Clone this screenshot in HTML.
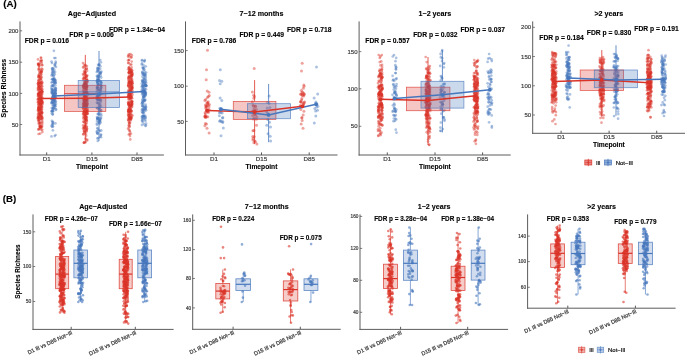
<!DOCTYPE html>
<html><head><meta charset="utf-8"><style>html,body{margin:0;padding:0;background:#fff;width:685px;height:356px;overflow:hidden}svg{display:block;will-change:transform}text{font-family:"Liberation Sans", sans-serif}</style></head>
<body><svg width="685" height="356" viewBox="0 0 685 356" font-family='"Liberation Sans", sans-serif'><text x="3.20" y="7.30" font-size="9.7" font-weight="bold" text-anchor="start" fill="#000" stroke="#000" stroke-width="0.12">(A)</text>
<text x="2.80" y="202.20" font-size="9.7" font-weight="bold" text-anchor="start" fill="#000" stroke="#000" stroke-width="0.12">(B)</text>
<text x="91.95" y="15.80" font-size="7.15" font-weight="bold" text-anchor="middle" fill="#000" stroke="#000" stroke-width="0.12">Age−Adjusted</text>
<g fill="#DA3328" fill-opacity="0.45"><circle cx="40.9" cy="57.5" r="1.35"/><circle cx="38.6" cy="134.0" r="1.35"/><circle cx="42.0" cy="91.3" r="1.35"/><circle cx="42.4" cy="89.4" r="1.35"/><circle cx="38.9" cy="76.5" r="1.35"/><circle cx="42.3" cy="91.5" r="1.35"/><circle cx="39.7" cy="119.4" r="1.35"/><circle cx="40.1" cy="104.9" r="1.35"/><circle cx="42.5" cy="117.8" r="1.35"/><circle cx="41.7" cy="101.2" r="1.35"/><circle cx="38.6" cy="104.3" r="1.35"/><circle cx="39.9" cy="99.9" r="1.35"/><circle cx="40.3" cy="61.0" r="1.35"/><circle cx="39.5" cy="114.0" r="1.35"/><circle cx="38.8" cy="106.6" r="1.35"/><circle cx="39.4" cy="106.5" r="1.35"/><circle cx="41.2" cy="60.5" r="1.35"/><circle cx="38.0" cy="59.4" r="1.35"/><circle cx="40.4" cy="77.3" r="1.35"/><circle cx="39.9" cy="86.2" r="1.35"/><circle cx="38.0" cy="102.4" r="1.35"/><circle cx="39.4" cy="95.0" r="1.35"/><circle cx="40.8" cy="106.9" r="1.35"/><circle cx="40.3" cy="82.5" r="1.35"/><circle cx="38.2" cy="102.5" r="1.35"/><circle cx="42.4" cy="104.3" r="1.35"/><circle cx="41.5" cy="82.1" r="1.35"/><circle cx="42.4" cy="132.1" r="1.35"/><circle cx="38.4" cy="107.7" r="1.35"/><circle cx="39.1" cy="121.1" r="1.35"/><circle cx="38.1" cy="83.0" r="1.35"/><circle cx="41.5" cy="80.5" r="1.35"/><circle cx="39.1" cy="88.8" r="1.35"/><circle cx="38.5" cy="93.8" r="1.35"/><circle cx="39.8" cy="109.3" r="1.35"/><circle cx="42.1" cy="101.2" r="1.35"/><circle cx="41.7" cy="86.6" r="1.35"/><circle cx="39.1" cy="75.9" r="1.35"/><circle cx="38.6" cy="85.1" r="1.35"/><circle cx="42.1" cy="121.6" r="1.35"/><circle cx="40.5" cy="79.0" r="1.35"/><circle cx="41.1" cy="101.1" r="1.35"/><circle cx="38.3" cy="105.0" r="1.35"/><circle cx="38.2" cy="64.7" r="1.35"/><circle cx="41.1" cy="97.0" r="1.35"/><circle cx="39.9" cy="123.4" r="1.35"/><circle cx="38.2" cy="89.2" r="1.35"/><circle cx="42.2" cy="93.8" r="1.35"/><circle cx="40.8" cy="78.8" r="1.35"/><circle cx="41.6" cy="106.4" r="1.35"/><circle cx="38.3" cy="94.7" r="1.35"/><circle cx="41.8" cy="65.2" r="1.35"/><circle cx="38.2" cy="113.4" r="1.35"/><circle cx="41.9" cy="110.1" r="1.35"/><circle cx="40.0" cy="115.9" r="1.35"/><circle cx="39.5" cy="126.3" r="1.35"/><circle cx="40.4" cy="103.6" r="1.35"/><circle cx="42.2" cy="98.5" r="1.35"/><circle cx="39.1" cy="68.7" r="1.35"/><circle cx="38.5" cy="108.9" r="1.35"/><circle cx="40.3" cy="83.2" r="1.35"/><circle cx="39.0" cy="86.5" r="1.35"/><circle cx="38.4" cy="69.4" r="1.35"/><circle cx="38.6" cy="75.7" r="1.35"/><circle cx="38.1" cy="84.8" r="1.35"/><circle cx="38.8" cy="123.1" r="1.35"/><circle cx="39.3" cy="65.4" r="1.35"/><circle cx="39.3" cy="101.0" r="1.35"/><circle cx="41.4" cy="126.3" r="1.35"/><circle cx="39.2" cy="108.1" r="1.35"/><circle cx="40.2" cy="103.5" r="1.35"/><circle cx="38.7" cy="80.5" r="1.35"/><circle cx="39.5" cy="72.5" r="1.35"/><circle cx="38.0" cy="116.5" r="1.35"/><circle cx="39.1" cy="119.1" r="1.35"/><circle cx="38.0" cy="99.3" r="1.35"/><circle cx="41.3" cy="101.2" r="1.35"/><circle cx="40.4" cy="105.1" r="1.35"/><circle cx="38.8" cy="129.5" r="1.35"/><circle cx="40.1" cy="109.0" r="1.35"/><circle cx="42.2" cy="106.9" r="1.35"/><circle cx="38.4" cy="107.5" r="1.35"/><circle cx="41.7" cy="63.1" r="1.35"/><circle cx="39.9" cy="122.9" r="1.35"/><circle cx="40.2" cy="116.1" r="1.35"/><circle cx="41.7" cy="107.1" r="1.35"/><circle cx="39.7" cy="82.7" r="1.35"/><circle cx="40.2" cy="113.7" r="1.35"/><circle cx="41.1" cy="58.0" r="1.35"/><circle cx="42.4" cy="92.1" r="1.35"/><circle cx="39.5" cy="117.4" r="1.35"/><circle cx="41.7" cy="68.5" r="1.35"/><circle cx="41.2" cy="129.8" r="1.35"/><circle cx="40.8" cy="107.6" r="1.35"/><circle cx="39.8" cy="92.8" r="1.35"/><circle cx="39.5" cy="102.8" r="1.35"/><circle cx="38.2" cy="109.6" r="1.35"/><circle cx="38.5" cy="98.5" r="1.35"/><circle cx="38.2" cy="120.1" r="1.35"/><circle cx="41.3" cy="82.1" r="1.35"/><circle cx="39.1" cy="87.3" r="1.35"/><circle cx="38.7" cy="117.9" r="1.35"/><circle cx="38.3" cy="96.6" r="1.35"/><circle cx="41.8" cy="77.5" r="1.35"/><circle cx="41.9" cy="115.9" r="1.35"/><circle cx="41.0" cy="126.8" r="1.35"/><circle cx="39.2" cy="86.7" r="1.35"/><circle cx="39.0" cy="67.0" r="1.35"/><circle cx="39.2" cy="93.2" r="1.35"/><circle cx="40.0" cy="92.9" r="1.35"/><circle cx="38.6" cy="89.7" r="1.35"/><circle cx="40.0" cy="125.5" r="1.35"/><circle cx="39.1" cy="74.4" r="1.35"/><circle cx="42.3" cy="122.5" r="1.35"/><circle cx="42.4" cy="69.4" r="1.35"/><circle cx="40.4" cy="79.5" r="1.35"/><circle cx="39.0" cy="109.3" r="1.35"/><circle cx="42.3" cy="119.7" r="1.35"/><circle cx="39.3" cy="114.0" r="1.35"/><circle cx="39.5" cy="103.2" r="1.35"/><circle cx="37.9" cy="99.0" r="1.35"/><circle cx="39.7" cy="99.2" r="1.35"/><circle cx="40.1" cy="108.1" r="1.35"/><circle cx="40.2" cy="92.3" r="1.35"/><circle cx="38.8" cy="101.8" r="1.35"/><circle cx="40.2" cy="108.0" r="1.35"/><circle cx="37.9" cy="96.0" r="1.35"/><circle cx="39.1" cy="112.0" r="1.35"/><circle cx="38.3" cy="107.9" r="1.35"/><circle cx="39.7" cy="102.8" r="1.35"/><circle cx="38.1" cy="87.0" r="1.35"/><circle cx="38.0" cy="88.2" r="1.35"/><circle cx="39.3" cy="95.7" r="1.35"/><circle cx="39.0" cy="115.4" r="1.35"/><circle cx="40.6" cy="88.9" r="1.35"/><circle cx="40.3" cy="104.1" r="1.35"/><circle cx="41.4" cy="72.4" r="1.35"/><circle cx="40.9" cy="101.1" r="1.35"/><circle cx="41.2" cy="104.4" r="1.35"/><circle cx="41.9" cy="101.0" r="1.35"/><circle cx="39.7" cy="86.9" r="1.35"/><circle cx="39.4" cy="109.8" r="1.35"/><circle cx="42.4" cy="101.9" r="1.35"/><circle cx="38.6" cy="85.0" r="1.35"/><circle cx="41.2" cy="103.5" r="1.35"/><circle cx="40.9" cy="84.4" r="1.35"/><circle cx="38.1" cy="93.9" r="1.35"/><circle cx="41.7" cy="91.3" r="1.35"/><circle cx="42.0" cy="94.7" r="1.35"/><circle cx="40.8" cy="85.8" r="1.35"/><circle cx="41.3" cy="117.2" r="1.35"/><circle cx="41.6" cy="71.5" r="1.35"/><circle cx="38.5" cy="94.6" r="1.35"/><circle cx="40.3" cy="116.0" r="1.35"/><circle cx="40.2" cy="114.0" r="1.35"/><circle cx="41.7" cy="127.3" r="1.35"/><circle cx="41.6" cy="60.3" r="1.35"/><circle cx="41.7" cy="88.6" r="1.35"/><circle cx="40.6" cy="88.8" r="1.35"/><circle cx="42.0" cy="109.1" r="1.35"/><circle cx="41.0" cy="118.9" r="1.35"/><circle cx="41.1" cy="118.9" r="1.35"/><circle cx="39.0" cy="65.6" r="1.35"/><circle cx="38.0" cy="110.3" r="1.35"/><circle cx="38.5" cy="64.7" r="1.35"/><circle cx="39.6" cy="99.7" r="1.35"/><circle cx="38.4" cy="121.1" r="1.35"/><circle cx="41.7" cy="92.9" r="1.35"/><circle cx="40.5" cy="100.0" r="1.35"/><circle cx="40.8" cy="112.7" r="1.35"/><circle cx="40.8" cy="99.0" r="1.35"/><circle cx="41.0" cy="94.1" r="1.35"/><circle cx="40.2" cy="128.2" r="1.35"/><circle cx="37.9" cy="118.0" r="1.35"/><circle cx="41.6" cy="89.8" r="1.35"/><circle cx="41.3" cy="71.9" r="1.35"/><circle cx="40.2" cy="115.2" r="1.35"/><circle cx="40.4" cy="90.4" r="1.35"/><circle cx="40.9" cy="98.8" r="1.35"/><circle cx="38.2" cy="110.8" r="1.35"/><circle cx="41.3" cy="100.7" r="1.35"/><circle cx="39.1" cy="109.4" r="1.35"/><circle cx="38.2" cy="63.9" r="1.35"/><circle cx="39.1" cy="64.3" r="1.35"/><circle cx="41.3" cy="108.9" r="1.35"/><circle cx="38.8" cy="75.8" r="1.35"/><circle cx="41.3" cy="74.4" r="1.35"/><circle cx="42.4" cy="65.1" r="1.35"/><circle cx="40.2" cy="122.6" r="1.35"/><circle cx="39.7" cy="111.7" r="1.35"/><circle cx="40.1" cy="126.9" r="1.35"/><circle cx="41.0" cy="76.3" r="1.35"/><circle cx="41.4" cy="96.0" r="1.35"/><circle cx="40.7" cy="72.1" r="1.35"/><circle cx="40.9" cy="112.1" r="1.35"/><circle cx="38.3" cy="129.4" r="1.35"/><circle cx="38.6" cy="77.3" r="1.35"/><circle cx="39.1" cy="128.8" r="1.35"/><circle cx="41.3" cy="116.7" r="1.35"/><circle cx="39.3" cy="92.3" r="1.35"/><circle cx="40.5" cy="125.5" r="1.35"/><circle cx="38.0" cy="94.0" r="1.35"/><circle cx="38.2" cy="83.3" r="1.35"/><circle cx="39.1" cy="104.4" r="1.35"/><circle cx="41.0" cy="104.6" r="1.35"/><circle cx="41.1" cy="127.5" r="1.35"/><circle cx="41.0" cy="74.6" r="1.35"/><circle cx="39.2" cy="119.9" r="1.35"/><circle cx="40.3" cy="127.2" r="1.35"/><circle cx="40.0" cy="126.5" r="1.35"/><circle cx="40.0" cy="92.2" r="1.35"/><circle cx="38.4" cy="80.4" r="1.35"/><circle cx="42.0" cy="117.4" r="1.35"/><circle cx="38.8" cy="98.4" r="1.35"/><circle cx="42.4" cy="98.6" r="1.35"/><circle cx="42.2" cy="125.9" r="1.35"/><circle cx="38.0" cy="90.5" r="1.35"/><circle cx="40.0" cy="87.9" r="1.35"/><circle cx="41.7" cy="113.2" r="1.35"/><circle cx="42.4" cy="102.7" r="1.35"/><circle cx="40.0" cy="83.2" r="1.35"/><circle cx="39.1" cy="95.8" r="1.35"/><circle cx="38.9" cy="113.5" r="1.35"/><circle cx="42.2" cy="97.7" r="1.35"/><circle cx="38.9" cy="123.9" r="1.35"/><circle cx="40.6" cy="94.7" r="1.35"/><circle cx="38.6" cy="117.8" r="1.35"/><circle cx="40.3" cy="127.3" r="1.35"/><circle cx="42.3" cy="129.8" r="1.35"/><circle cx="38.5" cy="81.9" r="1.35"/><circle cx="41.7" cy="114.5" r="1.35"/><circle cx="40.2" cy="73.2" r="1.35"/><circle cx="42.0" cy="118.4" r="1.35"/><circle cx="41.1" cy="70.1" r="1.35"/><circle cx="39.0" cy="95.7" r="1.35"/><circle cx="42.0" cy="92.0" r="1.35"/><circle cx="40.1" cy="95.4" r="1.35"/><circle cx="38.0" cy="83.6" r="1.35"/><circle cx="37.9" cy="100.9" r="1.35"/><circle cx="40.2" cy="133.6" r="1.35"/><circle cx="40.0" cy="96.9" r="1.35"/><circle cx="39.3" cy="107.2" r="1.35"/><circle cx="38.5" cy="117.0" r="1.35"/><circle cx="39.5" cy="91.8" r="1.35"/><circle cx="39.4" cy="69.5" r="1.35"/><circle cx="41.8" cy="84.3" r="1.35"/><circle cx="37.9" cy="118.5" r="1.35"/><circle cx="41.4" cy="61.4" r="1.35"/><circle cx="41.8" cy="83.4" r="1.35"/><circle cx="38.5" cy="117.2" r="1.35"/><circle cx="42.2" cy="112.6" r="1.35"/><circle cx="41.2" cy="96.2" r="1.35"/><circle cx="42.0" cy="112.9" r="1.35"/><circle cx="39.2" cy="99.5" r="1.35"/><circle cx="39.6" cy="71.2" r="1.35"/><circle cx="39.7" cy="63.2" r="1.35"/><circle cx="42.5" cy="82.6" r="1.35"/><circle cx="40.6" cy="115.4" r="1.35"/><circle cx="39.6" cy="84.1" r="1.35"/><circle cx="39.9" cy="77.1" r="1.35"/><circle cx="39.2" cy="79.8" r="1.35"/><circle cx="38.1" cy="63.8" r="1.35"/><circle cx="38.4" cy="93.5" r="1.35"/><circle cx="41.7" cy="71.2" r="1.35"/><circle cx="39.2" cy="103.6" r="1.35"/><circle cx="42.2" cy="102.9" r="1.35"/><circle cx="39.0" cy="82.5" r="1.35"/><circle cx="39.1" cy="111.2" r="1.35"/><circle cx="40.3" cy="90.2" r="1.35"/><circle cx="38.8" cy="77.6" r="1.35"/><circle cx="39.6" cy="102.1" r="1.35"/><circle cx="42.3" cy="86.4" r="1.35"/><circle cx="42.0" cy="112.4" r="1.35"/><circle cx="41.6" cy="111.7" r="1.35"/><circle cx="40.8" cy="110.0" r="1.35"/><circle cx="42.1" cy="102.9" r="1.35"/><circle cx="42.2" cy="124.0" r="1.35"/><circle cx="40.4" cy="109.9" r="1.35"/><circle cx="41.2" cy="105.5" r="1.35"/><circle cx="38.1" cy="114.8" r="1.35"/></g>
<g fill="#4677BD" fill-opacity="0.45"><circle cx="55.5" cy="58.0" r="1.35"/><circle cx="51.5" cy="136.4" r="1.35"/><circle cx="53.3" cy="71.2" r="1.35"/><circle cx="55.1" cy="93.5" r="1.35"/><circle cx="54.9" cy="64.2" r="1.35"/><circle cx="51.6" cy="91.6" r="1.35"/><circle cx="51.6" cy="99.2" r="1.35"/><circle cx="51.7" cy="102.4" r="1.35"/><circle cx="55.6" cy="88.4" r="1.35"/><circle cx="52.6" cy="74.9" r="1.35"/><circle cx="54.8" cy="96.2" r="1.35"/><circle cx="55.5" cy="83.3" r="1.35"/><circle cx="53.0" cy="124.3" r="1.35"/><circle cx="52.7" cy="108.4" r="1.35"/><circle cx="55.8" cy="90.7" r="1.35"/><circle cx="54.2" cy="83.6" r="1.35"/><circle cx="52.6" cy="78.9" r="1.35"/><circle cx="54.7" cy="74.3" r="1.35"/><circle cx="52.9" cy="85.9" r="1.35"/><circle cx="52.7" cy="98.9" r="1.35"/><circle cx="51.4" cy="103.3" r="1.35"/><circle cx="54.9" cy="104.4" r="1.35"/><circle cx="55.6" cy="135.0" r="1.35"/><circle cx="54.3" cy="78.9" r="1.35"/><circle cx="55.7" cy="93.3" r="1.35"/><circle cx="51.5" cy="82.6" r="1.35"/><circle cx="52.5" cy="96.4" r="1.35"/><circle cx="53.6" cy="96.1" r="1.35"/><circle cx="55.8" cy="101.2" r="1.35"/><circle cx="55.8" cy="88.2" r="1.35"/><circle cx="53.2" cy="100.3" r="1.35"/><circle cx="52.6" cy="94.1" r="1.35"/><circle cx="53.4" cy="108.4" r="1.35"/><circle cx="53.7" cy="75.3" r="1.35"/><circle cx="55.7" cy="93.0" r="1.35"/><circle cx="52.2" cy="72.4" r="1.35"/><circle cx="55.1" cy="72.1" r="1.35"/><circle cx="54.8" cy="105.6" r="1.35"/><circle cx="55.2" cy="80.0" r="1.35"/><circle cx="55.0" cy="105.7" r="1.35"/><circle cx="54.2" cy="107.9" r="1.35"/><circle cx="52.9" cy="99.1" r="1.35"/><circle cx="52.9" cy="103.2" r="1.35"/><circle cx="53.1" cy="90.9" r="1.35"/><circle cx="55.0" cy="64.8" r="1.35"/><circle cx="51.8" cy="92.4" r="1.35"/><circle cx="52.3" cy="102.1" r="1.35"/><circle cx="54.9" cy="82.4" r="1.35"/><circle cx="52.5" cy="91.0" r="1.35"/><circle cx="51.7" cy="108.0" r="1.35"/><circle cx="51.6" cy="75.4" r="1.35"/><circle cx="53.9" cy="105.8" r="1.35"/><circle cx="52.9" cy="130.3" r="1.35"/><circle cx="55.9" cy="81.9" r="1.35"/><circle cx="55.5" cy="95.9" r="1.35"/><circle cx="55.9" cy="90.0" r="1.35"/><circle cx="52.6" cy="123.8" r="1.35"/><circle cx="51.8" cy="99.3" r="1.35"/><circle cx="51.8" cy="111.0" r="1.35"/><circle cx="53.7" cy="79.2" r="1.35"/><circle cx="54.7" cy="92.7" r="1.35"/><circle cx="53.5" cy="92.8" r="1.35"/><circle cx="52.5" cy="121.8" r="1.35"/><circle cx="53.3" cy="111.0" r="1.35"/><circle cx="54.3" cy="58.0" r="1.35"/><circle cx="54.5" cy="107.9" r="1.35"/><circle cx="54.8" cy="90.4" r="1.35"/><circle cx="55.3" cy="102.0" r="1.35"/><circle cx="54.5" cy="100.3" r="1.35"/><circle cx="52.0" cy="63.0" r="1.35"/><circle cx="55.3" cy="88.8" r="1.35"/><circle cx="52.8" cy="122.9" r="1.35"/><circle cx="54.0" cy="81.5" r="1.35"/><circle cx="53.1" cy="72.5" r="1.35"/><circle cx="54.8" cy="65.8" r="1.35"/><circle cx="52.3" cy="68.6" r="1.35"/><circle cx="52.5" cy="99.7" r="1.35"/><circle cx="52.5" cy="126.9" r="1.35"/><circle cx="52.1" cy="101.6" r="1.35"/><circle cx="55.5" cy="97.9" r="1.35"/><circle cx="54.1" cy="82.6" r="1.35"/><circle cx="52.9" cy="79.5" r="1.35"/><circle cx="53.2" cy="103.6" r="1.35"/><circle cx="56.0" cy="104.0" r="1.35"/><circle cx="53.7" cy="72.7" r="1.35"/><circle cx="52.5" cy="69.6" r="1.35"/><circle cx="55.1" cy="98.8" r="1.35"/><circle cx="54.4" cy="97.9" r="1.35"/><circle cx="56.0" cy="66.9" r="1.35"/><circle cx="51.9" cy="89.0" r="1.35"/><circle cx="53.6" cy="82.1" r="1.35"/><circle cx="55.2" cy="102.2" r="1.35"/><circle cx="55.3" cy="90.7" r="1.35"/><circle cx="55.6" cy="91.3" r="1.35"/><circle cx="51.6" cy="85.9" r="1.35"/><circle cx="52.8" cy="114.1" r="1.35"/><circle cx="51.9" cy="120.8" r="1.35"/><circle cx="52.3" cy="85.7" r="1.35"/><circle cx="55.9" cy="109.9" r="1.35"/><circle cx="54.1" cy="77.8" r="1.35"/><circle cx="55.7" cy="94.4" r="1.35"/><circle cx="53.1" cy="108.0" r="1.35"/><circle cx="55.4" cy="123.3" r="1.35"/><circle cx="53.5" cy="85.3" r="1.35"/><circle cx="52.6" cy="91.5" r="1.35"/><circle cx="55.0" cy="96.9" r="1.35"/><circle cx="55.8" cy="63.0" r="1.35"/><circle cx="51.9" cy="93.3" r="1.35"/><circle cx="54.1" cy="79.5" r="1.35"/><circle cx="54.3" cy="100.4" r="1.35"/><circle cx="52.4" cy="70.4" r="1.35"/><circle cx="53.1" cy="93.8" r="1.35"/><circle cx="52.1" cy="98.2" r="1.35"/><circle cx="52.3" cy="82.0" r="1.35"/><circle cx="52.6" cy="110.8" r="1.35"/><circle cx="54.2" cy="87.5" r="1.35"/><circle cx="54.4" cy="80.9" r="1.35"/><circle cx="52.3" cy="102.6" r="1.35"/><circle cx="51.5" cy="61.6" r="1.35"/><circle cx="52.9" cy="79.5" r="1.35"/><circle cx="54.5" cy="92.6" r="1.35"/><circle cx="52.3" cy="110.0" r="1.35"/><circle cx="52.8" cy="89.7" r="1.35"/><circle cx="52.3" cy="99.2" r="1.35"/><circle cx="55.1" cy="79.9" r="1.35"/><circle cx="53.9" cy="99.0" r="1.35"/><circle cx="51.7" cy="126.3" r="1.35"/><circle cx="51.9" cy="79.3" r="1.35"/><circle cx="53.2" cy="80.1" r="1.35"/><circle cx="53.9" cy="93.3" r="1.35"/><circle cx="54.3" cy="96.5" r="1.35"/><circle cx="51.8" cy="113.5" r="1.35"/><circle cx="52.2" cy="68.3" r="1.35"/><circle cx="54.6" cy="105.1" r="1.35"/><circle cx="53.3" cy="108.9" r="1.35"/><circle cx="52.7" cy="105.5" r="1.35"/><circle cx="52.8" cy="97.1" r="1.35"/><circle cx="55.8" cy="98.1" r="1.35"/><circle cx="52.8" cy="111.6" r="1.35"/><circle cx="54.0" cy="100.4" r="1.35"/><circle cx="53.0" cy="126.3" r="1.35"/><circle cx="53.3" cy="68.2" r="1.35"/><circle cx="55.4" cy="85.5" r="1.35"/><circle cx="56.0" cy="109.2" r="1.35"/><circle cx="53.1" cy="85.6" r="1.35"/><circle cx="52.3" cy="111.5" r="1.35"/><circle cx="54.7" cy="136.1" r="1.35"/><circle cx="52.3" cy="92.9" r="1.35"/><circle cx="51.4" cy="87.9" r="1.35"/><circle cx="55.5" cy="83.0" r="1.35"/><circle cx="53.3" cy="76.2" r="1.35"/><circle cx="55.2" cy="80.4" r="1.35"/><circle cx="53.3" cy="105.8" r="1.35"/><circle cx="55.5" cy="93.7" r="1.35"/><circle cx="53.5" cy="94.3" r="1.35"/><circle cx="52.1" cy="89.5" r="1.35"/><circle cx="51.5" cy="111.3" r="1.35"/><circle cx="53.9" cy="102.9" r="1.35"/><circle cx="54.3" cy="90.2" r="1.35"/><circle cx="55.6" cy="106.3" r="1.35"/><circle cx="51.8" cy="90.0" r="1.35"/><circle cx="54.3" cy="69.9" r="1.35"/><circle cx="53.1" cy="122.1" r="1.35"/><circle cx="53.7" cy="102.3" r="1.35"/><circle cx="52.1" cy="73.9" r="1.35"/><circle cx="52.7" cy="114.6" r="1.35"/><circle cx="53.8" cy="99.9" r="1.35"/><circle cx="55.7" cy="61.7" r="1.35"/><circle cx="51.9" cy="125.2" r="1.35"/><circle cx="53.7" cy="99.7" r="1.35"/></g>
<g fill="#DA3328" fill-opacity="0.45"><circle cx="83.0" cy="63.0" r="1.35"/><circle cx="83.9" cy="142.8" r="1.35"/><circle cx="86.5" cy="103.7" r="1.35"/><circle cx="87.5" cy="110.8" r="1.35"/><circle cx="83.0" cy="79.0" r="1.35"/><circle cx="85.3" cy="92.8" r="1.35"/><circle cx="85.3" cy="100.8" r="1.35"/><circle cx="86.7" cy="119.5" r="1.35"/><circle cx="83.8" cy="90.2" r="1.35"/><circle cx="85.3" cy="125.2" r="1.35"/><circle cx="84.6" cy="82.7" r="1.35"/><circle cx="86.8" cy="105.9" r="1.35"/><circle cx="84.2" cy="88.4" r="1.35"/><circle cx="87.3" cy="103.5" r="1.35"/><circle cx="84.3" cy="84.8" r="1.35"/><circle cx="84.0" cy="64.9" r="1.35"/><circle cx="86.2" cy="124.0" r="1.35"/><circle cx="85.3" cy="106.7" r="1.35"/><circle cx="83.5" cy="87.7" r="1.35"/><circle cx="85.9" cy="104.4" r="1.35"/><circle cx="83.4" cy="121.8" r="1.35"/><circle cx="86.6" cy="78.5" r="1.35"/><circle cx="86.2" cy="97.6" r="1.35"/><circle cx="86.6" cy="111.9" r="1.35"/><circle cx="85.9" cy="111.6" r="1.35"/><circle cx="84.6" cy="92.6" r="1.35"/><circle cx="84.8" cy="127.3" r="1.35"/><circle cx="84.8" cy="107.2" r="1.35"/><circle cx="87.1" cy="100.3" r="1.35"/><circle cx="83.4" cy="93.9" r="1.35"/><circle cx="87.1" cy="105.8" r="1.35"/><circle cx="83.1" cy="90.6" r="1.35"/><circle cx="83.9" cy="77.5" r="1.35"/><circle cx="84.2" cy="83.7" r="1.35"/><circle cx="87.1" cy="86.9" r="1.35"/><circle cx="85.3" cy="86.5" r="1.35"/><circle cx="84.7" cy="74.5" r="1.35"/><circle cx="87.1" cy="114.0" r="1.35"/><circle cx="84.1" cy="71.2" r="1.35"/><circle cx="85.1" cy="114.5" r="1.35"/><circle cx="85.4" cy="77.7" r="1.35"/><circle cx="86.5" cy="107.8" r="1.35"/><circle cx="86.5" cy="130.2" r="1.35"/><circle cx="86.0" cy="104.5" r="1.35"/><circle cx="84.6" cy="83.9" r="1.35"/><circle cx="84.5" cy="101.1" r="1.35"/><circle cx="83.7" cy="103.3" r="1.35"/><circle cx="86.9" cy="86.6" r="1.35"/><circle cx="86.0" cy="103.6" r="1.35"/><circle cx="86.4" cy="89.7" r="1.35"/><circle cx="83.8" cy="101.8" r="1.35"/><circle cx="85.0" cy="116.1" r="1.35"/><circle cx="86.6" cy="116.9" r="1.35"/><circle cx="85.7" cy="119.9" r="1.35"/><circle cx="83.6" cy="112.9" r="1.35"/><circle cx="85.1" cy="93.7" r="1.35"/><circle cx="87.1" cy="99.6" r="1.35"/><circle cx="84.1" cy="94.0" r="1.35"/><circle cx="83.9" cy="93.1" r="1.35"/><circle cx="84.4" cy="96.0" r="1.35"/><circle cx="86.2" cy="92.7" r="1.35"/><circle cx="86.9" cy="99.5" r="1.35"/><circle cx="83.7" cy="78.6" r="1.35"/><circle cx="83.7" cy="99.5" r="1.35"/><circle cx="84.1" cy="111.3" r="1.35"/><circle cx="84.5" cy="96.4" r="1.35"/><circle cx="85.4" cy="95.5" r="1.35"/><circle cx="83.7" cy="121.6" r="1.35"/><circle cx="84.5" cy="102.8" r="1.35"/><circle cx="83.9" cy="111.4" r="1.35"/><circle cx="87.5" cy="93.3" r="1.35"/><circle cx="86.4" cy="112.1" r="1.35"/><circle cx="83.5" cy="118.7" r="1.35"/><circle cx="87.4" cy="108.2" r="1.35"/><circle cx="83.5" cy="100.5" r="1.35"/><circle cx="84.8" cy="87.1" r="1.35"/><circle cx="87.5" cy="114.0" r="1.35"/><circle cx="86.7" cy="89.3" r="1.35"/><circle cx="86.4" cy="104.9" r="1.35"/><circle cx="85.0" cy="88.8" r="1.35"/><circle cx="83.9" cy="99.3" r="1.35"/><circle cx="85.9" cy="104.4" r="1.35"/><circle cx="83.5" cy="116.6" r="1.35"/><circle cx="83.9" cy="80.7" r="1.35"/><circle cx="84.8" cy="99.3" r="1.35"/><circle cx="83.2" cy="113.6" r="1.35"/><circle cx="84.8" cy="103.2" r="1.35"/><circle cx="86.6" cy="127.3" r="1.35"/><circle cx="86.2" cy="80.0" r="1.35"/><circle cx="85.3" cy="118.8" r="1.35"/><circle cx="85.9" cy="133.6" r="1.35"/><circle cx="85.1" cy="120.3" r="1.35"/><circle cx="83.7" cy="117.9" r="1.35"/><circle cx="85.8" cy="86.4" r="1.35"/><circle cx="84.9" cy="84.3" r="1.35"/><circle cx="86.4" cy="119.5" r="1.35"/><circle cx="87.2" cy="79.9" r="1.35"/><circle cx="85.0" cy="78.1" r="1.35"/><circle cx="85.6" cy="142.3" r="1.35"/><circle cx="86.4" cy="84.9" r="1.35"/><circle cx="84.9" cy="84.0" r="1.35"/><circle cx="84.1" cy="105.1" r="1.35"/><circle cx="86.3" cy="83.5" r="1.35"/><circle cx="87.0" cy="128.8" r="1.35"/><circle cx="86.6" cy="98.3" r="1.35"/><circle cx="86.2" cy="76.1" r="1.35"/><circle cx="86.9" cy="128.8" r="1.35"/><circle cx="86.1" cy="87.2" r="1.35"/><circle cx="86.0" cy="104.9" r="1.35"/><circle cx="85.1" cy="99.7" r="1.35"/><circle cx="84.4" cy="93.1" r="1.35"/><circle cx="85.9" cy="107.1" r="1.35"/><circle cx="83.5" cy="84.8" r="1.35"/><circle cx="84.9" cy="72.1" r="1.35"/><circle cx="86.6" cy="83.3" r="1.35"/><circle cx="86.3" cy="99.5" r="1.35"/><circle cx="85.9" cy="101.2" r="1.35"/><circle cx="84.2" cy="112.2" r="1.35"/><circle cx="84.9" cy="102.6" r="1.35"/><circle cx="85.1" cy="82.5" r="1.35"/><circle cx="85.9" cy="84.4" r="1.35"/><circle cx="84.9" cy="96.3" r="1.35"/><circle cx="86.1" cy="110.7" r="1.35"/><circle cx="87.3" cy="111.7" r="1.35"/><circle cx="83.8" cy="97.3" r="1.35"/><circle cx="86.0" cy="96.2" r="1.35"/><circle cx="86.6" cy="120.6" r="1.35"/><circle cx="84.8" cy="100.3" r="1.35"/><circle cx="85.3" cy="116.2" r="1.35"/><circle cx="87.5" cy="112.8" r="1.35"/><circle cx="83.2" cy="104.7" r="1.35"/><circle cx="85.5" cy="128.7" r="1.35"/><circle cx="83.7" cy="87.4" r="1.35"/><circle cx="86.6" cy="92.1" r="1.35"/><circle cx="87.3" cy="82.2" r="1.35"/><circle cx="85.4" cy="82.5" r="1.35"/><circle cx="83.5" cy="134.2" r="1.35"/><circle cx="85.6" cy="138.7" r="1.35"/><circle cx="85.5" cy="100.5" r="1.35"/><circle cx="86.3" cy="112.5" r="1.35"/><circle cx="85.4" cy="125.9" r="1.35"/><circle cx="85.9" cy="117.8" r="1.35"/><circle cx="86.8" cy="126.5" r="1.35"/><circle cx="85.4" cy="72.2" r="1.35"/><circle cx="84.9" cy="85.9" r="1.35"/><circle cx="87.4" cy="110.0" r="1.35"/><circle cx="84.0" cy="131.6" r="1.35"/><circle cx="86.1" cy="102.3" r="1.35"/><circle cx="84.8" cy="81.1" r="1.35"/><circle cx="86.5" cy="92.2" r="1.35"/><circle cx="83.6" cy="85.5" r="1.35"/><circle cx="87.5" cy="81.1" r="1.35"/><circle cx="84.6" cy="133.0" r="1.35"/><circle cx="83.3" cy="86.2" r="1.35"/><circle cx="84.3" cy="100.4" r="1.35"/><circle cx="84.8" cy="126.1" r="1.35"/><circle cx="83.1" cy="107.4" r="1.35"/><circle cx="84.9" cy="86.5" r="1.35"/><circle cx="84.9" cy="109.0" r="1.35"/><circle cx="86.2" cy="135.7" r="1.35"/><circle cx="84.6" cy="113.7" r="1.35"/><circle cx="84.2" cy="127.8" r="1.35"/><circle cx="84.0" cy="102.2" r="1.35"/><circle cx="86.4" cy="111.4" r="1.35"/><circle cx="87.3" cy="95.6" r="1.35"/><circle cx="85.4" cy="109.4" r="1.35"/><circle cx="84.0" cy="128.6" r="1.35"/><circle cx="86.7" cy="68.5" r="1.35"/><circle cx="84.8" cy="98.6" r="1.35"/><circle cx="84.0" cy="105.3" r="1.35"/><circle cx="83.6" cy="87.4" r="1.35"/><circle cx="86.6" cy="93.2" r="1.35"/><circle cx="86.7" cy="117.3" r="1.35"/><circle cx="85.9" cy="113.8" r="1.35"/><circle cx="85.2" cy="107.2" r="1.35"/><circle cx="85.6" cy="65.9" r="1.35"/><circle cx="84.0" cy="142.4" r="1.35"/><circle cx="87.4" cy="101.7" r="1.35"/><circle cx="84.6" cy="99.3" r="1.35"/><circle cx="85.9" cy="75.4" r="1.35"/><circle cx="86.8" cy="98.7" r="1.35"/><circle cx="86.8" cy="75.9" r="1.35"/><circle cx="85.2" cy="101.6" r="1.35"/><circle cx="84.4" cy="110.3" r="1.35"/><circle cx="85.5" cy="100.7" r="1.35"/><circle cx="83.6" cy="106.2" r="1.35"/><circle cx="86.8" cy="81.3" r="1.35"/><circle cx="84.6" cy="131.5" r="1.35"/><circle cx="86.9" cy="85.6" r="1.35"/><circle cx="84.2" cy="95.9" r="1.35"/><circle cx="84.7" cy="83.2" r="1.35"/><circle cx="84.2" cy="77.8" r="1.35"/><circle cx="85.0" cy="92.2" r="1.35"/><circle cx="83.9" cy="106.4" r="1.35"/><circle cx="83.0" cy="74.0" r="1.35"/><circle cx="86.3" cy="97.0" r="1.35"/><circle cx="84.3" cy="131.4" r="1.35"/><circle cx="84.1" cy="115.0" r="1.35"/><circle cx="84.4" cy="96.7" r="1.35"/><circle cx="85.2" cy="102.8" r="1.35"/><circle cx="85.0" cy="97.4" r="1.35"/><circle cx="85.9" cy="98.9" r="1.35"/><circle cx="86.0" cy="116.1" r="1.35"/><circle cx="84.7" cy="98.0" r="1.35"/><circle cx="87.3" cy="99.5" r="1.35"/><circle cx="86.9" cy="80.4" r="1.35"/><circle cx="83.3" cy="114.3" r="1.35"/><circle cx="86.8" cy="86.6" r="1.35"/><circle cx="87.2" cy="103.3" r="1.35"/><circle cx="86.6" cy="77.0" r="1.35"/><circle cx="83.6" cy="75.3" r="1.35"/><circle cx="86.8" cy="68.9" r="1.35"/><circle cx="85.9" cy="108.0" r="1.35"/><circle cx="83.1" cy="86.0" r="1.35"/><circle cx="83.1" cy="67.4" r="1.35"/><circle cx="87.4" cy="113.6" r="1.35"/><circle cx="86.0" cy="82.9" r="1.35"/><circle cx="84.2" cy="91.9" r="1.35"/><circle cx="83.5" cy="107.3" r="1.35"/><circle cx="83.7" cy="129.8" r="1.35"/><circle cx="84.1" cy="142.7" r="1.35"/><circle cx="86.6" cy="122.7" r="1.35"/><circle cx="84.6" cy="103.2" r="1.35"/><circle cx="83.7" cy="104.1" r="1.35"/><circle cx="87.2" cy="139.6" r="1.35"/><circle cx="86.6" cy="131.4" r="1.35"/><circle cx="83.8" cy="93.2" r="1.35"/><circle cx="87.1" cy="110.1" r="1.35"/><circle cx="85.8" cy="106.3" r="1.35"/><circle cx="86.6" cy="101.2" r="1.35"/><circle cx="86.1" cy="89.0" r="1.35"/><circle cx="87.1" cy="70.8" r="1.35"/><circle cx="86.6" cy="88.3" r="1.35"/><circle cx="86.9" cy="66.0" r="1.35"/><circle cx="83.9" cy="126.9" r="1.35"/><circle cx="86.2" cy="111.8" r="1.35"/><circle cx="85.4" cy="73.5" r="1.35"/><circle cx="86.4" cy="130.7" r="1.35"/><circle cx="85.0" cy="119.6" r="1.35"/><circle cx="87.1" cy="140.5" r="1.35"/><circle cx="85.6" cy="117.8" r="1.35"/><circle cx="84.2" cy="72.9" r="1.35"/><circle cx="84.1" cy="111.7" r="1.35"/><circle cx="83.6" cy="109.3" r="1.35"/><circle cx="85.3" cy="104.4" r="1.35"/><circle cx="83.3" cy="103.8" r="1.35"/><circle cx="85.1" cy="123.2" r="1.35"/><circle cx="83.7" cy="67.1" r="1.35"/><circle cx="85.3" cy="72.7" r="1.35"/><circle cx="85.3" cy="69.3" r="1.35"/><circle cx="85.5" cy="87.7" r="1.35"/><circle cx="87.0" cy="86.7" r="1.35"/><circle cx="83.0" cy="108.1" r="1.35"/><circle cx="86.9" cy="105.9" r="1.35"/><circle cx="85.2" cy="100.7" r="1.35"/><circle cx="85.6" cy="85.1" r="1.35"/><circle cx="86.1" cy="90.3" r="1.35"/><circle cx="86.9" cy="121.0" r="1.35"/><circle cx="84.7" cy="116.8" r="1.35"/><circle cx="84.9" cy="102.2" r="1.35"/><circle cx="87.4" cy="92.9" r="1.35"/><circle cx="83.3" cy="134.2" r="1.35"/><circle cx="85.9" cy="86.9" r="1.35"/><circle cx="85.9" cy="114.3" r="1.35"/><circle cx="83.1" cy="125.4" r="1.35"/><circle cx="85.8" cy="94.2" r="1.35"/><circle cx="86.1" cy="118.2" r="1.35"/><circle cx="87.3" cy="75.5" r="1.35"/><circle cx="84.5" cy="122.3" r="1.35"/><circle cx="87.5" cy="104.4" r="1.35"/><circle cx="85.3" cy="65.1" r="1.35"/><circle cx="85.2" cy="114.7" r="1.35"/><circle cx="87.1" cy="80.4" r="1.35"/><circle cx="83.2" cy="128.2" r="1.35"/><circle cx="86.3" cy="85.1" r="1.35"/><circle cx="85.9" cy="96.4" r="1.35"/><circle cx="84.6" cy="106.2" r="1.35"/><circle cx="87.0" cy="92.7" r="1.35"/><circle cx="84.7" cy="105.7" r="1.35"/><circle cx="85.2" cy="87.8" r="1.35"/></g>
<g fill="#4677BD" fill-opacity="0.45"><circle cx="100.3" cy="60.0" r="1.35"/><circle cx="97.8" cy="141.0" r="1.35"/><circle cx="99.4" cy="119.8" r="1.35"/><circle cx="100.8" cy="72.3" r="1.35"/><circle cx="100.8" cy="110.1" r="1.35"/><circle cx="99.1" cy="105.5" r="1.35"/><circle cx="98.9" cy="80.8" r="1.35"/><circle cx="99.4" cy="107.5" r="1.35"/><circle cx="97.6" cy="77.2" r="1.35"/><circle cx="97.6" cy="79.5" r="1.35"/><circle cx="97.5" cy="96.6" r="1.35"/><circle cx="99.9" cy="94.6" r="1.35"/><circle cx="98.4" cy="75.0" r="1.35"/><circle cx="99.3" cy="64.8" r="1.35"/><circle cx="98.6" cy="87.6" r="1.35"/><circle cx="99.1" cy="113.8" r="1.35"/><circle cx="97.4" cy="88.1" r="1.35"/><circle cx="96.9" cy="124.8" r="1.35"/><circle cx="101.3" cy="71.5" r="1.35"/><circle cx="98.4" cy="68.1" r="1.35"/><circle cx="97.2" cy="131.1" r="1.35"/><circle cx="99.6" cy="105.8" r="1.35"/><circle cx="100.3" cy="117.8" r="1.35"/><circle cx="97.4" cy="78.8" r="1.35"/><circle cx="99.4" cy="114.7" r="1.35"/><circle cx="98.3" cy="102.7" r="1.35"/><circle cx="99.1" cy="111.3" r="1.35"/><circle cx="96.8" cy="97.6" r="1.35"/><circle cx="96.9" cy="123.5" r="1.35"/><circle cx="101.3" cy="82.7" r="1.35"/><circle cx="100.7" cy="75.8" r="1.35"/><circle cx="98.9" cy="64.5" r="1.35"/><circle cx="99.3" cy="122.5" r="1.35"/><circle cx="97.9" cy="80.8" r="1.35"/><circle cx="100.3" cy="74.0" r="1.35"/><circle cx="98.7" cy="76.3" r="1.35"/><circle cx="101.1" cy="87.2" r="1.35"/><circle cx="100.2" cy="69.0" r="1.35"/><circle cx="100.5" cy="90.6" r="1.35"/><circle cx="101.1" cy="83.2" r="1.35"/><circle cx="97.9" cy="84.9" r="1.35"/><circle cx="96.9" cy="75.9" r="1.35"/><circle cx="97.6" cy="97.8" r="1.35"/><circle cx="97.5" cy="86.9" r="1.35"/><circle cx="97.1" cy="99.5" r="1.35"/><circle cx="96.9" cy="102.5" r="1.35"/><circle cx="99.3" cy="104.5" r="1.35"/><circle cx="100.7" cy="85.2" r="1.35"/><circle cx="98.8" cy="79.5" r="1.35"/><circle cx="101.1" cy="114.0" r="1.35"/><circle cx="100.9" cy="62.3" r="1.35"/><circle cx="97.0" cy="81.3" r="1.35"/><circle cx="99.5" cy="90.5" r="1.35"/><circle cx="98.5" cy="89.6" r="1.35"/><circle cx="97.3" cy="118.8" r="1.35"/><circle cx="101.1" cy="87.3" r="1.35"/><circle cx="97.9" cy="118.2" r="1.35"/><circle cx="99.3" cy="64.8" r="1.35"/><circle cx="99.6" cy="123.8" r="1.35"/><circle cx="101.1" cy="106.6" r="1.35"/><circle cx="99.8" cy="107.7" r="1.35"/><circle cx="98.5" cy="99.7" r="1.35"/><circle cx="98.8" cy="107.7" r="1.35"/><circle cx="97.4" cy="70.3" r="1.35"/><circle cx="101.1" cy="117.9" r="1.35"/><circle cx="101.3" cy="85.3" r="1.35"/><circle cx="97.7" cy="118.7" r="1.35"/><circle cx="96.9" cy="98.9" r="1.35"/><circle cx="97.9" cy="68.7" r="1.35"/><circle cx="98.3" cy="121.8" r="1.35"/><circle cx="100.9" cy="94.0" r="1.35"/><circle cx="100.9" cy="88.3" r="1.35"/><circle cx="100.6" cy="102.3" r="1.35"/><circle cx="96.9" cy="87.6" r="1.35"/><circle cx="100.3" cy="85.0" r="1.35"/><circle cx="100.0" cy="99.3" r="1.35"/><circle cx="99.7" cy="100.2" r="1.35"/><circle cx="101.2" cy="130.4" r="1.35"/><circle cx="97.0" cy="98.0" r="1.35"/><circle cx="97.4" cy="138.4" r="1.35"/><circle cx="100.2" cy="136.7" r="1.35"/><circle cx="101.0" cy="134.8" r="1.35"/><circle cx="99.8" cy="120.4" r="1.35"/><circle cx="98.1" cy="99.9" r="1.35"/><circle cx="99.4" cy="100.0" r="1.35"/><circle cx="100.2" cy="93.9" r="1.35"/><circle cx="97.2" cy="80.9" r="1.35"/><circle cx="98.2" cy="95.5" r="1.35"/><circle cx="97.9" cy="82.9" r="1.35"/><circle cx="97.3" cy="133.1" r="1.35"/><circle cx="98.9" cy="108.8" r="1.35"/><circle cx="97.5" cy="87.2" r="1.35"/><circle cx="97.8" cy="95.8" r="1.35"/><circle cx="97.4" cy="87.8" r="1.35"/><circle cx="99.8" cy="73.1" r="1.35"/><circle cx="96.8" cy="72.0" r="1.35"/><circle cx="100.0" cy="109.5" r="1.35"/><circle cx="97.6" cy="95.6" r="1.35"/><circle cx="96.9" cy="96.3" r="1.35"/><circle cx="101.0" cy="93.7" r="1.35"/><circle cx="97.7" cy="128.8" r="1.35"/><circle cx="101.0" cy="99.9" r="1.35"/><circle cx="100.7" cy="100.7" r="1.35"/><circle cx="100.8" cy="88.8" r="1.35"/><circle cx="97.3" cy="83.7" r="1.35"/><circle cx="98.8" cy="130.0" r="1.35"/><circle cx="97.1" cy="119.0" r="1.35"/><circle cx="101.0" cy="134.8" r="1.35"/><circle cx="100.6" cy="89.3" r="1.35"/><circle cx="99.6" cy="97.7" r="1.35"/><circle cx="98.8" cy="77.6" r="1.35"/><circle cx="98.3" cy="118.3" r="1.35"/><circle cx="100.5" cy="66.4" r="1.35"/><circle cx="98.9" cy="109.4" r="1.35"/><circle cx="99.6" cy="121.1" r="1.35"/><circle cx="97.4" cy="128.0" r="1.35"/><circle cx="97.7" cy="76.3" r="1.35"/><circle cx="97.0" cy="121.0" r="1.35"/><circle cx="100.0" cy="81.3" r="1.35"/><circle cx="99.2" cy="80.3" r="1.35"/><circle cx="97.4" cy="67.9" r="1.35"/><circle cx="100.7" cy="122.4" r="1.35"/><circle cx="97.9" cy="133.3" r="1.35"/><circle cx="98.6" cy="83.9" r="1.35"/><circle cx="97.4" cy="80.3" r="1.35"/><circle cx="97.9" cy="89.5" r="1.35"/><circle cx="100.6" cy="119.1" r="1.35"/><circle cx="98.2" cy="85.1" r="1.35"/><circle cx="97.5" cy="82.2" r="1.35"/><circle cx="99.0" cy="123.1" r="1.35"/><circle cx="98.2" cy="138.1" r="1.35"/><circle cx="100.9" cy="91.1" r="1.35"/><circle cx="97.2" cy="81.8" r="1.35"/><circle cx="101.2" cy="85.8" r="1.35"/><circle cx="97.0" cy="117.0" r="1.35"/><circle cx="100.8" cy="73.1" r="1.35"/><circle cx="99.8" cy="120.4" r="1.35"/><circle cx="97.7" cy="69.1" r="1.35"/><circle cx="98.9" cy="103.3" r="1.35"/><circle cx="98.0" cy="80.2" r="1.35"/><circle cx="97.9" cy="114.2" r="1.35"/><circle cx="97.6" cy="97.2" r="1.35"/><circle cx="98.4" cy="71.2" r="1.35"/><circle cx="101.3" cy="110.7" r="1.35"/><circle cx="101.3" cy="115.5" r="1.35"/><circle cx="101.0" cy="137.2" r="1.35"/><circle cx="97.1" cy="107.9" r="1.35"/><circle cx="98.0" cy="113.7" r="1.35"/><circle cx="100.8" cy="81.2" r="1.35"/><circle cx="97.0" cy="89.3" r="1.35"/><circle cx="100.0" cy="120.7" r="1.35"/><circle cx="98.1" cy="64.9" r="1.35"/><circle cx="101.2" cy="77.6" r="1.35"/><circle cx="96.8" cy="91.7" r="1.35"/><circle cx="100.4" cy="104.6" r="1.35"/><circle cx="98.3" cy="84.0" r="1.35"/><circle cx="97.3" cy="108.2" r="1.35"/><circle cx="96.7" cy="131.9" r="1.35"/><circle cx="100.5" cy="111.6" r="1.35"/><circle cx="99.1" cy="90.3" r="1.35"/><circle cx="97.6" cy="71.1" r="1.35"/><circle cx="98.7" cy="76.4" r="1.35"/><circle cx="100.9" cy="82.4" r="1.35"/><circle cx="97.7" cy="100.2" r="1.35"/><circle cx="99.3" cy="95.9" r="1.35"/><circle cx="97.3" cy="133.7" r="1.35"/><circle cx="97.5" cy="103.3" r="1.35"/><circle cx="100.2" cy="73.4" r="1.35"/><circle cx="100.0" cy="131.0" r="1.35"/><circle cx="97.6" cy="117.9" r="1.35"/></g>
<g fill="#DA3328" fill-opacity="0.45"><circle cx="130.4" cy="54.0" r="1.35"/><circle cx="130.3" cy="139.4" r="1.35"/><circle cx="128.9" cy="75.9" r="1.35"/><circle cx="128.8" cy="79.5" r="1.35"/><circle cx="130.9" cy="92.9" r="1.35"/><circle cx="130.8" cy="109.1" r="1.35"/><circle cx="129.6" cy="69.9" r="1.35"/><circle cx="132.6" cy="73.6" r="1.35"/><circle cx="130.9" cy="105.5" r="1.35"/><circle cx="128.2" cy="69.3" r="1.35"/><circle cx="129.9" cy="97.3" r="1.35"/><circle cx="131.6" cy="102.4" r="1.35"/><circle cx="129.4" cy="92.7" r="1.35"/><circle cx="131.2" cy="73.6" r="1.35"/><circle cx="128.0" cy="93.7" r="1.35"/><circle cx="129.4" cy="88.0" r="1.35"/><circle cx="131.9" cy="102.1" r="1.35"/><circle cx="130.7" cy="77.4" r="1.35"/><circle cx="131.1" cy="117.9" r="1.35"/><circle cx="128.9" cy="59.8" r="1.35"/><circle cx="130.3" cy="91.3" r="1.35"/><circle cx="130.5" cy="95.2" r="1.35"/><circle cx="129.2" cy="115.2" r="1.35"/><circle cx="131.0" cy="82.2" r="1.35"/><circle cx="130.4" cy="106.5" r="1.35"/><circle cx="132.6" cy="83.1" r="1.35"/><circle cx="130.6" cy="110.5" r="1.35"/><circle cx="129.9" cy="131.5" r="1.35"/><circle cx="128.6" cy="86.6" r="1.35"/><circle cx="128.7" cy="104.3" r="1.35"/><circle cx="131.5" cy="75.5" r="1.35"/><circle cx="128.5" cy="115.4" r="1.35"/><circle cx="128.5" cy="120.4" r="1.35"/><circle cx="128.8" cy="95.7" r="1.35"/><circle cx="130.4" cy="71.2" r="1.35"/><circle cx="131.8" cy="103.5" r="1.35"/><circle cx="130.8" cy="119.1" r="1.35"/><circle cx="131.7" cy="117.9" r="1.35"/><circle cx="128.3" cy="112.1" r="1.35"/><circle cx="128.1" cy="56.6" r="1.35"/><circle cx="131.5" cy="80.7" r="1.35"/><circle cx="129.5" cy="124.9" r="1.35"/><circle cx="131.3" cy="69.3" r="1.35"/><circle cx="129.6" cy="118.8" r="1.35"/><circle cx="128.8" cy="134.5" r="1.35"/><circle cx="129.2" cy="111.0" r="1.35"/><circle cx="128.5" cy="118.5" r="1.35"/><circle cx="132.2" cy="88.0" r="1.35"/><circle cx="130.7" cy="69.3" r="1.35"/><circle cx="129.6" cy="92.8" r="1.35"/><circle cx="130.1" cy="90.8" r="1.35"/><circle cx="129.8" cy="94.0" r="1.35"/><circle cx="128.3" cy="109.6" r="1.35"/><circle cx="132.1" cy="92.0" r="1.35"/><circle cx="130.7" cy="99.0" r="1.35"/><circle cx="132.4" cy="103.9" r="1.35"/><circle cx="130.0" cy="94.9" r="1.35"/><circle cx="130.9" cy="133.7" r="1.35"/><circle cx="129.1" cy="104.3" r="1.35"/><circle cx="128.2" cy="96.8" r="1.35"/><circle cx="132.3" cy="90.6" r="1.35"/><circle cx="131.9" cy="81.9" r="1.35"/><circle cx="129.4" cy="123.2" r="1.35"/><circle cx="132.1" cy="98.2" r="1.35"/><circle cx="131.8" cy="72.3" r="1.35"/><circle cx="129.4" cy="83.2" r="1.35"/><circle cx="130.8" cy="92.1" r="1.35"/><circle cx="132.4" cy="85.6" r="1.35"/><circle cx="130.3" cy="117.8" r="1.35"/><circle cx="132.4" cy="70.6" r="1.35"/><circle cx="129.1" cy="105.3" r="1.35"/><circle cx="129.8" cy="98.0" r="1.35"/><circle cx="131.3" cy="70.3" r="1.35"/><circle cx="129.0" cy="96.0" r="1.35"/><circle cx="129.4" cy="93.0" r="1.35"/><circle cx="132.0" cy="105.5" r="1.35"/><circle cx="130.2" cy="85.5" r="1.35"/><circle cx="131.6" cy="101.4" r="1.35"/><circle cx="129.1" cy="60.0" r="1.35"/><circle cx="128.8" cy="72.2" r="1.35"/><circle cx="129.6" cy="111.5" r="1.35"/><circle cx="128.9" cy="116.9" r="1.35"/><circle cx="132.5" cy="94.7" r="1.35"/><circle cx="129.3" cy="82.4" r="1.35"/><circle cx="130.6" cy="117.7" r="1.35"/><circle cx="128.5" cy="78.2" r="1.35"/><circle cx="130.5" cy="109.1" r="1.35"/><circle cx="129.8" cy="108.7" r="1.35"/><circle cx="129.9" cy="73.3" r="1.35"/><circle cx="128.3" cy="55.4" r="1.35"/><circle cx="128.6" cy="125.5" r="1.35"/><circle cx="131.8" cy="98.2" r="1.35"/><circle cx="129.6" cy="76.2" r="1.35"/><circle cx="129.1" cy="96.1" r="1.35"/><circle cx="128.9" cy="113.9" r="1.35"/><circle cx="129.3" cy="118.3" r="1.35"/><circle cx="129.1" cy="110.5" r="1.35"/><circle cx="128.2" cy="111.2" r="1.35"/><circle cx="131.1" cy="57.6" r="1.35"/><circle cx="129.6" cy="118.9" r="1.35"/><circle cx="128.7" cy="103.4" r="1.35"/><circle cx="131.2" cy="82.2" r="1.35"/><circle cx="128.4" cy="95.1" r="1.35"/><circle cx="129.2" cy="117.0" r="1.35"/><circle cx="131.8" cy="81.6" r="1.35"/><circle cx="128.6" cy="80.2" r="1.35"/><circle cx="130.0" cy="87.2" r="1.35"/><circle cx="131.8" cy="93.5" r="1.35"/><circle cx="131.7" cy="72.3" r="1.35"/><circle cx="128.7" cy="105.2" r="1.35"/><circle cx="129.6" cy="106.4" r="1.35"/><circle cx="131.3" cy="96.5" r="1.35"/><circle cx="129.7" cy="130.7" r="1.35"/><circle cx="132.4" cy="88.1" r="1.35"/><circle cx="129.0" cy="122.4" r="1.35"/><circle cx="132.4" cy="83.5" r="1.35"/><circle cx="130.3" cy="110.9" r="1.35"/><circle cx="129.0" cy="54.4" r="1.35"/><circle cx="130.1" cy="99.2" r="1.35"/><circle cx="128.6" cy="91.3" r="1.35"/><circle cx="131.2" cy="84.6" r="1.35"/><circle cx="129.2" cy="82.2" r="1.35"/><circle cx="132.1" cy="87.7" r="1.35"/><circle cx="130.7" cy="79.9" r="1.35"/><circle cx="129.7" cy="82.5" r="1.35"/><circle cx="129.1" cy="83.5" r="1.35"/><circle cx="130.8" cy="84.0" r="1.35"/><circle cx="129.0" cy="72.8" r="1.35"/><circle cx="132.0" cy="92.2" r="1.35"/><circle cx="128.6" cy="111.5" r="1.35"/><circle cx="130.4" cy="89.7" r="1.35"/><circle cx="130.5" cy="84.7" r="1.35"/><circle cx="129.2" cy="123.5" r="1.35"/><circle cx="131.6" cy="115.5" r="1.35"/><circle cx="129.8" cy="114.4" r="1.35"/><circle cx="131.0" cy="119.3" r="1.35"/><circle cx="130.6" cy="88.1" r="1.35"/><circle cx="129.4" cy="92.3" r="1.35"/><circle cx="129.8" cy="118.4" r="1.35"/><circle cx="128.4" cy="83.4" r="1.35"/><circle cx="128.8" cy="92.5" r="1.35"/><circle cx="131.9" cy="102.9" r="1.35"/><circle cx="129.5" cy="102.8" r="1.35"/><circle cx="131.0" cy="89.2" r="1.35"/><circle cx="128.5" cy="115.7" r="1.35"/><circle cx="130.6" cy="91.3" r="1.35"/><circle cx="129.7" cy="110.2" r="1.35"/><circle cx="130.3" cy="117.5" r="1.35"/><circle cx="129.4" cy="108.8" r="1.35"/><circle cx="128.3" cy="110.4" r="1.35"/><circle cx="129.4" cy="70.6" r="1.35"/><circle cx="129.0" cy="67.5" r="1.35"/><circle cx="128.6" cy="82.0" r="1.35"/><circle cx="131.3" cy="105.0" r="1.35"/><circle cx="129.3" cy="126.5" r="1.35"/><circle cx="129.9" cy="69.3" r="1.35"/><circle cx="132.2" cy="101.4" r="1.35"/><circle cx="131.6" cy="77.1" r="1.35"/><circle cx="132.1" cy="79.6" r="1.35"/><circle cx="132.0" cy="89.2" r="1.35"/><circle cx="128.6" cy="109.5" r="1.35"/><circle cx="129.3" cy="99.5" r="1.35"/><circle cx="128.1" cy="119.8" r="1.35"/><circle cx="131.1" cy="74.3" r="1.35"/><circle cx="131.1" cy="113.7" r="1.35"/><circle cx="129.6" cy="114.5" r="1.35"/><circle cx="129.9" cy="96.5" r="1.35"/><circle cx="131.0" cy="105.0" r="1.35"/><circle cx="131.2" cy="83.2" r="1.35"/><circle cx="129.1" cy="72.1" r="1.35"/><circle cx="131.9" cy="86.5" r="1.35"/><circle cx="129.6" cy="81.5" r="1.35"/><circle cx="130.9" cy="84.8" r="1.35"/><circle cx="128.8" cy="129.7" r="1.35"/><circle cx="128.5" cy="99.2" r="1.35"/><circle cx="132.2" cy="101.6" r="1.35"/><circle cx="131.4" cy="110.6" r="1.35"/><circle cx="131.3" cy="78.6" r="1.35"/><circle cx="128.2" cy="114.2" r="1.35"/><circle cx="128.2" cy="102.9" r="1.35"/><circle cx="128.7" cy="63.2" r="1.35"/><circle cx="128.9" cy="107.6" r="1.35"/><circle cx="129.4" cy="106.6" r="1.35"/><circle cx="129.8" cy="104.5" r="1.35"/><circle cx="128.2" cy="128.3" r="1.35"/><circle cx="129.4" cy="86.3" r="1.35"/><circle cx="130.9" cy="105.7" r="1.35"/><circle cx="128.8" cy="110.7" r="1.35"/><circle cx="131.9" cy="76.1" r="1.35"/><circle cx="130.6" cy="120.2" r="1.35"/><circle cx="131.3" cy="64.5" r="1.35"/><circle cx="129.2" cy="67.7" r="1.35"/><circle cx="130.0" cy="106.0" r="1.35"/><circle cx="131.1" cy="72.1" r="1.35"/><circle cx="129.6" cy="92.6" r="1.35"/><circle cx="128.0" cy="60.5" r="1.35"/><circle cx="131.8" cy="96.5" r="1.35"/><circle cx="131.6" cy="71.2" r="1.35"/><circle cx="129.3" cy="102.2" r="1.35"/><circle cx="128.2" cy="62.8" r="1.35"/><circle cx="131.9" cy="104.4" r="1.35"/><circle cx="130.8" cy="89.4" r="1.35"/><circle cx="128.2" cy="96.3" r="1.35"/><circle cx="129.1" cy="93.6" r="1.35"/><circle cx="128.5" cy="97.7" r="1.35"/><circle cx="131.6" cy="67.3" r="1.35"/><circle cx="129.0" cy="95.7" r="1.35"/><circle cx="132.2" cy="75.3" r="1.35"/><circle cx="131.4" cy="85.5" r="1.35"/><circle cx="128.4" cy="104.0" r="1.35"/><circle cx="131.2" cy="79.0" r="1.35"/><circle cx="129.8" cy="82.2" r="1.35"/><circle cx="131.4" cy="72.8" r="1.35"/><circle cx="131.8" cy="101.9" r="1.35"/><circle cx="129.3" cy="92.1" r="1.35"/><circle cx="128.4" cy="77.8" r="1.35"/><circle cx="132.4" cy="74.3" r="1.35"/><circle cx="130.0" cy="112.0" r="1.35"/><circle cx="132.3" cy="81.2" r="1.35"/><circle cx="131.2" cy="107.3" r="1.35"/><circle cx="131.4" cy="104.4" r="1.35"/><circle cx="131.8" cy="55.2" r="1.35"/><circle cx="130.9" cy="72.2" r="1.35"/><circle cx="130.1" cy="95.1" r="1.35"/><circle cx="128.2" cy="102.2" r="1.35"/><circle cx="131.2" cy="111.4" r="1.35"/><circle cx="130.0" cy="111.8" r="1.35"/><circle cx="130.4" cy="116.7" r="1.35"/><circle cx="132.3" cy="87.1" r="1.35"/><circle cx="128.6" cy="90.6" r="1.35"/><circle cx="131.5" cy="111.3" r="1.35"/><circle cx="128.2" cy="86.1" r="1.35"/><circle cx="131.2" cy="117.2" r="1.35"/><circle cx="131.7" cy="61.6" r="1.35"/><circle cx="129.2" cy="108.7" r="1.35"/><circle cx="130.5" cy="91.4" r="1.35"/><circle cx="132.5" cy="115.6" r="1.35"/><circle cx="130.9" cy="101.5" r="1.35"/><circle cx="130.5" cy="95.4" r="1.35"/><circle cx="129.1" cy="72.4" r="1.35"/><circle cx="128.3" cy="85.2" r="1.35"/><circle cx="129.6" cy="126.7" r="1.35"/><circle cx="129.9" cy="77.6" r="1.35"/><circle cx="128.9" cy="77.0" r="1.35"/><circle cx="129.4" cy="69.8" r="1.35"/><circle cx="128.6" cy="92.2" r="1.35"/><circle cx="131.3" cy="86.7" r="1.35"/><circle cx="131.1" cy="75.8" r="1.35"/><circle cx="129.1" cy="77.3" r="1.35"/><circle cx="129.1" cy="117.0" r="1.35"/><circle cx="130.4" cy="64.7" r="1.35"/><circle cx="130.0" cy="136.1" r="1.35"/><circle cx="132.3" cy="83.6" r="1.35"/><circle cx="129.6" cy="72.1" r="1.35"/><circle cx="129.4" cy="111.5" r="1.35"/><circle cx="132.1" cy="106.8" r="1.35"/><circle cx="128.7" cy="73.1" r="1.35"/><circle cx="130.6" cy="110.7" r="1.35"/><circle cx="129.5" cy="56.4" r="1.35"/><circle cx="131.8" cy="75.6" r="1.35"/><circle cx="130.5" cy="118.7" r="1.35"/><circle cx="131.5" cy="89.6" r="1.35"/><circle cx="128.8" cy="67.7" r="1.35"/><circle cx="131.1" cy="105.8" r="1.35"/><circle cx="130.8" cy="114.3" r="1.35"/><circle cx="130.1" cy="94.5" r="1.35"/><circle cx="131.5" cy="57.1" r="1.35"/><circle cx="131.8" cy="87.7" r="1.35"/><circle cx="128.5" cy="103.8" r="1.35"/><circle cx="129.3" cy="111.1" r="1.35"/><circle cx="129.7" cy="133.9" r="1.35"/><circle cx="128.9" cy="89.7" r="1.35"/><circle cx="128.3" cy="84.9" r="1.35"/><circle cx="129.3" cy="94.2" r="1.35"/><circle cx="128.9" cy="120.3" r="1.35"/><circle cx="131.2" cy="75.2" r="1.35"/><circle cx="130.1" cy="122.4" r="1.35"/><circle cx="128.5" cy="111.7" r="1.35"/><circle cx="129.5" cy="80.8" r="1.35"/><circle cx="130.2" cy="104.6" r="1.35"/></g>
<g fill="#4677BD" fill-opacity="0.45"><circle cx="144.8" cy="60.0" r="1.35"/><circle cx="145.5" cy="126.0" r="1.35"/><circle cx="142.3" cy="100.7" r="1.35"/><circle cx="143.4" cy="94.5" r="1.35"/><circle cx="145.1" cy="93.2" r="1.35"/><circle cx="146.1" cy="123.6" r="1.35"/><circle cx="145.0" cy="90.4" r="1.35"/><circle cx="141.9" cy="118.1" r="1.35"/><circle cx="144.5" cy="107.2" r="1.35"/><circle cx="142.2" cy="116.3" r="1.35"/><circle cx="144.2" cy="89.0" r="1.35"/><circle cx="145.4" cy="109.1" r="1.35"/><circle cx="142.2" cy="105.9" r="1.35"/><circle cx="146.0" cy="80.7" r="1.35"/><circle cx="144.8" cy="96.9" r="1.35"/><circle cx="142.9" cy="89.6" r="1.35"/><circle cx="142.6" cy="91.3" r="1.35"/><circle cx="143.8" cy="115.9" r="1.35"/><circle cx="145.6" cy="78.8" r="1.35"/><circle cx="144.4" cy="61.1" r="1.35"/><circle cx="142.2" cy="60.0" r="1.35"/><circle cx="141.8" cy="83.7" r="1.35"/><circle cx="142.2" cy="80.2" r="1.35"/><circle cx="145.4" cy="92.3" r="1.35"/><circle cx="142.6" cy="102.4" r="1.35"/><circle cx="144.2" cy="124.3" r="1.35"/><circle cx="143.0" cy="97.7" r="1.35"/><circle cx="144.9" cy="100.5" r="1.35"/><circle cx="143.5" cy="78.5" r="1.35"/><circle cx="142.4" cy="102.6" r="1.35"/><circle cx="145.7" cy="116.9" r="1.35"/><circle cx="144.2" cy="116.6" r="1.35"/><circle cx="144.9" cy="108.3" r="1.35"/><circle cx="145.4" cy="121.0" r="1.35"/><circle cx="146.1" cy="107.1" r="1.35"/><circle cx="141.8" cy="64.6" r="1.35"/><circle cx="143.3" cy="86.4" r="1.35"/><circle cx="142.4" cy="102.8" r="1.35"/><circle cx="144.0" cy="99.6" r="1.35"/><circle cx="145.7" cy="77.1" r="1.35"/><circle cx="145.4" cy="75.7" r="1.35"/><circle cx="141.9" cy="109.7" r="1.35"/><circle cx="142.5" cy="67.6" r="1.35"/><circle cx="145.5" cy="118.2" r="1.35"/><circle cx="144.8" cy="92.4" r="1.35"/><circle cx="143.5" cy="97.5" r="1.35"/><circle cx="143.9" cy="67.6" r="1.35"/><circle cx="142.4" cy="81.1" r="1.35"/><circle cx="145.6" cy="104.6" r="1.35"/><circle cx="143.5" cy="65.1" r="1.35"/><circle cx="145.7" cy="66.3" r="1.35"/><circle cx="144.5" cy="69.7" r="1.35"/><circle cx="142.0" cy="92.8" r="1.35"/><circle cx="143.2" cy="100.8" r="1.35"/><circle cx="142.7" cy="105.4" r="1.35"/><circle cx="145.8" cy="85.2" r="1.35"/><circle cx="144.4" cy="88.2" r="1.35"/><circle cx="141.9" cy="87.7" r="1.35"/><circle cx="142.5" cy="81.5" r="1.35"/><circle cx="143.4" cy="109.6" r="1.35"/><circle cx="143.9" cy="96.6" r="1.35"/><circle cx="144.4" cy="94.9" r="1.35"/><circle cx="143.5" cy="80.5" r="1.35"/><circle cx="143.3" cy="96.6" r="1.35"/><circle cx="141.7" cy="91.8" r="1.35"/><circle cx="144.4" cy="90.6" r="1.35"/><circle cx="143.2" cy="112.2" r="1.35"/><circle cx="141.8" cy="60.6" r="1.35"/><circle cx="143.8" cy="96.6" r="1.35"/><circle cx="146.2" cy="72.5" r="1.35"/><circle cx="141.9" cy="86.2" r="1.35"/><circle cx="142.4" cy="119.4" r="1.35"/><circle cx="144.8" cy="72.2" r="1.35"/><circle cx="143.0" cy="90.2" r="1.35"/><circle cx="143.0" cy="81.2" r="1.35"/><circle cx="144.0" cy="109.3" r="1.35"/><circle cx="142.9" cy="74.1" r="1.35"/><circle cx="144.3" cy="61.3" r="1.35"/><circle cx="144.1" cy="101.4" r="1.35"/><circle cx="146.1" cy="85.5" r="1.35"/><circle cx="146.3" cy="86.2" r="1.35"/><circle cx="141.9" cy="111.7" r="1.35"/><circle cx="144.3" cy="75.8" r="1.35"/><circle cx="145.2" cy="85.2" r="1.35"/><circle cx="145.7" cy="94.7" r="1.35"/><circle cx="145.3" cy="99.5" r="1.35"/><circle cx="144.6" cy="82.6" r="1.35"/><circle cx="144.6" cy="110.9" r="1.35"/><circle cx="143.4" cy="84.5" r="1.35"/><circle cx="143.0" cy="117.7" r="1.35"/><circle cx="145.4" cy="85.7" r="1.35"/><circle cx="145.7" cy="94.5" r="1.35"/><circle cx="146.0" cy="85.8" r="1.35"/><circle cx="144.8" cy="80.4" r="1.35"/><circle cx="143.1" cy="68.7" r="1.35"/><circle cx="145.2" cy="84.8" r="1.35"/><circle cx="145.1" cy="115.7" r="1.35"/><circle cx="144.0" cy="112.8" r="1.35"/><circle cx="144.6" cy="85.6" r="1.35"/><circle cx="143.3" cy="82.4" r="1.35"/><circle cx="144.2" cy="79.2" r="1.35"/><circle cx="143.6" cy="70.1" r="1.35"/><circle cx="142.0" cy="124.9" r="1.35"/><circle cx="143.3" cy="104.1" r="1.35"/><circle cx="143.2" cy="94.1" r="1.35"/><circle cx="146.2" cy="83.0" r="1.35"/><circle cx="143.9" cy="73.4" r="1.35"/><circle cx="143.4" cy="116.0" r="1.35"/><circle cx="142.8" cy="106.2" r="1.35"/><circle cx="142.8" cy="74.6" r="1.35"/><circle cx="143.3" cy="110.0" r="1.35"/><circle cx="142.3" cy="71.8" r="1.35"/><circle cx="141.7" cy="103.7" r="1.35"/><circle cx="145.7" cy="74.5" r="1.35"/><circle cx="143.8" cy="84.4" r="1.35"/><circle cx="143.7" cy="101.0" r="1.35"/><circle cx="144.3" cy="99.9" r="1.35"/><circle cx="143.1" cy="110.5" r="1.35"/><circle cx="142.5" cy="76.7" r="1.35"/><circle cx="142.0" cy="120.8" r="1.35"/><circle cx="143.1" cy="116.5" r="1.35"/><circle cx="143.1" cy="91.8" r="1.35"/><circle cx="145.0" cy="100.5" r="1.35"/><circle cx="144.2" cy="77.8" r="1.35"/><circle cx="146.0" cy="89.2" r="1.35"/><circle cx="143.3" cy="67.9" r="1.35"/><circle cx="145.9" cy="93.6" r="1.35"/><circle cx="144.4" cy="95.6" r="1.35"/><circle cx="142.1" cy="116.5" r="1.35"/><circle cx="142.5" cy="109.3" r="1.35"/><circle cx="144.4" cy="106.9" r="1.35"/><circle cx="146.2" cy="85.4" r="1.35"/><circle cx="143.3" cy="87.9" r="1.35"/><circle cx="145.3" cy="85.8" r="1.35"/><circle cx="143.7" cy="96.1" r="1.35"/><circle cx="145.7" cy="106.1" r="1.35"/><circle cx="142.0" cy="63.4" r="1.35"/><circle cx="143.9" cy="82.6" r="1.35"/><circle cx="145.8" cy="92.4" r="1.35"/><circle cx="143.0" cy="82.6" r="1.35"/><circle cx="142.9" cy="122.3" r="1.35"/><circle cx="141.8" cy="90.2" r="1.35"/><circle cx="142.5" cy="120.7" r="1.35"/><circle cx="142.9" cy="113.4" r="1.35"/><circle cx="144.9" cy="82.9" r="1.35"/><circle cx="142.7" cy="99.3" r="1.35"/><circle cx="143.5" cy="115.7" r="1.35"/><circle cx="142.6" cy="85.9" r="1.35"/><circle cx="144.5" cy="93.6" r="1.35"/><circle cx="145.7" cy="81.8" r="1.35"/><circle cx="144.7" cy="93.1" r="1.35"/><circle cx="142.6" cy="85.5" r="1.35"/><circle cx="145.1" cy="93.5" r="1.35"/><circle cx="146.1" cy="110.3" r="1.35"/><circle cx="144.5" cy="117.4" r="1.35"/><circle cx="142.1" cy="94.4" r="1.35"/><circle cx="145.4" cy="95.7" r="1.35"/><circle cx="145.7" cy="107.6" r="1.35"/><circle cx="143.3" cy="86.7" r="1.35"/><circle cx="142.3" cy="72.7" r="1.35"/><circle cx="142.6" cy="112.3" r="1.35"/><circle cx="144.2" cy="75.0" r="1.35"/><circle cx="145.7" cy="109.0" r="1.35"/><circle cx="144.6" cy="74.4" r="1.35"/><circle cx="145.9" cy="125.4" r="1.35"/><circle cx="142.7" cy="73.0" r="1.35"/><circle cx="143.2" cy="107.5" r="1.35"/><circle cx="145.1" cy="119.4" r="1.35"/><circle cx="144.7" cy="74.5" r="1.35"/><circle cx="143.6" cy="119.1" r="1.35"/></g>
<circle cx="53.9" cy="50.8" r="1.35" fill="#4677BD" fill-opacity="0.45"/>
<line x1="85.30" y1="54.90" x2="85.30" y2="85.30" stroke="#DA3328" stroke-width="0.9" stroke-opacity="0.9"/>
<line x1="85.30" y1="111.40" x2="85.30" y2="143.00" stroke="#DA3328" stroke-width="0.9" stroke-opacity="0.9"/>
<rect x="64.40" y="85.30" width="41.40" height="26.10" fill="#DA3328" fill-opacity="0.28" stroke="#DA3328" stroke-opacity="0.75" stroke-width="0.8"/>
<line x1="64.40" y1="93.50" x2="105.80" y2="93.50" stroke="#DA3328" stroke-width="0.9" stroke-opacity="0.8"/>
<line x1="99.00" y1="51.00" x2="99.00" y2="80.40" stroke="#4677BD" stroke-width="0.9" stroke-opacity="0.9"/>
<line x1="99.00" y1="107.50" x2="99.00" y2="141.00" stroke="#4677BD" stroke-width="0.9" stroke-opacity="0.9"/>
<rect x="78.20" y="80.40" width="41.30" height="27.10" fill="#4677BD" fill-opacity="0.28" stroke="#4677BD" stroke-opacity="0.75" stroke-width="0.8"/>
<line x1="78.20" y1="91.90" x2="119.50" y2="91.90" stroke="#4677BD" stroke-width="0.9" stroke-opacity="0.8"/>
<polyline points="40.2,98.6 85.3,98.2 130.3,97.1" fill="none" stroke="#DA3328" stroke-width="1.5"/>
<polyline points="53.7,96.0 99.0,94.0 144.0,91.6" fill="none" stroke="#4677BD" stroke-width="1.5"/>
<circle cx="53.7" cy="96.0" r="1.9" fill="#4677BD"/>
<circle cx="99.0" cy="94.0" r="1.9" fill="#4677BD"/>
<circle cx="144.0" cy="91.6" r="1.9" fill="#4677BD"/>
<circle cx="40.2" cy="98.6" r="1.9" fill="#DA3328"/>
<circle cx="85.3" cy="98.2" r="1.9" fill="#DA3328"/>
<circle cx="130.3" cy="97.1" r="1.9" fill="#DA3328"/>
<line x1="20.00" y1="21.40" x2="20.00" y2="155.50" stroke="#5c5c5c" stroke-width="1.0" stroke-opacity="1"/>
<line x1="19.50" y1="155.00" x2="163.90" y2="155.00" stroke="#5c5c5c" stroke-width="1.0" stroke-opacity="1"/>
<line x1="20.00" y1="30.80" x2="22.20" y2="30.80" stroke="#5c5c5c" stroke-width="0.8" stroke-opacity="1"/>
<text x="18.40" y="32.96" font-size="6.0" font-weight="normal" text-anchor="end" fill="#404040" stroke="#404040" stroke-width="0.2">200</text>
<line x1="20.00" y1="62.20" x2="22.20" y2="62.20" stroke="#5c5c5c" stroke-width="0.8" stroke-opacity="1"/>
<text x="18.40" y="64.36" font-size="6.0" font-weight="normal" text-anchor="end" fill="#404040" stroke="#404040" stroke-width="0.2">150</text>
<line x1="20.00" y1="93.40" x2="22.20" y2="93.40" stroke="#5c5c5c" stroke-width="0.8" stroke-opacity="1"/>
<text x="18.40" y="95.56" font-size="6.0" font-weight="normal" text-anchor="end" fill="#404040" stroke="#404040" stroke-width="0.2">100</text>
<line x1="20.00" y1="124.50" x2="22.20" y2="124.50" stroke="#5c5c5c" stroke-width="0.8" stroke-opacity="1"/>
<text x="18.40" y="126.66" font-size="6.0" font-weight="normal" text-anchor="end" fill="#404040" stroke="#404040" stroke-width="0.2">50</text>
<line x1="46.70" y1="155.00" x2="46.70" y2="152.40" stroke="#5c5c5c" stroke-width="1.0" stroke-opacity="1"/>
<text x="46.70" y="160.66" font-size="6.2" font-weight="normal" text-anchor="middle" fill="#404040" stroke="#404040" stroke-width="0.2">D1</text>
<line x1="91.90" y1="155.00" x2="91.90" y2="152.40" stroke="#5c5c5c" stroke-width="1.0" stroke-opacity="1"/>
<text x="91.90" y="160.66" font-size="6.2" font-weight="normal" text-anchor="middle" fill="#404040" stroke="#404040" stroke-width="0.2">D15</text>
<line x1="137.00" y1="155.00" x2="137.00" y2="152.40" stroke="#5c5c5c" stroke-width="1.0" stroke-opacity="1"/>
<text x="137.00" y="160.66" font-size="6.2" font-weight="normal" text-anchor="middle" fill="#404040" stroke="#404040" stroke-width="0.2">D85</text>
<text x="91.95" y="169.00" font-size="6.7" font-weight="bold" text-anchor="middle" fill="#000" stroke="#000" stroke-width="0.12">Timepoint</text>
<text x="46.90" y="43.20" font-size="6.75" font-weight="bold" text-anchor="middle" fill="#000" stroke="#000" stroke-width="0.12">FDR p = 0.016</text>
<text x="91.60" y="37.10" font-size="6.75" font-weight="bold" text-anchor="middle" fill="#000" stroke="#000" stroke-width="0.12">FDR p = 0.006</text>
<text x="137.00" y="31.60" font-size="6.75" font-weight="bold" text-anchor="middle" fill="#000" stroke="#000" stroke-width="0.12">FDR p = 1.34e−04</text>
<text x="261.50" y="15.80" font-size="7.15" font-weight="bold" text-anchor="middle" fill="#000" stroke="#000" stroke-width="0.12">7−12 months</text>
<g fill="#DA3328" fill-opacity="0.45"><circle cx="207.2" cy="91.0" r="1.5"/><circle cx="209.1" cy="133.0" r="1.5"/><circle cx="205.4" cy="123.6" r="1.5"/><circle cx="204.8" cy="116.4" r="1.5"/><circle cx="207.0" cy="128.2" r="1.5"/><circle cx="207.8" cy="116.7" r="1.5"/><circle cx="208.4" cy="104.9" r="1.5"/><circle cx="206.5" cy="124.1" r="1.5"/><circle cx="209.4" cy="104.4" r="1.5"/><circle cx="205.8" cy="106.7" r="1.5"/><circle cx="208.3" cy="110.1" r="1.5"/><circle cx="205.2" cy="112.5" r="1.5"/><circle cx="204.9" cy="125.8" r="1.5"/><circle cx="205.4" cy="105.0" r="1.5"/><circle cx="205.1" cy="116.1" r="1.5"/><circle cx="207.1" cy="111.7" r="1.5"/><circle cx="207.4" cy="97.5" r="1.5"/><circle cx="205.6" cy="99.4" r="1.5"/><circle cx="209.1" cy="109.5" r="1.5"/><circle cx="206.5" cy="116.7" r="1.5"/><circle cx="205.5" cy="115.7" r="1.5"/><circle cx="205.6" cy="117.5" r="1.5"/><circle cx="208.2" cy="112.6" r="1.5"/><circle cx="209.0" cy="106.8" r="1.5"/><circle cx="205.5" cy="116.9" r="1.5"/><circle cx="204.9" cy="100.4" r="1.5"/><circle cx="208.4" cy="96.5" r="1.5"/><circle cx="205.9" cy="108.2" r="1.5"/><circle cx="209.3" cy="95.5" r="1.5"/><circle cx="207.1" cy="106.1" r="1.5"/><circle cx="207.7" cy="103.4" r="1.5"/><circle cx="206.4" cy="105.6" r="1.5"/><circle cx="208.5" cy="111.5" r="1.5"/><circle cx="206.9" cy="102.7" r="1.5"/><circle cx="206.3" cy="107.1" r="1.5"/><circle cx="209.0" cy="92.2" r="1.5"/><circle cx="205.3" cy="113.7" r="1.5"/><circle cx="208.2" cy="101.8" r="1.5"/><circle cx="205.1" cy="116.7" r="1.5"/><circle cx="207.8" cy="102.7" r="1.5"/></g>
<g fill="#4677BD" fill-opacity="0.45"><circle cx="220.1" cy="98.0" r="1.5"/><circle cx="223.3" cy="128.0" r="1.5"/><circle cx="219.7" cy="121.2" r="1.5"/><circle cx="221.3" cy="121.6" r="1.5"/><circle cx="219.4" cy="115.8" r="1.5"/><circle cx="222.7" cy="121.6" r="1.5"/><circle cx="222.7" cy="122.6" r="1.5"/><circle cx="219.9" cy="108.2" r="1.5"/><circle cx="222.2" cy="113.0" r="1.5"/><circle cx="222.5" cy="118.0" r="1.5"/><circle cx="220.0" cy="111.3" r="1.5"/><circle cx="220.2" cy="120.5" r="1.5"/><circle cx="220.9" cy="112.6" r="1.5"/><circle cx="222.8" cy="117.4" r="1.5"/><circle cx="219.4" cy="112.7" r="1.5"/><circle cx="221.8" cy="100.5" r="1.5"/></g>
<g fill="#DA3328" fill-opacity="0.45"><circle cx="252.4" cy="92.0" r="1.5"/><circle cx="256.9" cy="144.0" r="1.5"/><circle cx="253.8" cy="98.2" r="1.5"/><circle cx="256.3" cy="119.3" r="1.5"/><circle cx="252.9" cy="140.1" r="1.5"/><circle cx="254.5" cy="96.4" r="1.5"/><circle cx="252.9" cy="130.7" r="1.5"/><circle cx="254.3" cy="117.8" r="1.5"/><circle cx="253.1" cy="105.3" r="1.5"/><circle cx="255.5" cy="141.8" r="1.5"/><circle cx="253.0" cy="111.1" r="1.5"/><circle cx="255.7" cy="115.0" r="1.5"/><circle cx="254.6" cy="141.0" r="1.5"/><circle cx="252.8" cy="136.4" r="1.5"/><circle cx="253.9" cy="142.8" r="1.5"/><circle cx="254.6" cy="113.8" r="1.5"/><circle cx="256.5" cy="125.3" r="1.5"/><circle cx="253.9" cy="130.6" r="1.5"/><circle cx="253.3" cy="119.0" r="1.5"/><circle cx="256.8" cy="116.9" r="1.5"/><circle cx="256.4" cy="109.5" r="1.5"/><circle cx="255.7" cy="106.4" r="1.5"/><circle cx="253.6" cy="95.3" r="1.5"/><circle cx="253.1" cy="138.5" r="1.5"/><circle cx="253.5" cy="105.9" r="1.5"/><circle cx="252.6" cy="115.6" r="1.5"/><circle cx="252.5" cy="111.5" r="1.5"/><circle cx="254.6" cy="114.4" r="1.5"/><circle cx="254.2" cy="136.7" r="1.5"/><circle cx="254.9" cy="110.6" r="1.5"/><circle cx="254.0" cy="108.4" r="1.5"/><circle cx="252.3" cy="101.8" r="1.5"/><circle cx="255.5" cy="111.7" r="1.5"/><circle cx="255.3" cy="106.0" r="1.5"/></g>
<g fill="#4677BD" fill-opacity="0.45"><circle cx="269.1" cy="96.0" r="1.5"/><circle cx="270.6" cy="141.0" r="1.5"/><circle cx="267.5" cy="113.2" r="1.5"/><circle cx="269.1" cy="103.4" r="1.5"/><circle cx="268.0" cy="133.7" r="1.5"/><circle cx="267.4" cy="102.2" r="1.5"/><circle cx="267.2" cy="108.1" r="1.5"/><circle cx="266.8" cy="125.2" r="1.5"/><circle cx="270.2" cy="136.3" r="1.5"/><circle cx="269.9" cy="107.5" r="1.5"/><circle cx="270.5" cy="127.0" r="1.5"/><circle cx="266.5" cy="111.4" r="1.5"/><circle cx="269.5" cy="122.2" r="1.5"/><circle cx="267.8" cy="119.4" r="1.5"/></g>
<g fill="#DA3328" fill-opacity="0.45"><circle cx="303.8" cy="85.0" r="1.5"/><circle cx="301.2" cy="124.0" r="1.5"/><circle cx="300.9" cy="94.0" r="1.5"/><circle cx="303.9" cy="93.3" r="1.5"/><circle cx="302.2" cy="120.6" r="1.5"/><circle cx="303.0" cy="104.1" r="1.5"/><circle cx="303.9" cy="111.2" r="1.5"/><circle cx="304.2" cy="94.5" r="1.5"/><circle cx="304.1" cy="86.2" r="1.5"/><circle cx="300.3" cy="105.4" r="1.5"/><circle cx="301.9" cy="118.0" r="1.5"/><circle cx="303.9" cy="103.6" r="1.5"/><circle cx="303.9" cy="94.2" r="1.5"/><circle cx="300.7" cy="101.6" r="1.5"/><circle cx="300.8" cy="94.3" r="1.5"/><circle cx="301.3" cy="90.4" r="1.5"/><circle cx="300.6" cy="101.7" r="1.5"/><circle cx="301.7" cy="100.1" r="1.5"/><circle cx="303.8" cy="96.1" r="1.5"/><circle cx="302.5" cy="95.4" r="1.5"/><circle cx="302.2" cy="94.9" r="1.5"/><circle cx="300.5" cy="106.3" r="1.5"/><circle cx="301.9" cy="117.6" r="1.5"/><circle cx="304.7" cy="102.0" r="1.5"/><circle cx="303.3" cy="88.2" r="1.5"/><circle cx="302.2" cy="106.7" r="1.5"/><circle cx="302.3" cy="92.7" r="1.5"/><circle cx="303.8" cy="102.4" r="1.5"/><circle cx="303.6" cy="105.0" r="1.5"/><circle cx="300.8" cy="109.4" r="1.5"/><circle cx="303.2" cy="115.0" r="1.5"/><circle cx="301.8" cy="98.6" r="1.5"/><circle cx="302.5" cy="91.9" r="1.5"/><circle cx="301.2" cy="102.2" r="1.5"/></g>
<g fill="#4677BD" fill-opacity="0.45"><circle cx="317.7" cy="94.0" r="1.5"/><circle cx="314.3" cy="123.0" r="1.5"/><circle cx="316.8" cy="103.7" r="1.5"/><circle cx="317.9" cy="106.2" r="1.5"/><circle cx="314.8" cy="108.6" r="1.5"/><circle cx="315.8" cy="116.1" r="1.5"/><circle cx="317.5" cy="110.3" r="1.5"/><circle cx="316.7" cy="107.0" r="1.5"/><circle cx="315.6" cy="103.6" r="1.5"/><circle cx="314.1" cy="97.9" r="1.5"/><circle cx="315.9" cy="102.0" r="1.5"/><circle cx="315.6" cy="111.0" r="1.5"/></g>
<circle cx="207.5" cy="50.3" r="1.5" fill="#DA3328" fill-opacity="0.45"/>
<circle cx="206.5" cy="69.8" r="1.5" fill="#DA3328" fill-opacity="0.45"/>
<circle cx="206.2" cy="79.7" r="1.5" fill="#DA3328" fill-opacity="0.45"/>
<circle cx="220.3" cy="69.8" r="1.5" fill="#4677BD" fill-opacity="0.45"/>
<circle cx="219.5" cy="80.5" r="1.5" fill="#4677BD" fill-opacity="0.45"/>
<circle cx="221.8" cy="81.2" r="1.5" fill="#4677BD" fill-opacity="0.45"/>
<circle cx="220.2" cy="83.7" r="1.5" fill="#4677BD" fill-opacity="0.45"/>
<circle cx="221.0" cy="135.7" r="1.5" fill="#4677BD" fill-opacity="0.45"/>
<circle cx="254.2" cy="68.5" r="1.5" fill="#DA3328" fill-opacity="0.45"/>
<circle cx="302.2" cy="63.2" r="1.5" fill="#DA3328" fill-opacity="0.45"/>
<circle cx="301.5" cy="70.9" r="1.5" fill="#DA3328" fill-opacity="0.45"/>
<circle cx="303.0" cy="128.2" r="1.5" fill="#DA3328" fill-opacity="0.45"/>
<circle cx="316.5" cy="67.0" r="1.5" fill="#4677BD" fill-opacity="0.45"/>
<line x1="254.60" y1="80.10" x2="254.60" y2="101.40" stroke="#DA3328" stroke-width="0.9" stroke-opacity="0.9"/>
<line x1="254.60" y1="119.40" x2="254.60" y2="144.00" stroke="#DA3328" stroke-width="0.9" stroke-opacity="0.9"/>
<rect x="233.30" y="101.40" width="42.60" height="18.00" fill="#DA3328" fill-opacity="0.28" stroke="#DA3328" stroke-opacity="0.75" stroke-width="0.8"/>
<line x1="268.60" y1="83.90" x2="268.60" y2="103.70" stroke="#4677BD" stroke-width="0.9" stroke-opacity="0.9"/>
<line x1="268.60" y1="118.70" x2="268.60" y2="142.20" stroke="#4677BD" stroke-width="0.9" stroke-opacity="0.9"/>
<rect x="247.40" y="103.70" width="43.10" height="15.00" fill="#4677BD" fill-opacity="0.28" stroke="#4677BD" stroke-opacity="0.75" stroke-width="0.8"/>
<polyline points="207.0,110.4 254.6,112.0 302.4,106.3" fill="none" stroke="#DA3328" stroke-width="1.5"/>
<polyline points="221.0,109.2 268.6,114.9 316.2,104.3" fill="none" stroke="#4677BD" stroke-width="1.5"/>
<circle cx="221.0" cy="109.2" r="1.9" fill="#4677BD"/>
<circle cx="268.6" cy="114.9" r="1.9" fill="#4677BD"/>
<circle cx="316.2" cy="104.3" r="1.9" fill="#4677BD"/>
<circle cx="207.0" cy="110.4" r="1.9" fill="#DA3328"/>
<circle cx="254.6" cy="112.0" r="1.9" fill="#DA3328"/>
<circle cx="302.4" cy="106.3" r="1.9" fill="#DA3328"/>
<line x1="185.50" y1="21.40" x2="185.50" y2="155.50" stroke="#5c5c5c" stroke-width="1.0" stroke-opacity="1"/>
<line x1="185.00" y1="155.00" x2="337.50" y2="155.00" stroke="#5c5c5c" stroke-width="1.0" stroke-opacity="1"/>
<line x1="185.50" y1="50.60" x2="187.70" y2="50.60" stroke="#5c5c5c" stroke-width="0.8" stroke-opacity="1"/>
<text x="183.90" y="52.76" font-size="6.0" font-weight="normal" text-anchor="end" fill="#404040" stroke="#404040" stroke-width="0.2">150</text>
<line x1="185.50" y1="86.20" x2="187.70" y2="86.20" stroke="#5c5c5c" stroke-width="0.8" stroke-opacity="1"/>
<text x="183.90" y="88.36" font-size="6.0" font-weight="normal" text-anchor="end" fill="#404040" stroke="#404040" stroke-width="0.2">100</text>
<line x1="185.50" y1="121.40" x2="187.70" y2="121.40" stroke="#5c5c5c" stroke-width="0.8" stroke-opacity="1"/>
<text x="183.90" y="123.56" font-size="6.0" font-weight="normal" text-anchor="end" fill="#404040" stroke="#404040" stroke-width="0.2">50</text>
<line x1="214.00" y1="155.00" x2="214.00" y2="152.40" stroke="#5c5c5c" stroke-width="1.0" stroke-opacity="1"/>
<text x="214.00" y="160.66" font-size="6.2" font-weight="normal" text-anchor="middle" fill="#404040" stroke="#404040" stroke-width="0.2">D1</text>
<line x1="261.50" y1="155.00" x2="261.50" y2="152.40" stroke="#5c5c5c" stroke-width="1.0" stroke-opacity="1"/>
<text x="261.50" y="160.66" font-size="6.2" font-weight="normal" text-anchor="middle" fill="#404040" stroke="#404040" stroke-width="0.2">D15</text>
<line x1="309.20" y1="155.00" x2="309.20" y2="152.40" stroke="#5c5c5c" stroke-width="1.0" stroke-opacity="1"/>
<text x="309.20" y="160.66" font-size="6.2" font-weight="normal" text-anchor="middle" fill="#404040" stroke="#404040" stroke-width="0.2">D85</text>
<text x="261.50" y="169.00" font-size="6.7" font-weight="bold" text-anchor="middle" fill="#000" stroke="#000" stroke-width="0.12">Timepoint</text>
<text x="214.00" y="42.80" font-size="6.75" font-weight="bold" text-anchor="middle" fill="#000" stroke="#000" stroke-width="0.12">FDR p = 0.786</text>
<text x="261.70" y="37.10" font-size="6.75" font-weight="bold" text-anchor="middle" fill="#000" stroke="#000" stroke-width="0.12">FDR p = 0.449</text>
<text x="309.20" y="32.00" font-size="6.75" font-weight="bold" text-anchor="middle" fill="#000" stroke="#000" stroke-width="0.12">FDR p = 0.718</text>
<text x="434.90" y="15.80" font-size="7.15" font-weight="bold" text-anchor="middle" fill="#000" stroke="#000" stroke-width="0.12">1−2 years</text>
<g fill="#DA3328" fill-opacity="0.45"><circle cx="378.7" cy="55.0" r="1.35"/><circle cx="378.4" cy="136.0" r="1.35"/><circle cx="382.0" cy="72.3" r="1.35"/><circle cx="378.5" cy="116.5" r="1.35"/><circle cx="380.3" cy="106.7" r="1.35"/><circle cx="380.5" cy="79.9" r="1.35"/><circle cx="378.5" cy="77.2" r="1.35"/><circle cx="380.2" cy="118.2" r="1.35"/><circle cx="378.8" cy="111.8" r="1.35"/><circle cx="380.5" cy="92.4" r="1.35"/><circle cx="380.3" cy="133.3" r="1.35"/><circle cx="379.7" cy="92.8" r="1.35"/><circle cx="378.9" cy="76.3" r="1.35"/><circle cx="379.9" cy="122.5" r="1.35"/><circle cx="378.9" cy="94.9" r="1.35"/><circle cx="378.6" cy="106.4" r="1.35"/><circle cx="379.1" cy="99.8" r="1.35"/><circle cx="382.0" cy="77.4" r="1.35"/><circle cx="380.3" cy="73.4" r="1.35"/><circle cx="382.1" cy="94.8" r="1.35"/><circle cx="378.1" cy="129.3" r="1.35"/><circle cx="382.3" cy="77.4" r="1.35"/><circle cx="380.2" cy="128.2" r="1.35"/><circle cx="381.6" cy="103.7" r="1.35"/><circle cx="380.6" cy="75.1" r="1.35"/><circle cx="381.2" cy="104.7" r="1.35"/><circle cx="379.1" cy="111.2" r="1.35"/><circle cx="381.5" cy="79.6" r="1.35"/><circle cx="378.7" cy="106.7" r="1.35"/><circle cx="379.2" cy="75.1" r="1.35"/><circle cx="378.1" cy="108.5" r="1.35"/><circle cx="379.8" cy="57.9" r="1.35"/><circle cx="380.4" cy="95.9" r="1.35"/><circle cx="379.3" cy="81.6" r="1.35"/><circle cx="382.1" cy="67.2" r="1.35"/><circle cx="378.4" cy="93.8" r="1.35"/><circle cx="380.7" cy="102.7" r="1.35"/><circle cx="379.1" cy="87.0" r="1.35"/><circle cx="380.7" cy="73.6" r="1.35"/><circle cx="381.6" cy="103.6" r="1.35"/><circle cx="381.3" cy="61.4" r="1.35"/><circle cx="378.3" cy="110.5" r="1.35"/><circle cx="379.1" cy="109.5" r="1.35"/><circle cx="380.8" cy="135.1" r="1.35"/><circle cx="382.5" cy="118.0" r="1.35"/><circle cx="378.2" cy="106.6" r="1.35"/><circle cx="380.8" cy="104.7" r="1.35"/><circle cx="381.2" cy="99.6" r="1.35"/><circle cx="381.7" cy="70.5" r="1.35"/><circle cx="379.6" cy="130.4" r="1.35"/><circle cx="381.7" cy="110.3" r="1.35"/><circle cx="380.1" cy="92.9" r="1.35"/><circle cx="382.2" cy="74.4" r="1.35"/><circle cx="378.0" cy="130.9" r="1.35"/><circle cx="382.3" cy="110.4" r="1.35"/><circle cx="379.9" cy="73.5" r="1.35"/><circle cx="379.9" cy="113.4" r="1.35"/><circle cx="378.4" cy="98.5" r="1.35"/><circle cx="379.1" cy="107.6" r="1.35"/><circle cx="381.4" cy="90.1" r="1.35"/><circle cx="381.1" cy="85.5" r="1.35"/><circle cx="378.7" cy="122.0" r="1.35"/><circle cx="379.6" cy="101.5" r="1.35"/><circle cx="378.6" cy="96.3" r="1.35"/><circle cx="378.9" cy="116.0" r="1.35"/><circle cx="379.0" cy="92.5" r="1.35"/><circle cx="379.5" cy="114.6" r="1.35"/><circle cx="382.5" cy="116.8" r="1.35"/><circle cx="382.6" cy="77.2" r="1.35"/><circle cx="381.6" cy="76.0" r="1.35"/><circle cx="380.2" cy="97.4" r="1.35"/><circle cx="380.3" cy="116.9" r="1.35"/><circle cx="381.6" cy="104.9" r="1.35"/><circle cx="382.2" cy="125.6" r="1.35"/><circle cx="381.5" cy="69.5" r="1.35"/><circle cx="380.9" cy="109.6" r="1.35"/><circle cx="378.9" cy="85.6" r="1.35"/><circle cx="380.9" cy="101.1" r="1.35"/><circle cx="381.9" cy="105.9" r="1.35"/><circle cx="381.6" cy="78.2" r="1.35"/><circle cx="378.4" cy="94.1" r="1.35"/><circle cx="381.3" cy="74.0" r="1.35"/><circle cx="379.6" cy="104.7" r="1.35"/><circle cx="378.7" cy="80.8" r="1.35"/><circle cx="382.4" cy="88.4" r="1.35"/><circle cx="381.1" cy="103.7" r="1.35"/><circle cx="381.4" cy="85.0" r="1.35"/><circle cx="378.6" cy="123.6" r="1.35"/><circle cx="381.8" cy="85.3" r="1.35"/><circle cx="382.3" cy="117.2" r="1.35"/><circle cx="382.2" cy="105.1" r="1.35"/><circle cx="381.4" cy="76.8" r="1.35"/><circle cx="381.8" cy="94.3" r="1.35"/><circle cx="381.7" cy="81.1" r="1.35"/><circle cx="380.7" cy="91.2" r="1.35"/><circle cx="380.0" cy="93.2" r="1.35"/><circle cx="381.8" cy="90.0" r="1.35"/><circle cx="381.6" cy="132.6" r="1.35"/><circle cx="382.0" cy="108.6" r="1.35"/><circle cx="379.4" cy="71.0" r="1.35"/><circle cx="382.4" cy="113.5" r="1.35"/><circle cx="380.4" cy="56.4" r="1.35"/><circle cx="382.4" cy="114.4" r="1.35"/><circle cx="378.5" cy="121.0" r="1.35"/><circle cx="382.5" cy="107.4" r="1.35"/><circle cx="381.6" cy="94.5" r="1.35"/><circle cx="379.2" cy="93.6" r="1.35"/><circle cx="381.9" cy="104.6" r="1.35"/><circle cx="379.1" cy="92.5" r="1.35"/><circle cx="378.9" cy="87.5" r="1.35"/><circle cx="380.1" cy="91.1" r="1.35"/><circle cx="379.1" cy="124.1" r="1.35"/><circle cx="380.3" cy="85.7" r="1.35"/><circle cx="382.2" cy="107.1" r="1.35"/><circle cx="381.2" cy="74.4" r="1.35"/><circle cx="381.3" cy="83.7" r="1.35"/><circle cx="379.8" cy="69.6" r="1.35"/><circle cx="381.6" cy="94.8" r="1.35"/><circle cx="381.7" cy="113.6" r="1.35"/><circle cx="381.1" cy="105.5" r="1.35"/><circle cx="382.3" cy="88.5" r="1.35"/><circle cx="381.8" cy="112.1" r="1.35"/><circle cx="379.9" cy="91.6" r="1.35"/><circle cx="378.4" cy="107.0" r="1.35"/><circle cx="381.0" cy="104.9" r="1.35"/><circle cx="381.8" cy="110.6" r="1.35"/><circle cx="379.6" cy="71.1" r="1.35"/><circle cx="380.7" cy="115.6" r="1.35"/><circle cx="381.8" cy="96.7" r="1.35"/><circle cx="381.6" cy="94.0" r="1.35"/><circle cx="378.0" cy="87.2" r="1.35"/><circle cx="380.2" cy="131.0" r="1.35"/><circle cx="378.1" cy="110.9" r="1.35"/><circle cx="378.5" cy="109.9" r="1.35"/><circle cx="381.7" cy="94.6" r="1.35"/><circle cx="379.9" cy="114.5" r="1.35"/><circle cx="380.8" cy="82.2" r="1.35"/><circle cx="380.1" cy="89.5" r="1.35"/><circle cx="379.5" cy="87.1" r="1.35"/><circle cx="379.0" cy="94.3" r="1.35"/><circle cx="379.6" cy="115.6" r="1.35"/><circle cx="381.9" cy="88.7" r="1.35"/><circle cx="380.8" cy="105.9" r="1.35"/><circle cx="379.3" cy="88.3" r="1.35"/><circle cx="378.4" cy="117.9" r="1.35"/><circle cx="379.2" cy="94.6" r="1.35"/><circle cx="381.2" cy="102.6" r="1.35"/><circle cx="380.0" cy="76.0" r="1.35"/><circle cx="381.0" cy="120.7" r="1.35"/><circle cx="381.7" cy="103.6" r="1.35"/><circle cx="378.6" cy="126.4" r="1.35"/><circle cx="381.1" cy="119.5" r="1.35"/><circle cx="378.2" cy="112.7" r="1.35"/><circle cx="381.8" cy="95.8" r="1.35"/><circle cx="378.8" cy="75.8" r="1.35"/><circle cx="379.2" cy="94.3" r="1.35"/><circle cx="382.4" cy="89.2" r="1.35"/><circle cx="379.7" cy="104.3" r="1.35"/><circle cx="379.0" cy="89.1" r="1.35"/><circle cx="382.1" cy="64.9" r="1.35"/><circle cx="380.8" cy="124.1" r="1.35"/><circle cx="382.1" cy="89.0" r="1.35"/><circle cx="379.8" cy="93.8" r="1.35"/><circle cx="380.3" cy="118.8" r="1.35"/><circle cx="382.4" cy="99.1" r="1.35"/><circle cx="380.3" cy="73.1" r="1.35"/><circle cx="382.5" cy="107.8" r="1.35"/><circle cx="378.9" cy="94.8" r="1.35"/><circle cx="381.8" cy="55.1" r="1.35"/><circle cx="378.7" cy="103.2" r="1.35"/><circle cx="380.4" cy="76.5" r="1.35"/><circle cx="378.0" cy="83.1" r="1.35"/><circle cx="378.8" cy="109.3" r="1.35"/><circle cx="382.3" cy="105.4" r="1.35"/><circle cx="380.1" cy="92.8" r="1.35"/><circle cx="381.7" cy="108.0" r="1.35"/><circle cx="379.2" cy="85.9" r="1.35"/><circle cx="379.6" cy="104.0" r="1.35"/><circle cx="378.5" cy="96.4" r="1.35"/><circle cx="380.5" cy="65.4" r="1.35"/><circle cx="382.0" cy="69.3" r="1.35"/><circle cx="380.4" cy="95.1" r="1.35"/><circle cx="379.7" cy="93.1" r="1.35"/><circle cx="382.3" cy="87.0" r="1.35"/><circle cx="382.1" cy="119.9" r="1.35"/><circle cx="381.1" cy="99.6" r="1.35"/><circle cx="378.3" cy="135.4" r="1.35"/><circle cx="380.9" cy="115.8" r="1.35"/><circle cx="380.0" cy="134.1" r="1.35"/><circle cx="382.4" cy="96.5" r="1.35"/><circle cx="379.7" cy="107.0" r="1.35"/><circle cx="381.0" cy="89.8" r="1.35"/><circle cx="380.9" cy="95.4" r="1.35"/><circle cx="379.7" cy="62.1" r="1.35"/><circle cx="380.4" cy="86.6" r="1.35"/><circle cx="381.1" cy="78.7" r="1.35"/><circle cx="382.2" cy="85.1" r="1.35"/><circle cx="380.3" cy="124.9" r="1.35"/><circle cx="379.7" cy="104.6" r="1.35"/><circle cx="382.5" cy="125.1" r="1.35"/><circle cx="378.3" cy="117.3" r="1.35"/><circle cx="381.8" cy="118.6" r="1.35"/><circle cx="381.1" cy="120.4" r="1.35"/><circle cx="380.6" cy="86.1" r="1.35"/><circle cx="380.1" cy="116.1" r="1.35"/><circle cx="381.5" cy="92.1" r="1.35"/><circle cx="382.1" cy="87.7" r="1.35"/><circle cx="381.4" cy="124.5" r="1.35"/><circle cx="381.4" cy="78.2" r="1.35"/><circle cx="378.2" cy="116.7" r="1.35"/></g>
<g fill="#4677BD" fill-opacity="0.45"><circle cx="394.0" cy="55.0" r="1.35"/><circle cx="396.5" cy="132.7" r="1.35"/><circle cx="394.7" cy="108.7" r="1.35"/><circle cx="393.6" cy="84.4" r="1.35"/><circle cx="395.2" cy="116.1" r="1.35"/><circle cx="393.5" cy="121.2" r="1.35"/><circle cx="395.8" cy="91.9" r="1.35"/><circle cx="392.5" cy="94.8" r="1.35"/><circle cx="396.1" cy="69.4" r="1.35"/><circle cx="394.9" cy="121.0" r="1.35"/><circle cx="393.9" cy="86.7" r="1.35"/><circle cx="396.6" cy="84.1" r="1.35"/><circle cx="393.5" cy="99.4" r="1.35"/><circle cx="393.4" cy="79.7" r="1.35"/><circle cx="392.6" cy="75.8" r="1.35"/><circle cx="394.8" cy="91.7" r="1.35"/><circle cx="395.8" cy="129.7" r="1.35"/><circle cx="395.4" cy="93.6" r="1.35"/><circle cx="394.2" cy="109.2" r="1.35"/><circle cx="396.0" cy="66.8" r="1.35"/><circle cx="392.8" cy="56.5" r="1.35"/><circle cx="393.7" cy="89.5" r="1.35"/><circle cx="395.3" cy="65.2" r="1.35"/><circle cx="396.7" cy="95.7" r="1.35"/><circle cx="395.2" cy="110.9" r="1.35"/><circle cx="395.5" cy="61.2" r="1.35"/><circle cx="395.9" cy="79.2" r="1.35"/><circle cx="394.1" cy="103.5" r="1.35"/><circle cx="396.6" cy="78.4" r="1.35"/><circle cx="395.7" cy="115.0" r="1.35"/><circle cx="393.9" cy="118.5" r="1.35"/><circle cx="394.1" cy="107.4" r="1.35"/><circle cx="396.0" cy="88.8" r="1.35"/><circle cx="393.9" cy="97.0" r="1.35"/><circle cx="393.2" cy="84.5" r="1.35"/><circle cx="396.3" cy="95.2" r="1.35"/><circle cx="394.7" cy="104.8" r="1.35"/><circle cx="394.7" cy="91.6" r="1.35"/><circle cx="395.4" cy="118.8" r="1.35"/><circle cx="396.4" cy="86.3" r="1.35"/><circle cx="392.9" cy="105.3" r="1.35"/><circle cx="393.9" cy="115.6" r="1.35"/><circle cx="392.6" cy="111.7" r="1.35"/><circle cx="394.2" cy="92.9" r="1.35"/><circle cx="394.6" cy="87.8" r="1.35"/><circle cx="396.2" cy="119.4" r="1.35"/><circle cx="395.4" cy="111.3" r="1.35"/><circle cx="395.0" cy="108.8" r="1.35"/><circle cx="394.2" cy="80.9" r="1.35"/><circle cx="394.9" cy="111.5" r="1.35"/><circle cx="393.6" cy="115.0" r="1.35"/><circle cx="396.2" cy="94.1" r="1.35"/><circle cx="395.9" cy="111.8" r="1.35"/><circle cx="396.2" cy="57.9" r="1.35"/><circle cx="393.0" cy="111.0" r="1.35"/><circle cx="395.4" cy="73.0" r="1.35"/><circle cx="395.8" cy="68.9" r="1.35"/><circle cx="394.6" cy="93.0" r="1.35"/><circle cx="396.4" cy="109.7" r="1.35"/><circle cx="396.4" cy="99.1" r="1.35"/><circle cx="395.7" cy="73.1" r="1.35"/><circle cx="396.1" cy="67.3" r="1.35"/><circle cx="395.3" cy="86.1" r="1.35"/><circle cx="396.3" cy="98.3" r="1.35"/><circle cx="392.9" cy="80.3" r="1.35"/></g>
<g fill="#DA3328" fill-opacity="0.45"><circle cx="425.7" cy="57.0" r="1.35"/><circle cx="429.1" cy="145.0" r="1.35"/><circle cx="425.8" cy="86.5" r="1.35"/><circle cx="429.5" cy="88.5" r="1.35"/><circle cx="429.4" cy="127.4" r="1.35"/><circle cx="427.8" cy="112.3" r="1.35"/><circle cx="426.3" cy="107.9" r="1.35"/><circle cx="428.7" cy="84.2" r="1.35"/><circle cx="426.7" cy="103.6" r="1.35"/><circle cx="427.7" cy="115.3" r="1.35"/><circle cx="426.2" cy="127.6" r="1.35"/><circle cx="430.2" cy="118.4" r="1.35"/><circle cx="428.2" cy="139.3" r="1.35"/><circle cx="427.3" cy="93.7" r="1.35"/><circle cx="426.1" cy="78.2" r="1.35"/><circle cx="429.1" cy="126.4" r="1.35"/><circle cx="429.6" cy="137.9" r="1.35"/><circle cx="429.6" cy="118.5" r="1.35"/><circle cx="426.2" cy="99.2" r="1.35"/><circle cx="427.4" cy="101.6" r="1.35"/><circle cx="427.1" cy="91.7" r="1.35"/><circle cx="429.2" cy="91.2" r="1.35"/><circle cx="426.4" cy="98.8" r="1.35"/><circle cx="428.5" cy="107.6" r="1.35"/><circle cx="430.2" cy="73.5" r="1.35"/><circle cx="429.2" cy="109.4" r="1.35"/><circle cx="425.7" cy="102.2" r="1.35"/><circle cx="426.0" cy="94.1" r="1.35"/><circle cx="426.2" cy="105.0" r="1.35"/><circle cx="428.9" cy="90.5" r="1.35"/><circle cx="428.5" cy="105.0" r="1.35"/><circle cx="428.1" cy="130.7" r="1.35"/><circle cx="427.8" cy="89.4" r="1.35"/><circle cx="427.6" cy="116.7" r="1.35"/><circle cx="428.5" cy="85.9" r="1.35"/><circle cx="428.7" cy="93.5" r="1.35"/><circle cx="429.9" cy="104.1" r="1.35"/><circle cx="429.1" cy="85.4" r="1.35"/><circle cx="429.4" cy="121.4" r="1.35"/><circle cx="429.9" cy="66.0" r="1.35"/><circle cx="429.6" cy="94.6" r="1.35"/><circle cx="429.0" cy="98.7" r="1.35"/><circle cx="425.8" cy="100.9" r="1.35"/><circle cx="428.8" cy="94.8" r="1.35"/><circle cx="429.6" cy="76.8" r="1.35"/><circle cx="427.7" cy="99.3" r="1.35"/><circle cx="429.7" cy="128.8" r="1.35"/><circle cx="426.5" cy="112.0" r="1.35"/><circle cx="430.0" cy="95.3" r="1.35"/><circle cx="427.7" cy="71.1" r="1.35"/><circle cx="428.9" cy="78.6" r="1.35"/><circle cx="426.9" cy="115.5" r="1.35"/><circle cx="427.1" cy="86.6" r="1.35"/><circle cx="427.3" cy="91.6" r="1.35"/><circle cx="427.2" cy="118.8" r="1.35"/><circle cx="426.1" cy="69.0" r="1.35"/><circle cx="427.7" cy="122.7" r="1.35"/><circle cx="430.2" cy="110.9" r="1.35"/><circle cx="428.7" cy="116.2" r="1.35"/><circle cx="430.0" cy="118.1" r="1.35"/><circle cx="429.2" cy="85.8" r="1.35"/><circle cx="429.5" cy="68.4" r="1.35"/><circle cx="430.3" cy="80.6" r="1.35"/><circle cx="429.2" cy="105.7" r="1.35"/><circle cx="427.0" cy="108.3" r="1.35"/><circle cx="426.8" cy="120.9" r="1.35"/><circle cx="427.6" cy="97.0" r="1.35"/><circle cx="425.8" cy="114.2" r="1.35"/><circle cx="426.8" cy="97.7" r="1.35"/><circle cx="429.8" cy="73.5" r="1.35"/><circle cx="429.9" cy="86.4" r="1.35"/><circle cx="427.2" cy="105.5" r="1.35"/><circle cx="429.2" cy="95.8" r="1.35"/><circle cx="429.3" cy="86.0" r="1.35"/><circle cx="429.8" cy="97.2" r="1.35"/><circle cx="429.4" cy="128.2" r="1.35"/><circle cx="428.1" cy="82.1" r="1.35"/><circle cx="426.2" cy="99.2" r="1.35"/><circle cx="429.5" cy="131.0" r="1.35"/><circle cx="427.1" cy="82.9" r="1.35"/><circle cx="428.6" cy="98.5" r="1.35"/><circle cx="427.4" cy="92.2" r="1.35"/><circle cx="428.2" cy="101.0" r="1.35"/><circle cx="430.1" cy="103.4" r="1.35"/><circle cx="426.4" cy="123.1" r="1.35"/><circle cx="428.1" cy="73.3" r="1.35"/><circle cx="428.7" cy="88.2" r="1.35"/><circle cx="428.2" cy="87.4" r="1.35"/><circle cx="430.0" cy="91.9" r="1.35"/><circle cx="427.6" cy="110.4" r="1.35"/><circle cx="429.9" cy="97.7" r="1.35"/><circle cx="428.9" cy="106.2" r="1.35"/><circle cx="430.2" cy="109.4" r="1.35"/><circle cx="426.1" cy="118.5" r="1.35"/><circle cx="426.7" cy="132.2" r="1.35"/><circle cx="427.0" cy="76.3" r="1.35"/><circle cx="429.9" cy="90.1" r="1.35"/><circle cx="425.8" cy="102.9" r="1.35"/><circle cx="426.9" cy="110.0" r="1.35"/><circle cx="429.0" cy="107.9" r="1.35"/><circle cx="430.3" cy="104.3" r="1.35"/><circle cx="426.5" cy="75.4" r="1.35"/><circle cx="427.7" cy="97.1" r="1.35"/><circle cx="428.9" cy="107.0" r="1.35"/><circle cx="428.9" cy="75.9" r="1.35"/><circle cx="429.1" cy="105.1" r="1.35"/><circle cx="429.2" cy="89.6" r="1.35"/><circle cx="426.8" cy="122.1" r="1.35"/><circle cx="426.9" cy="118.0" r="1.35"/><circle cx="425.8" cy="84.9" r="1.35"/><circle cx="428.9" cy="99.2" r="1.35"/><circle cx="426.7" cy="99.9" r="1.35"/><circle cx="426.9" cy="104.6" r="1.35"/><circle cx="430.1" cy="129.2" r="1.35"/><circle cx="428.7" cy="81.2" r="1.35"/><circle cx="428.4" cy="79.1" r="1.35"/><circle cx="428.7" cy="66.9" r="1.35"/><circle cx="428.5" cy="113.9" r="1.35"/><circle cx="428.9" cy="69.8" r="1.35"/><circle cx="427.1" cy="126.9" r="1.35"/><circle cx="426.0" cy="106.4" r="1.35"/><circle cx="426.0" cy="90.1" r="1.35"/><circle cx="425.8" cy="115.3" r="1.35"/><circle cx="427.4" cy="101.2" r="1.35"/><circle cx="426.4" cy="81.5" r="1.35"/><circle cx="426.2" cy="89.0" r="1.35"/><circle cx="428.0" cy="141.6" r="1.35"/><circle cx="430.2" cy="102.4" r="1.35"/><circle cx="428.9" cy="105.5" r="1.35"/><circle cx="427.0" cy="76.0" r="1.35"/><circle cx="429.2" cy="144.6" r="1.35"/><circle cx="426.5" cy="112.4" r="1.35"/><circle cx="426.2" cy="91.7" r="1.35"/><circle cx="427.1" cy="98.2" r="1.35"/><circle cx="427.6" cy="86.2" r="1.35"/><circle cx="428.9" cy="127.7" r="1.35"/><circle cx="427.7" cy="119.1" r="1.35"/><circle cx="429.1" cy="83.2" r="1.35"/><circle cx="426.1" cy="90.4" r="1.35"/><circle cx="430.0" cy="88.5" r="1.35"/><circle cx="427.3" cy="102.0" r="1.35"/><circle cx="429.5" cy="92.3" r="1.35"/><circle cx="425.8" cy="107.0" r="1.35"/><circle cx="429.5" cy="90.4" r="1.35"/><circle cx="426.7" cy="93.8" r="1.35"/><circle cx="429.6" cy="107.6" r="1.35"/><circle cx="429.4" cy="123.2" r="1.35"/><circle cx="428.8" cy="73.0" r="1.35"/><circle cx="427.0" cy="83.9" r="1.35"/><circle cx="425.7" cy="93.6" r="1.35"/><circle cx="426.6" cy="77.1" r="1.35"/><circle cx="429.9" cy="132.3" r="1.35"/><circle cx="426.4" cy="114.6" r="1.35"/><circle cx="428.7" cy="123.5" r="1.35"/><circle cx="428.4" cy="108.3" r="1.35"/><circle cx="428.7" cy="73.2" r="1.35"/><circle cx="426.5" cy="119.4" r="1.35"/><circle cx="426.4" cy="96.3" r="1.35"/><circle cx="426.1" cy="84.1" r="1.35"/><circle cx="430.2" cy="80.0" r="1.35"/><circle cx="427.5" cy="72.6" r="1.35"/><circle cx="428.7" cy="88.0" r="1.35"/><circle cx="428.3" cy="102.2" r="1.35"/><circle cx="426.7" cy="125.1" r="1.35"/><circle cx="426.0" cy="83.8" r="1.35"/><circle cx="425.8" cy="115.1" r="1.35"/><circle cx="429.6" cy="106.3" r="1.35"/><circle cx="426.3" cy="115.9" r="1.35"/><circle cx="430.1" cy="98.7" r="1.35"/><circle cx="427.4" cy="69.6" r="1.35"/><circle cx="429.0" cy="124.4" r="1.35"/><circle cx="426.3" cy="114.0" r="1.35"/><circle cx="429.3" cy="72.0" r="1.35"/><circle cx="426.9" cy="99.7" r="1.35"/><circle cx="427.4" cy="93.8" r="1.35"/><circle cx="428.1" cy="133.6" r="1.35"/><circle cx="426.2" cy="102.0" r="1.35"/><circle cx="426.8" cy="94.2" r="1.35"/><circle cx="429.4" cy="115.6" r="1.35"/><circle cx="427.0" cy="104.9" r="1.35"/><circle cx="427.5" cy="114.1" r="1.35"/><circle cx="429.2" cy="93.4" r="1.35"/><circle cx="426.7" cy="76.0" r="1.35"/><circle cx="426.6" cy="68.1" r="1.35"/><circle cx="426.7" cy="62.1" r="1.35"/><circle cx="427.5" cy="99.0" r="1.35"/><circle cx="427.4" cy="112.7" r="1.35"/><circle cx="428.7" cy="136.9" r="1.35"/><circle cx="427.9" cy="104.2" r="1.35"/><circle cx="429.7" cy="136.1" r="1.35"/><circle cx="425.9" cy="96.5" r="1.35"/><circle cx="428.8" cy="86.2" r="1.35"/><circle cx="429.5" cy="104.6" r="1.35"/><circle cx="426.8" cy="87.7" r="1.35"/><circle cx="425.8" cy="89.6" r="1.35"/><circle cx="427.7" cy="99.2" r="1.35"/><circle cx="426.2" cy="110.7" r="1.35"/><circle cx="427.8" cy="101.3" r="1.35"/><circle cx="429.0" cy="99.3" r="1.35"/><circle cx="426.1" cy="116.8" r="1.35"/><circle cx="426.2" cy="77.4" r="1.35"/><circle cx="427.9" cy="111.3" r="1.35"/><circle cx="426.5" cy="76.5" r="1.35"/><circle cx="426.8" cy="78.3" r="1.35"/><circle cx="427.7" cy="79.7" r="1.35"/><circle cx="426.2" cy="102.7" r="1.35"/><circle cx="426.0" cy="91.5" r="1.35"/><circle cx="427.4" cy="126.2" r="1.35"/><circle cx="427.9" cy="109.3" r="1.35"/><circle cx="430.0" cy="94.3" r="1.35"/></g>
<g fill="#4677BD" fill-opacity="0.45"><circle cx="442.2" cy="50.0" r="1.35"/><circle cx="441.1" cy="131.0" r="1.35"/><circle cx="444.5" cy="92.0" r="1.35"/><circle cx="441.6" cy="101.7" r="1.35"/><circle cx="442.0" cy="51.4" r="1.35"/><circle cx="441.7" cy="76.8" r="1.35"/><circle cx="443.2" cy="84.2" r="1.35"/><circle cx="440.2" cy="130.8" r="1.35"/><circle cx="441.8" cy="77.9" r="1.35"/><circle cx="440.8" cy="92.3" r="1.35"/><circle cx="443.9" cy="117.4" r="1.35"/><circle cx="440.1" cy="97.3" r="1.35"/><circle cx="442.9" cy="104.5" r="1.35"/><circle cx="441.3" cy="89.9" r="1.35"/><circle cx="442.2" cy="58.2" r="1.35"/><circle cx="442.7" cy="104.2" r="1.35"/><circle cx="443.4" cy="117.9" r="1.35"/><circle cx="440.7" cy="106.6" r="1.35"/><circle cx="441.2" cy="88.4" r="1.35"/><circle cx="440.7" cy="109.4" r="1.35"/><circle cx="444.5" cy="83.5" r="1.35"/><circle cx="440.8" cy="76.1" r="1.35"/><circle cx="440.7" cy="80.4" r="1.35"/><circle cx="442.5" cy="96.7" r="1.35"/><circle cx="442.8" cy="129.0" r="1.35"/><circle cx="444.2" cy="97.3" r="1.35"/><circle cx="440.4" cy="89.8" r="1.35"/><circle cx="441.2" cy="94.5" r="1.35"/><circle cx="440.9" cy="57.2" r="1.35"/><circle cx="442.8" cy="102.1" r="1.35"/><circle cx="442.2" cy="78.4" r="1.35"/><circle cx="442.0" cy="91.0" r="1.35"/><circle cx="444.2" cy="63.1" r="1.35"/><circle cx="443.1" cy="95.2" r="1.35"/><circle cx="444.1" cy="87.4" r="1.35"/><circle cx="444.5" cy="84.3" r="1.35"/><circle cx="441.3" cy="113.7" r="1.35"/><circle cx="444.4" cy="92.2" r="1.35"/><circle cx="442.0" cy="60.9" r="1.35"/><circle cx="440.3" cy="102.0" r="1.35"/><circle cx="444.3" cy="110.3" r="1.35"/><circle cx="440.6" cy="53.9" r="1.35"/><circle cx="440.2" cy="65.9" r="1.35"/><circle cx="441.4" cy="109.2" r="1.35"/><circle cx="441.4" cy="103.1" r="1.35"/><circle cx="444.5" cy="119.5" r="1.35"/><circle cx="444.1" cy="100.6" r="1.35"/><circle cx="442.0" cy="104.7" r="1.35"/><circle cx="442.5" cy="106.8" r="1.35"/><circle cx="444.0" cy="94.8" r="1.35"/><circle cx="443.8" cy="64.0" r="1.35"/><circle cx="443.1" cy="117.0" r="1.35"/><circle cx="442.5" cy="86.2" r="1.35"/><circle cx="440.6" cy="93.4" r="1.35"/><circle cx="441.2" cy="91.6" r="1.35"/><circle cx="443.1" cy="111.2" r="1.35"/><circle cx="442.8" cy="89.6" r="1.35"/><circle cx="443.8" cy="67.3" r="1.35"/><circle cx="444.2" cy="99.0" r="1.35"/><circle cx="444.5" cy="120.8" r="1.35"/><circle cx="441.0" cy="86.3" r="1.35"/><circle cx="440.4" cy="127.6" r="1.35"/><circle cx="444.2" cy="93.3" r="1.35"/><circle cx="442.7" cy="104.3" r="1.35"/><circle cx="440.9" cy="122.5" r="1.35"/></g>
<g fill="#DA3328" fill-opacity="0.45"><circle cx="474.3" cy="60.0" r="1.35"/><circle cx="475.9" cy="143.8" r="1.35"/><circle cx="477.3" cy="97.7" r="1.35"/><circle cx="474.3" cy="115.8" r="1.35"/><circle cx="474.3" cy="65.1" r="1.35"/><circle cx="477.0" cy="91.3" r="1.35"/><circle cx="475.5" cy="126.6" r="1.35"/><circle cx="475.1" cy="111.2" r="1.35"/><circle cx="474.1" cy="79.3" r="1.35"/><circle cx="474.6" cy="79.5" r="1.35"/><circle cx="478.0" cy="78.5" r="1.35"/><circle cx="474.0" cy="63.1" r="1.35"/><circle cx="474.7" cy="119.6" r="1.35"/><circle cx="476.9" cy="97.4" r="1.35"/><circle cx="477.6" cy="81.7" r="1.35"/><circle cx="477.7" cy="66.6" r="1.35"/><circle cx="475.7" cy="88.1" r="1.35"/><circle cx="477.9" cy="85.5" r="1.35"/><circle cx="476.3" cy="131.3" r="1.35"/><circle cx="474.8" cy="86.6" r="1.35"/><circle cx="475.6" cy="98.4" r="1.35"/><circle cx="476.8" cy="117.9" r="1.35"/><circle cx="476.9" cy="109.7" r="1.35"/><circle cx="474.1" cy="92.3" r="1.35"/><circle cx="474.4" cy="124.7" r="1.35"/><circle cx="477.9" cy="108.2" r="1.35"/><circle cx="474.0" cy="87.1" r="1.35"/><circle cx="477.2" cy="94.2" r="1.35"/><circle cx="475.1" cy="76.4" r="1.35"/><circle cx="474.6" cy="77.6" r="1.35"/><circle cx="474.7" cy="65.6" r="1.35"/><circle cx="475.7" cy="106.3" r="1.35"/><circle cx="478.1" cy="106.6" r="1.35"/><circle cx="474.2" cy="99.6" r="1.35"/><circle cx="477.4" cy="112.0" r="1.35"/><circle cx="475.0" cy="107.0" r="1.35"/><circle cx="474.3" cy="98.5" r="1.35"/><circle cx="476.9" cy="77.9" r="1.35"/><circle cx="475.1" cy="108.1" r="1.35"/><circle cx="474.4" cy="120.3" r="1.35"/><circle cx="475.4" cy="108.9" r="1.35"/><circle cx="477.3" cy="121.5" r="1.35"/><circle cx="477.5" cy="86.3" r="1.35"/><circle cx="476.1" cy="76.0" r="1.35"/><circle cx="473.5" cy="121.6" r="1.35"/><circle cx="477.0" cy="84.1" r="1.35"/><circle cx="476.3" cy="101.0" r="1.35"/><circle cx="477.6" cy="92.1" r="1.35"/><circle cx="477.9" cy="96.4" r="1.35"/><circle cx="475.0" cy="90.5" r="1.35"/><circle cx="477.4" cy="85.0" r="1.35"/><circle cx="477.3" cy="134.9" r="1.35"/><circle cx="474.7" cy="100.2" r="1.35"/><circle cx="475.2" cy="77.5" r="1.35"/><circle cx="475.2" cy="73.0" r="1.35"/><circle cx="475.1" cy="80.9" r="1.35"/><circle cx="475.2" cy="107.7" r="1.35"/><circle cx="474.0" cy="129.5" r="1.35"/><circle cx="474.5" cy="91.0" r="1.35"/><circle cx="477.7" cy="111.2" r="1.35"/><circle cx="475.4" cy="108.3" r="1.35"/><circle cx="476.4" cy="70.6" r="1.35"/><circle cx="477.6" cy="120.9" r="1.35"/><circle cx="477.0" cy="61.6" r="1.35"/><circle cx="474.6" cy="84.3" r="1.35"/><circle cx="477.7" cy="88.7" r="1.35"/><circle cx="477.2" cy="121.6" r="1.35"/><circle cx="478.1" cy="98.4" r="1.35"/><circle cx="476.8" cy="93.5" r="1.35"/><circle cx="477.0" cy="79.6" r="1.35"/><circle cx="477.2" cy="97.8" r="1.35"/><circle cx="474.7" cy="96.9" r="1.35"/><circle cx="476.5" cy="110.9" r="1.35"/><circle cx="475.3" cy="124.4" r="1.35"/><circle cx="477.4" cy="111.0" r="1.35"/><circle cx="474.1" cy="96.4" r="1.35"/><circle cx="476.0" cy="92.9" r="1.35"/><circle cx="475.0" cy="128.6" r="1.35"/><circle cx="477.3" cy="100.1" r="1.35"/><circle cx="475.1" cy="95.7" r="1.35"/><circle cx="477.4" cy="132.6" r="1.35"/><circle cx="477.4" cy="127.9" r="1.35"/><circle cx="477.5" cy="107.6" r="1.35"/><circle cx="474.1" cy="93.8" r="1.35"/><circle cx="477.8" cy="83.1" r="1.35"/><circle cx="476.9" cy="117.7" r="1.35"/><circle cx="476.6" cy="86.8" r="1.35"/><circle cx="476.5" cy="115.6" r="1.35"/><circle cx="473.7" cy="80.1" r="1.35"/><circle cx="477.5" cy="98.1" r="1.35"/><circle cx="476.0" cy="104.2" r="1.35"/><circle cx="475.6" cy="98.9" r="1.35"/><circle cx="475.1" cy="100.8" r="1.35"/><circle cx="477.1" cy="103.8" r="1.35"/><circle cx="477.1" cy="73.1" r="1.35"/><circle cx="477.5" cy="73.4" r="1.35"/><circle cx="474.5" cy="93.0" r="1.35"/><circle cx="475.1" cy="132.7" r="1.35"/><circle cx="474.6" cy="93.5" r="1.35"/><circle cx="474.0" cy="77.1" r="1.35"/><circle cx="475.0" cy="82.6" r="1.35"/><circle cx="473.6" cy="96.7" r="1.35"/><circle cx="477.2" cy="120.1" r="1.35"/><circle cx="474.5" cy="84.5" r="1.35"/><circle cx="473.8" cy="107.4" r="1.35"/><circle cx="473.8" cy="99.8" r="1.35"/><circle cx="476.9" cy="88.8" r="1.35"/><circle cx="474.4" cy="76.8" r="1.35"/><circle cx="475.6" cy="92.9" r="1.35"/><circle cx="475.3" cy="81.3" r="1.35"/><circle cx="477.2" cy="106.9" r="1.35"/><circle cx="477.9" cy="60.2" r="1.35"/><circle cx="474.9" cy="118.9" r="1.35"/><circle cx="476.4" cy="111.4" r="1.35"/><circle cx="477.6" cy="107.8" r="1.35"/><circle cx="475.7" cy="126.4" r="1.35"/><circle cx="477.6" cy="108.3" r="1.35"/><circle cx="476.9" cy="61.3" r="1.35"/><circle cx="474.9" cy="97.1" r="1.35"/><circle cx="477.5" cy="105.1" r="1.35"/><circle cx="476.1" cy="82.1" r="1.35"/><circle cx="474.0" cy="73.0" r="1.35"/><circle cx="476.2" cy="104.8" r="1.35"/><circle cx="477.3" cy="106.4" r="1.35"/><circle cx="475.9" cy="87.4" r="1.35"/><circle cx="475.7" cy="91.1" r="1.35"/><circle cx="475.4" cy="85.7" r="1.35"/><circle cx="477.6" cy="84.5" r="1.35"/><circle cx="476.6" cy="94.8" r="1.35"/><circle cx="474.5" cy="117.8" r="1.35"/><circle cx="475.2" cy="63.3" r="1.35"/><circle cx="475.2" cy="89.1" r="1.35"/><circle cx="477.9" cy="128.8" r="1.35"/><circle cx="476.7" cy="102.4" r="1.35"/><circle cx="474.1" cy="99.1" r="1.35"/><circle cx="477.7" cy="113.0" r="1.35"/><circle cx="473.7" cy="75.6" r="1.35"/><circle cx="476.2" cy="71.5" r="1.35"/><circle cx="475.5" cy="62.3" r="1.35"/><circle cx="476.8" cy="66.4" r="1.35"/><circle cx="475.5" cy="101.0" r="1.35"/><circle cx="473.9" cy="113.2" r="1.35"/><circle cx="475.9" cy="87.6" r="1.35"/><circle cx="477.3" cy="82.2" r="1.35"/><circle cx="477.1" cy="104.2" r="1.35"/><circle cx="475.1" cy="108.4" r="1.35"/><circle cx="474.5" cy="101.2" r="1.35"/><circle cx="476.9" cy="85.0" r="1.35"/><circle cx="477.2" cy="100.9" r="1.35"/><circle cx="474.5" cy="78.8" r="1.35"/><circle cx="477.6" cy="82.7" r="1.35"/><circle cx="478.1" cy="126.5" r="1.35"/><circle cx="475.5" cy="122.8" r="1.35"/><circle cx="475.3" cy="105.8" r="1.35"/><circle cx="476.8" cy="101.6" r="1.35"/><circle cx="477.8" cy="99.5" r="1.35"/><circle cx="474.4" cy="84.1" r="1.35"/><circle cx="474.9" cy="95.0" r="1.35"/><circle cx="475.0" cy="134.7" r="1.35"/><circle cx="476.9" cy="78.3" r="1.35"/><circle cx="474.4" cy="82.6" r="1.35"/><circle cx="476.0" cy="99.3" r="1.35"/><circle cx="475.8" cy="114.1" r="1.35"/><circle cx="476.6" cy="112.9" r="1.35"/><circle cx="474.2" cy="76.4" r="1.35"/><circle cx="477.9" cy="93.4" r="1.35"/><circle cx="478.1" cy="90.6" r="1.35"/><circle cx="476.1" cy="71.0" r="1.35"/><circle cx="477.2" cy="97.6" r="1.35"/><circle cx="474.3" cy="86.3" r="1.35"/><circle cx="477.7" cy="114.6" r="1.35"/><circle cx="476.0" cy="104.8" r="1.35"/><circle cx="477.0" cy="80.2" r="1.35"/><circle cx="477.5" cy="97.6" r="1.35"/><circle cx="475.2" cy="88.8" r="1.35"/><circle cx="477.8" cy="83.2" r="1.35"/><circle cx="474.5" cy="86.2" r="1.35"/><circle cx="473.6" cy="117.5" r="1.35"/><circle cx="475.8" cy="87.6" r="1.35"/><circle cx="477.6" cy="61.3" r="1.35"/><circle cx="477.6" cy="80.3" r="1.35"/><circle cx="477.9" cy="112.3" r="1.35"/><circle cx="475.8" cy="139.6" r="1.35"/><circle cx="477.8" cy="74.7" r="1.35"/><circle cx="476.1" cy="88.8" r="1.35"/><circle cx="474.2" cy="89.4" r="1.35"/><circle cx="476.4" cy="67.5" r="1.35"/><circle cx="477.2" cy="104.1" r="1.35"/><circle cx="475.4" cy="95.0" r="1.35"/><circle cx="476.3" cy="101.6" r="1.35"/><circle cx="474.7" cy="141.3" r="1.35"/><circle cx="474.8" cy="90.6" r="1.35"/><circle cx="475.4" cy="112.1" r="1.35"/><circle cx="475.9" cy="112.9" r="1.35"/><circle cx="475.7" cy="83.1" r="1.35"/><circle cx="473.9" cy="84.0" r="1.35"/><circle cx="473.5" cy="127.5" r="1.35"/><circle cx="475.1" cy="110.5" r="1.35"/><circle cx="476.8" cy="98.9" r="1.35"/><circle cx="476.9" cy="73.9" r="1.35"/><circle cx="474.6" cy="113.9" r="1.35"/><circle cx="474.7" cy="106.7" r="1.35"/><circle cx="475.9" cy="140.5" r="1.35"/><circle cx="474.3" cy="125.8" r="1.35"/><circle cx="476.3" cy="112.3" r="1.35"/><circle cx="477.7" cy="101.4" r="1.35"/><circle cx="474.4" cy="97.3" r="1.35"/><circle cx="476.2" cy="84.9" r="1.35"/><circle cx="476.8" cy="102.2" r="1.35"/><circle cx="476.9" cy="100.9" r="1.35"/></g>
<g fill="#4677BD" fill-opacity="0.45"><circle cx="489.1" cy="54.0" r="1.35"/><circle cx="491.8" cy="127.6" r="1.35"/><circle cx="490.0" cy="84.0" r="1.35"/><circle cx="489.4" cy="96.5" r="1.35"/><circle cx="488.3" cy="86.7" r="1.35"/><circle cx="488.0" cy="112.4" r="1.35"/><circle cx="491.6" cy="81.8" r="1.35"/><circle cx="491.2" cy="97.2" r="1.35"/><circle cx="487.6" cy="94.3" r="1.35"/><circle cx="489.0" cy="99.7" r="1.35"/><circle cx="489.7" cy="58.2" r="1.35"/><circle cx="489.8" cy="105.4" r="1.35"/><circle cx="489.2" cy="109.1" r="1.35"/><circle cx="491.6" cy="70.6" r="1.35"/><circle cx="489.1" cy="122.3" r="1.35"/><circle cx="489.9" cy="90.5" r="1.35"/><circle cx="491.8" cy="104.7" r="1.35"/><circle cx="490.4" cy="102.0" r="1.35"/><circle cx="489.7" cy="109.3" r="1.35"/><circle cx="489.0" cy="76.2" r="1.35"/><circle cx="489.3" cy="77.3" r="1.35"/><circle cx="490.3" cy="98.2" r="1.35"/><circle cx="491.1" cy="103.2" r="1.35"/><circle cx="488.7" cy="102.5" r="1.35"/><circle cx="489.2" cy="97.4" r="1.35"/><circle cx="489.3" cy="79.5" r="1.35"/><circle cx="489.2" cy="114.0" r="1.35"/><circle cx="491.7" cy="100.2" r="1.35"/><circle cx="490.0" cy="113.1" r="1.35"/><circle cx="488.8" cy="111.9" r="1.35"/><circle cx="489.0" cy="94.6" r="1.35"/><circle cx="491.3" cy="75.6" r="1.35"/><circle cx="488.2" cy="92.6" r="1.35"/><circle cx="490.7" cy="79.7" r="1.35"/><circle cx="487.6" cy="83.3" r="1.35"/><circle cx="488.4" cy="94.2" r="1.35"/><circle cx="487.8" cy="97.5" r="1.35"/><circle cx="491.2" cy="72.6" r="1.35"/><circle cx="488.2" cy="73.0" r="1.35"/><circle cx="488.5" cy="101.8" r="1.35"/><circle cx="487.8" cy="71.6" r="1.35"/><circle cx="488.7" cy="99.3" r="1.35"/><circle cx="490.9" cy="82.0" r="1.35"/><circle cx="490.8" cy="69.5" r="1.35"/><circle cx="491.7" cy="115.4" r="1.35"/><circle cx="491.9" cy="126.1" r="1.35"/><circle cx="490.0" cy="87.7" r="1.35"/><circle cx="491.7" cy="88.9" r="1.35"/><circle cx="487.9" cy="110.9" r="1.35"/><circle cx="491.8" cy="61.1" r="1.35"/><circle cx="489.5" cy="71.0" r="1.35"/><circle cx="488.4" cy="114.7" r="1.35"/><circle cx="490.9" cy="109.6" r="1.35"/><circle cx="491.4" cy="79.2" r="1.35"/><circle cx="489.3" cy="73.0" r="1.35"/><circle cx="487.9" cy="97.6" r="1.35"/><circle cx="491.5" cy="59.3" r="1.35"/><circle cx="491.0" cy="79.1" r="1.35"/><circle cx="490.2" cy="84.9" r="1.35"/><circle cx="492.0" cy="102.9" r="1.35"/><circle cx="487.7" cy="106.7" r="1.35"/><circle cx="487.8" cy="113.3" r="1.35"/><circle cx="488.1" cy="58.6" r="1.35"/><circle cx="487.6" cy="61.9" r="1.35"/><circle cx="490.8" cy="72.2" r="1.35"/></g>
<line x1="428.00" y1="57.00" x2="428.00" y2="87.20" stroke="#DA3328" stroke-width="0.9" stroke-opacity="0.9"/>
<line x1="428.00" y1="110.70" x2="428.00" y2="145.00" stroke="#DA3328" stroke-width="0.9" stroke-opacity="0.9"/>
<rect x="406.40" y="87.20" width="43.50" height="23.50" fill="#DA3328" fill-opacity="0.28" stroke="#DA3328" stroke-opacity="0.75" stroke-width="0.8"/>
<line x1="442.40" y1="50.10" x2="442.40" y2="81.30" stroke="#4677BD" stroke-width="0.9" stroke-opacity="0.9"/>
<line x1="442.40" y1="108.10" x2="442.40" y2="132.40" stroke="#4677BD" stroke-width="0.9" stroke-opacity="0.9"/>
<rect x="421.00" y="81.30" width="42.90" height="26.80" fill="#4677BD" fill-opacity="0.28" stroke="#4677BD" stroke-opacity="0.75" stroke-width="0.8"/>
<polyline points="380.3,99.2 428.0,100.4 475.8,95.8" fill="none" stroke="#DA3328" stroke-width="1.5"/>
<polyline points="394.6,98.4 442.4,94.8 489.8,89.7" fill="none" stroke="#4677BD" stroke-width="1.5"/>
<circle cx="394.6" cy="98.4" r="1.9" fill="#4677BD"/>
<circle cx="442.4" cy="94.8" r="1.9" fill="#4677BD"/>
<circle cx="489.8" cy="89.7" r="1.9" fill="#4677BD"/>
<circle cx="380.3" cy="99.2" r="1.9" fill="#DA3328"/>
<circle cx="428.0" cy="100.4" r="1.9" fill="#DA3328"/>
<circle cx="475.8" cy="95.8" r="1.9" fill="#DA3328"/>
<line x1="359.10" y1="21.40" x2="359.10" y2="155.50" stroke="#5c5c5c" stroke-width="1.0" stroke-opacity="1"/>
<line x1="358.60" y1="155.00" x2="510.70" y2="155.00" stroke="#5c5c5c" stroke-width="1.0" stroke-opacity="1"/>
<line x1="359.10" y1="51.60" x2="361.30" y2="51.60" stroke="#5c5c5c" stroke-width="0.8" stroke-opacity="1"/>
<text x="357.50" y="53.76" font-size="6.0" font-weight="normal" text-anchor="end" fill="#404040" stroke="#404040" stroke-width="0.2">150</text>
<line x1="359.10" y1="88.80" x2="361.30" y2="88.80" stroke="#5c5c5c" stroke-width="0.8" stroke-opacity="1"/>
<text x="357.50" y="90.96" font-size="6.0" font-weight="normal" text-anchor="end" fill="#404040" stroke="#404040" stroke-width="0.2">100</text>
<line x1="359.10" y1="126.30" x2="361.30" y2="126.30" stroke="#5c5c5c" stroke-width="0.8" stroke-opacity="1"/>
<text x="357.50" y="128.46" font-size="6.0" font-weight="normal" text-anchor="end" fill="#404040" stroke="#404040" stroke-width="0.2">50</text>
<line x1="387.30" y1="155.00" x2="387.30" y2="152.40" stroke="#5c5c5c" stroke-width="1.0" stroke-opacity="1"/>
<text x="387.30" y="160.66" font-size="6.2" font-weight="normal" text-anchor="middle" fill="#404040" stroke="#404040" stroke-width="0.2">D1</text>
<line x1="435.00" y1="155.00" x2="435.00" y2="152.40" stroke="#5c5c5c" stroke-width="1.0" stroke-opacity="1"/>
<text x="435.00" y="160.66" font-size="6.2" font-weight="normal" text-anchor="middle" fill="#404040" stroke="#404040" stroke-width="0.2">D15</text>
<line x1="482.60" y1="155.00" x2="482.60" y2="152.40" stroke="#5c5c5c" stroke-width="1.0" stroke-opacity="1"/>
<text x="482.60" y="160.66" font-size="6.2" font-weight="normal" text-anchor="middle" fill="#404040" stroke="#404040" stroke-width="0.2">D85</text>
<text x="434.90" y="169.00" font-size="6.7" font-weight="bold" text-anchor="middle" fill="#000" stroke="#000" stroke-width="0.12">Timepoint</text>
<text x="387.50" y="42.80" font-size="6.75" font-weight="bold" text-anchor="middle" fill="#000" stroke="#000" stroke-width="0.12">FDR p = 0.557</text>
<text x="435.40" y="37.10" font-size="6.75" font-weight="bold" text-anchor="middle" fill="#000" stroke="#000" stroke-width="0.12">FDR p = 0.032</text>
<text x="482.70" y="32.00" font-size="6.75" font-weight="bold" text-anchor="middle" fill="#000" stroke="#000" stroke-width="0.12">FDR p = 0.037</text>
<text x="608.85" y="15.80" font-size="7.15" font-weight="bold" text-anchor="middle" fill="#000" stroke="#000" stroke-width="0.12">>2 years</text>
<g fill="#DA3328" fill-opacity="0.45"><circle cx="552.2" cy="52.0" r="1.35"/><circle cx="555.5" cy="124.0" r="1.35"/><circle cx="554.8" cy="84.0" r="1.35"/><circle cx="554.8" cy="87.1" r="1.35"/><circle cx="556.0" cy="61.7" r="1.35"/><circle cx="556.3" cy="64.8" r="1.35"/><circle cx="554.8" cy="92.9" r="1.35"/><circle cx="555.0" cy="76.3" r="1.35"/><circle cx="551.7" cy="94.9" r="1.35"/><circle cx="551.9" cy="76.9" r="1.35"/><circle cx="553.7" cy="70.1" r="1.35"/><circle cx="556.2" cy="86.3" r="1.35"/><circle cx="553.1" cy="83.4" r="1.35"/><circle cx="554.3" cy="119.4" r="1.35"/><circle cx="551.7" cy="102.5" r="1.35"/><circle cx="553.6" cy="78.2" r="1.35"/><circle cx="555.9" cy="83.3" r="1.35"/><circle cx="554.4" cy="87.4" r="1.35"/><circle cx="555.5" cy="87.0" r="1.35"/><circle cx="551.8" cy="90.4" r="1.35"/><circle cx="552.6" cy="78.6" r="1.35"/><circle cx="552.5" cy="73.8" r="1.35"/><circle cx="555.5" cy="56.7" r="1.35"/><circle cx="552.2" cy="74.7" r="1.35"/><circle cx="556.0" cy="94.8" r="1.35"/><circle cx="552.9" cy="82.4" r="1.35"/><circle cx="555.8" cy="84.0" r="1.35"/><circle cx="554.1" cy="60.0" r="1.35"/><circle cx="553.2" cy="88.3" r="1.35"/><circle cx="556.1" cy="68.0" r="1.35"/><circle cx="553.6" cy="70.9" r="1.35"/><circle cx="554.9" cy="100.9" r="1.35"/><circle cx="552.0" cy="100.1" r="1.35"/><circle cx="555.5" cy="53.3" r="1.35"/><circle cx="556.2" cy="71.3" r="1.35"/><circle cx="552.2" cy="75.9" r="1.35"/><circle cx="555.1" cy="85.7" r="1.35"/><circle cx="552.9" cy="92.1" r="1.35"/><circle cx="552.4" cy="78.5" r="1.35"/><circle cx="553.4" cy="77.7" r="1.35"/><circle cx="554.7" cy="87.5" r="1.35"/><circle cx="556.1" cy="54.1" r="1.35"/><circle cx="556.3" cy="77.4" r="1.35"/><circle cx="556.3" cy="78.9" r="1.35"/><circle cx="554.6" cy="83.6" r="1.35"/><circle cx="554.7" cy="64.2" r="1.35"/><circle cx="552.4" cy="69.5" r="1.35"/><circle cx="555.0" cy="62.0" r="1.35"/><circle cx="554.2" cy="76.9" r="1.35"/><circle cx="553.4" cy="63.8" r="1.35"/><circle cx="555.8" cy="115.2" r="1.35"/><circle cx="552.9" cy="69.7" r="1.35"/><circle cx="552.4" cy="97.7" r="1.35"/><circle cx="552.4" cy="70.0" r="1.35"/><circle cx="552.4" cy="73.1" r="1.35"/><circle cx="554.4" cy="92.3" r="1.35"/><circle cx="555.4" cy="75.1" r="1.35"/><circle cx="552.4" cy="111.2" r="1.35"/><circle cx="554.0" cy="85.9" r="1.35"/><circle cx="554.3" cy="53.5" r="1.35"/><circle cx="554.3" cy="98.9" r="1.35"/><circle cx="553.6" cy="74.0" r="1.35"/><circle cx="554.2" cy="66.9" r="1.35"/><circle cx="551.8" cy="79.6" r="1.35"/><circle cx="552.0" cy="67.3" r="1.35"/><circle cx="553.6" cy="72.2" r="1.35"/><circle cx="552.8" cy="73.3" r="1.35"/><circle cx="555.2" cy="89.9" r="1.35"/><circle cx="552.8" cy="65.5" r="1.35"/><circle cx="555.5" cy="73.7" r="1.35"/><circle cx="552.8" cy="112.5" r="1.35"/><circle cx="552.1" cy="109.0" r="1.35"/><circle cx="553.9" cy="96.2" r="1.35"/><circle cx="553.5" cy="79.4" r="1.35"/><circle cx="553.2" cy="70.5" r="1.35"/><circle cx="555.2" cy="80.4" r="1.35"/><circle cx="552.7" cy="59.5" r="1.35"/><circle cx="554.8" cy="95.6" r="1.35"/><circle cx="555.5" cy="68.0" r="1.35"/><circle cx="553.8" cy="94.4" r="1.35"/><circle cx="554.0" cy="101.2" r="1.35"/><circle cx="555.9" cy="92.5" r="1.35"/><circle cx="554.5" cy="88.6" r="1.35"/><circle cx="552.5" cy="86.3" r="1.35"/><circle cx="552.0" cy="101.9" r="1.35"/><circle cx="552.1" cy="98.9" r="1.35"/><circle cx="553.2" cy="56.4" r="1.35"/><circle cx="552.1" cy="87.6" r="1.35"/><circle cx="554.7" cy="78.0" r="1.35"/><circle cx="553.6" cy="103.3" r="1.35"/><circle cx="553.1" cy="75.0" r="1.35"/><circle cx="554.1" cy="73.5" r="1.35"/><circle cx="556.0" cy="55.0" r="1.35"/><circle cx="552.8" cy="79.9" r="1.35"/><circle cx="552.4" cy="83.8" r="1.35"/><circle cx="553.1" cy="100.3" r="1.35"/><circle cx="553.2" cy="76.5" r="1.35"/><circle cx="555.9" cy="93.2" r="1.35"/><circle cx="554.9" cy="110.5" r="1.35"/><circle cx="553.7" cy="61.7" r="1.35"/><circle cx="552.5" cy="94.8" r="1.35"/><circle cx="551.9" cy="78.8" r="1.35"/><circle cx="552.3" cy="54.5" r="1.35"/><circle cx="555.6" cy="67.1" r="1.35"/><circle cx="554.7" cy="79.9" r="1.35"/><circle cx="552.4" cy="62.5" r="1.35"/><circle cx="554.6" cy="88.9" r="1.35"/><circle cx="552.0" cy="67.5" r="1.35"/><circle cx="554.0" cy="95.1" r="1.35"/><circle cx="553.2" cy="73.8" r="1.35"/><circle cx="552.2" cy="97.3" r="1.35"/><circle cx="555.1" cy="95.9" r="1.35"/><circle cx="555.0" cy="92.9" r="1.35"/><circle cx="554.0" cy="96.9" r="1.35"/><circle cx="552.5" cy="121.2" r="1.35"/><circle cx="554.8" cy="93.8" r="1.35"/><circle cx="553.7" cy="55.2" r="1.35"/><circle cx="554.7" cy="72.7" r="1.35"/><circle cx="552.1" cy="93.5" r="1.35"/><circle cx="555.9" cy="94.7" r="1.35"/><circle cx="551.7" cy="70.9" r="1.35"/><circle cx="552.7" cy="87.0" r="1.35"/><circle cx="553.5" cy="80.5" r="1.35"/><circle cx="552.6" cy="75.4" r="1.35"/><circle cx="552.1" cy="72.7" r="1.35"/><circle cx="554.9" cy="79.9" r="1.35"/><circle cx="556.3" cy="97.9" r="1.35"/><circle cx="553.2" cy="53.5" r="1.35"/><circle cx="552.9" cy="95.4" r="1.35"/><circle cx="554.8" cy="82.6" r="1.35"/><circle cx="552.7" cy="55.6" r="1.35"/><circle cx="553.5" cy="83.6" r="1.35"/><circle cx="554.9" cy="77.2" r="1.35"/><circle cx="553.7" cy="65.4" r="1.35"/><circle cx="552.4" cy="87.8" r="1.35"/><circle cx="552.0" cy="75.1" r="1.35"/><circle cx="554.2" cy="97.0" r="1.35"/><circle cx="556.3" cy="99.8" r="1.35"/><circle cx="555.9" cy="86.0" r="1.35"/><circle cx="552.2" cy="85.6" r="1.35"/><circle cx="554.0" cy="65.4" r="1.35"/><circle cx="553.9" cy="79.0" r="1.35"/><circle cx="552.6" cy="96.8" r="1.35"/><circle cx="554.8" cy="108.6" r="1.35"/><circle cx="554.0" cy="53.0" r="1.35"/><circle cx="555.4" cy="83.3" r="1.35"/><circle cx="553.0" cy="79.0" r="1.35"/><circle cx="556.0" cy="112.1" r="1.35"/><circle cx="555.4" cy="84.9" r="1.35"/><circle cx="553.9" cy="111.1" r="1.35"/><circle cx="552.3" cy="53.0" r="1.35"/><circle cx="553.9" cy="81.8" r="1.35"/><circle cx="552.3" cy="58.0" r="1.35"/><circle cx="554.9" cy="72.9" r="1.35"/><circle cx="554.9" cy="72.6" r="1.35"/><circle cx="554.4" cy="81.4" r="1.35"/><circle cx="556.2" cy="102.3" r="1.35"/><circle cx="551.9" cy="65.0" r="1.35"/><circle cx="555.0" cy="68.7" r="1.35"/><circle cx="555.4" cy="56.4" r="1.35"/><circle cx="552.2" cy="80.9" r="1.35"/><circle cx="553.2" cy="95.6" r="1.35"/><circle cx="551.9" cy="96.0" r="1.35"/><circle cx="554.4" cy="86.9" r="1.35"/><circle cx="555.0" cy="74.9" r="1.35"/><circle cx="553.3" cy="71.3" r="1.35"/><circle cx="554.9" cy="61.6" r="1.35"/><circle cx="553.4" cy="71.5" r="1.35"/><circle cx="555.0" cy="84.1" r="1.35"/><circle cx="553.0" cy="90.0" r="1.35"/><circle cx="556.2" cy="91.8" r="1.35"/><circle cx="553.7" cy="67.2" r="1.35"/><circle cx="551.7" cy="79.5" r="1.35"/><circle cx="552.1" cy="66.2" r="1.35"/><circle cx="555.0" cy="93.1" r="1.35"/><circle cx="555.7" cy="80.5" r="1.35"/><circle cx="554.6" cy="59.0" r="1.35"/><circle cx="552.4" cy="95.4" r="1.35"/><circle cx="555.7" cy="105.6" r="1.35"/><circle cx="555.0" cy="53.4" r="1.35"/><circle cx="552.2" cy="107.1" r="1.35"/><circle cx="553.5" cy="87.2" r="1.35"/><circle cx="554.8" cy="78.1" r="1.35"/><circle cx="551.7" cy="59.6" r="1.35"/><circle cx="551.9" cy="64.8" r="1.35"/><circle cx="553.3" cy="91.5" r="1.35"/><circle cx="555.7" cy="77.6" r="1.35"/><circle cx="556.3" cy="82.3" r="1.35"/><circle cx="553.2" cy="81.2" r="1.35"/><circle cx="555.9" cy="86.4" r="1.35"/><circle cx="555.3" cy="74.5" r="1.35"/><circle cx="555.7" cy="99.7" r="1.35"/><circle cx="554.4" cy="64.9" r="1.35"/><circle cx="556.2" cy="73.4" r="1.35"/><circle cx="554.7" cy="65.9" r="1.35"/><circle cx="556.1" cy="99.2" r="1.35"/><circle cx="554.3" cy="72.4" r="1.35"/><circle cx="552.6" cy="71.0" r="1.35"/><circle cx="554.1" cy="72.2" r="1.35"/><circle cx="553.9" cy="66.6" r="1.35"/><circle cx="553.3" cy="69.0" r="1.35"/><circle cx="553.4" cy="71.2" r="1.35"/><circle cx="554.0" cy="90.0" r="1.35"/><circle cx="554.4" cy="76.8" r="1.35"/><circle cx="552.7" cy="84.4" r="1.35"/><circle cx="553.0" cy="78.1" r="1.35"/><circle cx="554.0" cy="98.0" r="1.35"/><circle cx="554.0" cy="80.2" r="1.35"/><circle cx="553.6" cy="83.9" r="1.35"/><circle cx="554.8" cy="96.2" r="1.35"/></g>
<g fill="#4677BD" fill-opacity="0.45"><circle cx="566.2" cy="52.0" r="1.35"/><circle cx="569.7" cy="107.4" r="1.35"/><circle cx="569.7" cy="71.1" r="1.35"/><circle cx="567.2" cy="98.7" r="1.35"/><circle cx="569.6" cy="68.0" r="1.35"/><circle cx="568.2" cy="64.5" r="1.35"/><circle cx="570.5" cy="73.8" r="1.35"/><circle cx="566.3" cy="89.9" r="1.35"/><circle cx="567.7" cy="67.5" r="1.35"/><circle cx="567.0" cy="66.8" r="1.35"/><circle cx="568.9" cy="83.2" r="1.35"/><circle cx="569.6" cy="57.0" r="1.35"/><circle cx="569.9" cy="87.7" r="1.35"/><circle cx="568.5" cy="81.7" r="1.35"/><circle cx="567.8" cy="60.4" r="1.35"/><circle cx="569.7" cy="73.9" r="1.35"/><circle cx="566.5" cy="65.4" r="1.35"/><circle cx="567.2" cy="62.4" r="1.35"/><circle cx="569.5" cy="78.9" r="1.35"/><circle cx="568.0" cy="70.4" r="1.35"/><circle cx="570.6" cy="87.4" r="1.35"/><circle cx="566.4" cy="75.7" r="1.35"/><circle cx="568.1" cy="52.2" r="1.35"/><circle cx="567.0" cy="77.7" r="1.35"/><circle cx="566.0" cy="84.9" r="1.35"/><circle cx="566.4" cy="79.4" r="1.35"/><circle cx="566.4" cy="55.1" r="1.35"/><circle cx="567.7" cy="66.1" r="1.35"/><circle cx="568.0" cy="57.2" r="1.35"/><circle cx="568.3" cy="71.1" r="1.35"/><circle cx="567.3" cy="64.5" r="1.35"/><circle cx="569.2" cy="87.3" r="1.35"/><circle cx="568.4" cy="79.9" r="1.35"/><circle cx="570.5" cy="82.2" r="1.35"/><circle cx="566.8" cy="54.4" r="1.35"/><circle cx="568.3" cy="71.8" r="1.35"/><circle cx="568.3" cy="99.7" r="1.35"/><circle cx="567.7" cy="69.7" r="1.35"/><circle cx="570.0" cy="76.6" r="1.35"/><circle cx="567.0" cy="87.6" r="1.35"/><circle cx="570.0" cy="94.4" r="1.35"/><circle cx="567.6" cy="90.7" r="1.35"/><circle cx="567.5" cy="73.7" r="1.35"/><circle cx="568.8" cy="58.9" r="1.35"/><circle cx="568.6" cy="67.4" r="1.35"/><circle cx="567.3" cy="83.1" r="1.35"/><circle cx="566.4" cy="53.0" r="1.35"/><circle cx="570.4" cy="76.8" r="1.35"/><circle cx="567.7" cy="96.5" r="1.35"/><circle cx="566.5" cy="58.4" r="1.35"/><circle cx="569.0" cy="85.1" r="1.35"/><circle cx="568.4" cy="63.9" r="1.35"/><circle cx="567.5" cy="64.3" r="1.35"/><circle cx="567.5" cy="80.8" r="1.35"/><circle cx="569.9" cy="83.8" r="1.35"/><circle cx="567.6" cy="73.6" r="1.35"/><circle cx="567.9" cy="81.2" r="1.35"/><circle cx="570.4" cy="84.5" r="1.35"/><circle cx="567.7" cy="99.2" r="1.35"/><circle cx="567.8" cy="62.1" r="1.35"/><circle cx="566.7" cy="61.6" r="1.35"/><circle cx="569.0" cy="98.8" r="1.35"/><circle cx="569.1" cy="86.4" r="1.35"/><circle cx="568.1" cy="65.6" r="1.35"/><circle cx="567.9" cy="83.5" r="1.35"/><circle cx="567.1" cy="97.5" r="1.35"/><circle cx="569.6" cy="70.0" r="1.35"/><circle cx="568.1" cy="80.0" r="1.35"/><circle cx="569.8" cy="87.3" r="1.35"/><circle cx="567.7" cy="66.4" r="1.35"/><circle cx="569.4" cy="59.9" r="1.35"/><circle cx="566.1" cy="86.3" r="1.35"/><circle cx="567.0" cy="74.9" r="1.35"/><circle cx="570.4" cy="77.8" r="1.35"/><circle cx="569.1" cy="64.5" r="1.35"/><circle cx="569.1" cy="83.7" r="1.35"/><circle cx="568.3" cy="88.5" r="1.35"/><circle cx="568.2" cy="75.9" r="1.35"/><circle cx="566.9" cy="75.9" r="1.35"/><circle cx="566.8" cy="62.4" r="1.35"/><circle cx="569.0" cy="66.6" r="1.35"/><circle cx="569.2" cy="57.3" r="1.35"/><circle cx="567.2" cy="76.1" r="1.35"/><circle cx="569.0" cy="77.6" r="1.35"/><circle cx="566.6" cy="66.2" r="1.35"/><circle cx="568.8" cy="57.9" r="1.35"/><circle cx="566.8" cy="72.5" r="1.35"/><circle cx="568.3" cy="84.0" r="1.35"/><circle cx="567.4" cy="93.8" r="1.35"/><circle cx="568.5" cy="76.9" r="1.35"/><circle cx="566.6" cy="93.5" r="1.35"/><circle cx="568.2" cy="64.0" r="1.35"/><circle cx="568.8" cy="69.4" r="1.35"/><circle cx="566.6" cy="87.1" r="1.35"/><circle cx="567.4" cy="77.8" r="1.35"/><circle cx="569.1" cy="63.3" r="1.35"/><circle cx="568.5" cy="60.0" r="1.35"/><circle cx="568.8" cy="67.9" r="1.35"/><circle cx="569.6" cy="74.5" r="1.35"/><circle cx="568.6" cy="77.8" r="1.35"/><circle cx="567.0" cy="86.8" r="1.35"/><circle cx="568.0" cy="63.5" r="1.35"/><circle cx="569.8" cy="81.7" r="1.35"/><circle cx="568.6" cy="80.7" r="1.35"/><circle cx="569.5" cy="71.0" r="1.35"/><circle cx="567.7" cy="85.3" r="1.35"/><circle cx="568.1" cy="74.1" r="1.35"/><circle cx="570.5" cy="81.5" r="1.35"/><circle cx="569.8" cy="66.8" r="1.35"/><circle cx="569.0" cy="63.4" r="1.35"/></g>
<g fill="#DA3328" fill-opacity="0.45"><circle cx="603.0" cy="57.0" r="1.35"/><circle cx="603.3" cy="118.0" r="1.35"/><circle cx="601.7" cy="98.6" r="1.35"/><circle cx="600.3" cy="91.4" r="1.35"/><circle cx="601.4" cy="113.0" r="1.35"/><circle cx="603.6" cy="76.5" r="1.35"/><circle cx="601.4" cy="77.8" r="1.35"/><circle cx="602.5" cy="98.2" r="1.35"/><circle cx="602.1" cy="114.8" r="1.35"/><circle cx="601.6" cy="78.6" r="1.35"/><circle cx="602.1" cy="81.5" r="1.35"/><circle cx="600.6" cy="98.2" r="1.35"/><circle cx="602.1" cy="68.6" r="1.35"/><circle cx="603.5" cy="96.4" r="1.35"/><circle cx="599.9" cy="74.1" r="1.35"/><circle cx="601.2" cy="94.1" r="1.35"/><circle cx="603.6" cy="79.6" r="1.35"/><circle cx="604.0" cy="85.8" r="1.35"/><circle cx="599.6" cy="78.3" r="1.35"/><circle cx="602.4" cy="88.2" r="1.35"/><circle cx="602.4" cy="106.5" r="1.35"/><circle cx="603.4" cy="93.9" r="1.35"/><circle cx="601.7" cy="90.3" r="1.35"/><circle cx="600.1" cy="89.9" r="1.35"/><circle cx="600.9" cy="77.8" r="1.35"/><circle cx="602.8" cy="97.2" r="1.35"/><circle cx="602.9" cy="61.6" r="1.35"/><circle cx="600.4" cy="94.8" r="1.35"/><circle cx="602.5" cy="73.4" r="1.35"/><circle cx="602.5" cy="93.8" r="1.35"/><circle cx="602.5" cy="83.2" r="1.35"/><circle cx="599.6" cy="90.5" r="1.35"/><circle cx="601.5" cy="104.0" r="1.35"/><circle cx="601.0" cy="70.8" r="1.35"/><circle cx="602.2" cy="100.8" r="1.35"/><circle cx="601.0" cy="105.7" r="1.35"/><circle cx="600.1" cy="89.7" r="1.35"/><circle cx="602.6" cy="69.6" r="1.35"/><circle cx="600.8" cy="85.5" r="1.35"/><circle cx="603.1" cy="97.3" r="1.35"/><circle cx="600.9" cy="77.7" r="1.35"/><circle cx="602.0" cy="80.8" r="1.35"/><circle cx="603.2" cy="82.4" r="1.35"/><circle cx="600.0" cy="112.0" r="1.35"/><circle cx="602.9" cy="71.0" r="1.35"/><circle cx="599.8" cy="90.4" r="1.35"/><circle cx="603.8" cy="91.9" r="1.35"/><circle cx="599.6" cy="66.3" r="1.35"/><circle cx="602.8" cy="99.2" r="1.35"/><circle cx="601.2" cy="77.5" r="1.35"/><circle cx="600.3" cy="82.0" r="1.35"/><circle cx="601.3" cy="82.7" r="1.35"/><circle cx="601.8" cy="95.0" r="1.35"/><circle cx="601.4" cy="69.1" r="1.35"/><circle cx="600.1" cy="86.5" r="1.35"/><circle cx="601.9" cy="99.4" r="1.35"/><circle cx="600.9" cy="78.8" r="1.35"/><circle cx="603.9" cy="62.2" r="1.35"/><circle cx="601.3" cy="95.2" r="1.35"/><circle cx="601.5" cy="106.8" r="1.35"/><circle cx="600.5" cy="118.0" r="1.35"/><circle cx="604.0" cy="59.2" r="1.35"/><circle cx="601.0" cy="86.1" r="1.35"/><circle cx="602.5" cy="85.0" r="1.35"/><circle cx="603.3" cy="69.4" r="1.35"/><circle cx="601.3" cy="78.9" r="1.35"/><circle cx="603.0" cy="64.1" r="1.35"/><circle cx="600.8" cy="85.3" r="1.35"/><circle cx="600.0" cy="74.0" r="1.35"/><circle cx="599.7" cy="77.5" r="1.35"/><circle cx="601.6" cy="109.3" r="1.35"/><circle cx="603.5" cy="63.1" r="1.35"/><circle cx="600.4" cy="84.1" r="1.35"/><circle cx="601.5" cy="70.0" r="1.35"/><circle cx="603.0" cy="75.5" r="1.35"/><circle cx="600.8" cy="80.9" r="1.35"/><circle cx="600.2" cy="82.5" r="1.35"/><circle cx="601.9" cy="86.5" r="1.35"/><circle cx="601.5" cy="67.8" r="1.35"/><circle cx="603.8" cy="94.0" r="1.35"/><circle cx="603.6" cy="60.4" r="1.35"/><circle cx="600.6" cy="60.0" r="1.35"/><circle cx="602.1" cy="65.7" r="1.35"/><circle cx="601.4" cy="105.8" r="1.35"/><circle cx="599.7" cy="106.0" r="1.35"/><circle cx="601.5" cy="71.8" r="1.35"/><circle cx="603.7" cy="88.7" r="1.35"/><circle cx="600.9" cy="90.3" r="1.35"/><circle cx="602.2" cy="62.8" r="1.35"/><circle cx="602.8" cy="59.7" r="1.35"/><circle cx="599.8" cy="85.4" r="1.35"/><circle cx="603.8" cy="90.3" r="1.35"/><circle cx="600.0" cy="62.2" r="1.35"/><circle cx="600.9" cy="94.2" r="1.35"/><circle cx="602.8" cy="90.2" r="1.35"/><circle cx="599.6" cy="93.1" r="1.35"/><circle cx="601.2" cy="94.9" r="1.35"/><circle cx="600.1" cy="67.6" r="1.35"/><circle cx="601.7" cy="89.4" r="1.35"/><circle cx="599.6" cy="92.0" r="1.35"/><circle cx="600.2" cy="70.8" r="1.35"/><circle cx="600.5" cy="76.1" r="1.35"/><circle cx="599.9" cy="58.1" r="1.35"/><circle cx="599.9" cy="85.8" r="1.35"/><circle cx="600.4" cy="60.6" r="1.35"/><circle cx="601.9" cy="90.5" r="1.35"/><circle cx="600.1" cy="83.9" r="1.35"/><circle cx="603.3" cy="78.9" r="1.35"/><circle cx="601.4" cy="93.8" r="1.35"/><circle cx="600.7" cy="76.5" r="1.35"/><circle cx="600.6" cy="114.4" r="1.35"/><circle cx="603.4" cy="89.9" r="1.35"/><circle cx="599.7" cy="60.1" r="1.35"/><circle cx="602.9" cy="71.7" r="1.35"/><circle cx="599.9" cy="88.9" r="1.35"/><circle cx="603.8" cy="115.3" r="1.35"/><circle cx="601.4" cy="71.1" r="1.35"/><circle cx="602.2" cy="111.5" r="1.35"/><circle cx="603.5" cy="85.5" r="1.35"/><circle cx="600.0" cy="107.2" r="1.35"/><circle cx="599.8" cy="70.8" r="1.35"/><circle cx="602.7" cy="66.9" r="1.35"/><circle cx="602.2" cy="74.9" r="1.35"/><circle cx="602.8" cy="82.9" r="1.35"/><circle cx="600.8" cy="63.4" r="1.35"/><circle cx="601.8" cy="58.6" r="1.35"/><circle cx="600.4" cy="96.1" r="1.35"/><circle cx="601.5" cy="102.3" r="1.35"/><circle cx="600.8" cy="81.0" r="1.35"/><circle cx="602.2" cy="73.0" r="1.35"/><circle cx="600.9" cy="102.9" r="1.35"/><circle cx="600.8" cy="96.0" r="1.35"/><circle cx="602.5" cy="86.6" r="1.35"/><circle cx="599.9" cy="94.9" r="1.35"/><circle cx="603.2" cy="89.5" r="1.35"/><circle cx="601.8" cy="101.4" r="1.35"/><circle cx="600.6" cy="93.7" r="1.35"/><circle cx="600.0" cy="82.0" r="1.35"/><circle cx="601.8" cy="98.5" r="1.35"/><circle cx="601.8" cy="63.8" r="1.35"/><circle cx="602.8" cy="86.5" r="1.35"/><circle cx="601.2" cy="89.5" r="1.35"/><circle cx="601.4" cy="92.5" r="1.35"/><circle cx="603.6" cy="91.1" r="1.35"/><circle cx="600.8" cy="99.4" r="1.35"/><circle cx="604.0" cy="82.9" r="1.35"/><circle cx="603.6" cy="105.4" r="1.35"/><circle cx="604.1" cy="100.9" r="1.35"/><circle cx="603.8" cy="94.2" r="1.35"/><circle cx="600.7" cy="83.4" r="1.35"/><circle cx="603.2" cy="87.2" r="1.35"/><circle cx="602.3" cy="82.9" r="1.35"/><circle cx="600.4" cy="61.9" r="1.35"/><circle cx="604.1" cy="99.7" r="1.35"/><circle cx="602.5" cy="73.8" r="1.35"/><circle cx="603.2" cy="79.1" r="1.35"/><circle cx="602.1" cy="89.0" r="1.35"/><circle cx="599.9" cy="104.1" r="1.35"/><circle cx="603.5" cy="74.5" r="1.35"/><circle cx="600.3" cy="62.5" r="1.35"/></g>
<g fill="#4677BD" fill-opacity="0.45"><circle cx="615.2" cy="54.0" r="1.35"/><circle cx="618.1" cy="118.7" r="1.35"/><circle cx="618.3" cy="108.9" r="1.35"/><circle cx="615.7" cy="89.5" r="1.35"/><circle cx="617.3" cy="102.4" r="1.35"/><circle cx="616.6" cy="80.0" r="1.35"/><circle cx="614.5" cy="73.5" r="1.35"/><circle cx="618.2" cy="77.1" r="1.35"/><circle cx="614.5" cy="74.2" r="1.35"/><circle cx="614.0" cy="54.1" r="1.35"/><circle cx="615.8" cy="86.3" r="1.35"/><circle cx="613.8" cy="79.8" r="1.35"/><circle cx="615.9" cy="76.7" r="1.35"/><circle cx="615.6" cy="99.9" r="1.35"/><circle cx="618.1" cy="66.1" r="1.35"/><circle cx="615.6" cy="95.0" r="1.35"/><circle cx="617.6" cy="60.8" r="1.35"/><circle cx="617.3" cy="103.3" r="1.35"/><circle cx="616.4" cy="80.3" r="1.35"/><circle cx="614.8" cy="61.3" r="1.35"/><circle cx="615.1" cy="96.6" r="1.35"/><circle cx="616.0" cy="69.5" r="1.35"/><circle cx="615.5" cy="80.8" r="1.35"/><circle cx="616.7" cy="66.2" r="1.35"/><circle cx="616.0" cy="92.5" r="1.35"/><circle cx="615.2" cy="90.0" r="1.35"/><circle cx="616.5" cy="83.9" r="1.35"/><circle cx="618.3" cy="114.1" r="1.35"/><circle cx="614.6" cy="71.9" r="1.35"/><circle cx="615.2" cy="102.1" r="1.35"/><circle cx="613.8" cy="78.2" r="1.35"/><circle cx="614.1" cy="116.1" r="1.35"/><circle cx="614.0" cy="65.3" r="1.35"/><circle cx="615.6" cy="84.6" r="1.35"/><circle cx="617.5" cy="58.3" r="1.35"/><circle cx="616.9" cy="107.7" r="1.35"/><circle cx="618.1" cy="102.7" r="1.35"/><circle cx="617.5" cy="76.2" r="1.35"/><circle cx="616.4" cy="71.6" r="1.35"/><circle cx="616.4" cy="96.1" r="1.35"/><circle cx="613.8" cy="103.0" r="1.35"/><circle cx="615.5" cy="86.2" r="1.35"/><circle cx="614.9" cy="99.2" r="1.35"/><circle cx="616.6" cy="91.0" r="1.35"/><circle cx="614.0" cy="88.8" r="1.35"/><circle cx="616.2" cy="79.1" r="1.35"/><circle cx="615.4" cy="68.4" r="1.35"/><circle cx="616.0" cy="92.1" r="1.35"/><circle cx="615.6" cy="67.8" r="1.35"/><circle cx="614.2" cy="91.6" r="1.35"/><circle cx="617.1" cy="68.5" r="1.35"/><circle cx="617.4" cy="79.9" r="1.35"/><circle cx="616.5" cy="101.4" r="1.35"/><circle cx="614.2" cy="102.8" r="1.35"/><circle cx="616.5" cy="83.6" r="1.35"/><circle cx="617.7" cy="79.7" r="1.35"/><circle cx="618.2" cy="84.1" r="1.35"/><circle cx="617.2" cy="94.2" r="1.35"/><circle cx="613.9" cy="67.5" r="1.35"/><circle cx="617.7" cy="82.1" r="1.35"/><circle cx="616.8" cy="84.0" r="1.35"/><circle cx="615.0" cy="96.8" r="1.35"/><circle cx="617.9" cy="90.8" r="1.35"/><circle cx="617.5" cy="83.4" r="1.35"/><circle cx="617.8" cy="75.6" r="1.35"/><circle cx="614.8" cy="57.1" r="1.35"/><circle cx="616.4" cy="67.3" r="1.35"/><circle cx="615.4" cy="81.6" r="1.35"/><circle cx="615.1" cy="70.2" r="1.35"/><circle cx="617.2" cy="89.6" r="1.35"/><circle cx="616.5" cy="75.4" r="1.35"/><circle cx="615.2" cy="84.3" r="1.35"/><circle cx="616.2" cy="78.7" r="1.35"/><circle cx="618.0" cy="73.4" r="1.35"/><circle cx="616.3" cy="73.7" r="1.35"/><circle cx="617.9" cy="58.8" r="1.35"/><circle cx="616.3" cy="86.3" r="1.35"/><circle cx="618.3" cy="71.6" r="1.35"/><circle cx="613.8" cy="67.1" r="1.35"/><circle cx="615.8" cy="78.2" r="1.35"/><circle cx="616.2" cy="71.8" r="1.35"/><circle cx="617.0" cy="89.5" r="1.35"/><circle cx="618.2" cy="75.4" r="1.35"/><circle cx="616.6" cy="57.4" r="1.35"/><circle cx="615.9" cy="87.0" r="1.35"/><circle cx="616.6" cy="55.0" r="1.35"/><circle cx="616.2" cy="56.3" r="1.35"/><circle cx="616.9" cy="91.6" r="1.35"/><circle cx="618.1" cy="58.7" r="1.35"/><circle cx="613.8" cy="61.4" r="1.35"/><circle cx="615.2" cy="75.8" r="1.35"/><circle cx="617.7" cy="88.6" r="1.35"/><circle cx="614.0" cy="66.7" r="1.35"/><circle cx="617.3" cy="108.4" r="1.35"/><circle cx="613.8" cy="107.5" r="1.35"/><circle cx="616.7" cy="70.2" r="1.35"/><circle cx="617.4" cy="58.0" r="1.35"/><circle cx="614.8" cy="85.7" r="1.35"/><circle cx="615.5" cy="61.1" r="1.35"/><circle cx="614.7" cy="89.8" r="1.35"/><circle cx="616.9" cy="78.1" r="1.35"/><circle cx="616.1" cy="90.6" r="1.35"/><circle cx="616.5" cy="56.1" r="1.35"/><circle cx="615.2" cy="57.8" r="1.35"/><circle cx="616.4" cy="82.3" r="1.35"/><circle cx="618.1" cy="111.6" r="1.35"/><circle cx="617.3" cy="90.0" r="1.35"/><circle cx="618.1" cy="75.6" r="1.35"/><circle cx="614.8" cy="97.0" r="1.35"/><circle cx="616.1" cy="99.1" r="1.35"/></g>
<g fill="#DA3328" fill-opacity="0.45"><circle cx="648.5" cy="55.0" r="1.35"/><circle cx="650.6" cy="117.4" r="1.35"/><circle cx="649.6" cy="85.1" r="1.35"/><circle cx="649.9" cy="73.2" r="1.35"/><circle cx="648.7" cy="57.9" r="1.35"/><circle cx="649.5" cy="72.7" r="1.35"/><circle cx="647.8" cy="84.7" r="1.35"/><circle cx="651.4" cy="80.9" r="1.35"/><circle cx="650.0" cy="79.7" r="1.35"/><circle cx="649.3" cy="99.3" r="1.35"/><circle cx="649.8" cy="90.2" r="1.35"/><circle cx="647.4" cy="78.5" r="1.35"/><circle cx="648.4" cy="90.2" r="1.35"/><circle cx="648.0" cy="69.3" r="1.35"/><circle cx="650.8" cy="71.8" r="1.35"/><circle cx="647.0" cy="94.3" r="1.35"/><circle cx="648.9" cy="87.3" r="1.35"/><circle cx="650.9" cy="86.5" r="1.35"/><circle cx="650.5" cy="88.7" r="1.35"/><circle cx="650.2" cy="74.3" r="1.35"/><circle cx="648.3" cy="104.0" r="1.35"/><circle cx="648.0" cy="75.3" r="1.35"/><circle cx="650.1" cy="78.3" r="1.35"/><circle cx="648.3" cy="87.7" r="1.35"/><circle cx="650.2" cy="65.1" r="1.35"/><circle cx="648.5" cy="99.3" r="1.35"/><circle cx="650.4" cy="103.8" r="1.35"/><circle cx="649.5" cy="86.5" r="1.35"/><circle cx="650.7" cy="72.5" r="1.35"/><circle cx="651.4" cy="107.4" r="1.35"/><circle cx="648.6" cy="71.9" r="1.35"/><circle cx="651.4" cy="82.1" r="1.35"/><circle cx="646.9" cy="82.7" r="1.35"/><circle cx="650.9" cy="100.9" r="1.35"/><circle cx="647.0" cy="61.2" r="1.35"/><circle cx="649.4" cy="102.9" r="1.35"/><circle cx="648.7" cy="96.7" r="1.35"/><circle cx="650.4" cy="85.1" r="1.35"/><circle cx="648.3" cy="61.0" r="1.35"/><circle cx="647.9" cy="103.5" r="1.35"/><circle cx="650.5" cy="68.7" r="1.35"/><circle cx="649.4" cy="107.1" r="1.35"/><circle cx="650.4" cy="93.4" r="1.35"/><circle cx="649.2" cy="75.8" r="1.35"/><circle cx="647.1" cy="72.8" r="1.35"/><circle cx="650.4" cy="61.2" r="1.35"/><circle cx="647.9" cy="93.3" r="1.35"/><circle cx="649.1" cy="66.2" r="1.35"/><circle cx="646.9" cy="80.2" r="1.35"/><circle cx="648.1" cy="93.3" r="1.35"/><circle cx="650.0" cy="74.2" r="1.35"/><circle cx="650.4" cy="79.9" r="1.35"/><circle cx="649.8" cy="102.0" r="1.35"/><circle cx="648.9" cy="57.7" r="1.35"/><circle cx="650.3" cy="83.1" r="1.35"/><circle cx="650.0" cy="105.2" r="1.35"/><circle cx="647.8" cy="78.5" r="1.35"/><circle cx="649.4" cy="75.2" r="1.35"/><circle cx="649.7" cy="86.5" r="1.35"/><circle cx="650.3" cy="56.8" r="1.35"/><circle cx="647.8" cy="79.6" r="1.35"/><circle cx="648.3" cy="88.4" r="1.35"/><circle cx="648.5" cy="76.9" r="1.35"/><circle cx="647.3" cy="107.3" r="1.35"/><circle cx="648.5" cy="55.0" r="1.35"/><circle cx="650.3" cy="87.7" r="1.35"/><circle cx="649.6" cy="85.8" r="1.35"/><circle cx="647.7" cy="88.0" r="1.35"/><circle cx="650.3" cy="64.0" r="1.35"/><circle cx="647.4" cy="107.1" r="1.35"/><circle cx="650.4" cy="85.1" r="1.35"/><circle cx="647.6" cy="87.0" r="1.35"/><circle cx="647.3" cy="82.1" r="1.35"/><circle cx="648.1" cy="75.4" r="1.35"/><circle cx="649.3" cy="78.9" r="1.35"/><circle cx="648.1" cy="76.6" r="1.35"/><circle cx="651.0" cy="82.4" r="1.35"/><circle cx="651.2" cy="104.1" r="1.35"/><circle cx="648.2" cy="92.8" r="1.35"/><circle cx="650.3" cy="71.0" r="1.35"/><circle cx="650.1" cy="78.4" r="1.35"/><circle cx="649.5" cy="83.2" r="1.35"/><circle cx="648.1" cy="76.0" r="1.35"/><circle cx="651.3" cy="91.4" r="1.35"/><circle cx="651.3" cy="87.7" r="1.35"/><circle cx="647.0" cy="59.0" r="1.35"/><circle cx="648.4" cy="86.0" r="1.35"/><circle cx="648.4" cy="64.0" r="1.35"/><circle cx="647.8" cy="79.6" r="1.35"/><circle cx="648.9" cy="74.6" r="1.35"/><circle cx="651.0" cy="72.6" r="1.35"/><circle cx="647.0" cy="90.3" r="1.35"/><circle cx="650.7" cy="77.1" r="1.35"/><circle cx="648.3" cy="106.1" r="1.35"/><circle cx="647.0" cy="85.0" r="1.35"/><circle cx="651.0" cy="95.0" r="1.35"/><circle cx="648.2" cy="75.9" r="1.35"/><circle cx="647.9" cy="111.3" r="1.35"/><circle cx="647.4" cy="70.9" r="1.35"/><circle cx="648.6" cy="68.9" r="1.35"/><circle cx="647.4" cy="57.3" r="1.35"/><circle cx="647.7" cy="105.2" r="1.35"/><circle cx="648.1" cy="97.2" r="1.35"/><circle cx="649.6" cy="75.9" r="1.35"/><circle cx="649.0" cy="69.8" r="1.35"/><circle cx="648.3" cy="81.5" r="1.35"/><circle cx="649.3" cy="93.6" r="1.35"/><circle cx="650.5" cy="96.1" r="1.35"/><circle cx="650.2" cy="92.7" r="1.35"/><circle cx="648.5" cy="83.0" r="1.35"/><circle cx="651.1" cy="73.3" r="1.35"/><circle cx="650.5" cy="100.9" r="1.35"/><circle cx="649.5" cy="67.4" r="1.35"/><circle cx="649.1" cy="83.7" r="1.35"/><circle cx="648.4" cy="98.9" r="1.35"/><circle cx="647.5" cy="55.2" r="1.35"/><circle cx="651.0" cy="76.5" r="1.35"/><circle cx="649.7" cy="87.4" r="1.35"/><circle cx="647.4" cy="65.9" r="1.35"/><circle cx="651.2" cy="63.4" r="1.35"/><circle cx="651.0" cy="101.5" r="1.35"/><circle cx="647.1" cy="71.8" r="1.35"/><circle cx="650.1" cy="75.6" r="1.35"/><circle cx="648.0" cy="98.9" r="1.35"/><circle cx="649.4" cy="78.2" r="1.35"/><circle cx="650.7" cy="97.8" r="1.35"/><circle cx="648.5" cy="88.6" r="1.35"/><circle cx="649.2" cy="110.4" r="1.35"/><circle cx="650.0" cy="62.9" r="1.35"/><circle cx="647.8" cy="87.3" r="1.35"/><circle cx="649.8" cy="103.7" r="1.35"/><circle cx="648.9" cy="107.9" r="1.35"/><circle cx="651.4" cy="62.6" r="1.35"/><circle cx="647.8" cy="58.5" r="1.35"/><circle cx="650.2" cy="105.8" r="1.35"/><circle cx="647.1" cy="110.7" r="1.35"/><circle cx="648.2" cy="86.6" r="1.35"/><circle cx="647.4" cy="88.1" r="1.35"/><circle cx="647.6" cy="68.8" r="1.35"/><circle cx="649.3" cy="86.9" r="1.35"/><circle cx="647.7" cy="72.8" r="1.35"/><circle cx="650.6" cy="82.3" r="1.35"/><circle cx="647.3" cy="65.1" r="1.35"/><circle cx="649.8" cy="73.6" r="1.35"/><circle cx="650.9" cy="87.3" r="1.35"/><circle cx="647.5" cy="89.5" r="1.35"/><circle cx="647.9" cy="58.9" r="1.35"/><circle cx="650.4" cy="117.1" r="1.35"/><circle cx="649.1" cy="104.0" r="1.35"/><circle cx="651.2" cy="84.6" r="1.35"/><circle cx="648.5" cy="96.3" r="1.35"/><circle cx="648.7" cy="65.1" r="1.35"/><circle cx="651.3" cy="92.0" r="1.35"/><circle cx="648.5" cy="109.9" r="1.35"/><circle cx="651.3" cy="59.0" r="1.35"/><circle cx="651.0" cy="72.4" r="1.35"/><circle cx="647.8" cy="71.4" r="1.35"/><circle cx="649.4" cy="86.4" r="1.35"/><circle cx="651.2" cy="85.5" r="1.35"/><circle cx="647.4" cy="62.3" r="1.35"/><circle cx="650.8" cy="79.7" r="1.35"/><circle cx="650.5" cy="95.9" r="1.35"/><circle cx="650.3" cy="70.1" r="1.35"/><circle cx="649.7" cy="89.2" r="1.35"/><circle cx="647.4" cy="74.0" r="1.35"/><circle cx="651.3" cy="86.5" r="1.35"/><circle cx="647.4" cy="100.6" r="1.35"/><circle cx="650.5" cy="74.5" r="1.35"/><circle cx="650.2" cy="66.8" r="1.35"/><circle cx="648.4" cy="77.8" r="1.35"/><circle cx="650.0" cy="82.0" r="1.35"/><circle cx="648.8" cy="95.1" r="1.35"/><circle cx="650.4" cy="65.7" r="1.35"/><circle cx="647.1" cy="82.7" r="1.35"/><circle cx="651.2" cy="101.1" r="1.35"/><circle cx="648.7" cy="79.5" r="1.35"/><circle cx="650.6" cy="83.3" r="1.35"/><circle cx="649.1" cy="86.8" r="1.35"/><circle cx="650.6" cy="89.5" r="1.35"/><circle cx="648.3" cy="93.6" r="1.35"/><circle cx="649.4" cy="88.4" r="1.35"/><circle cx="647.0" cy="84.2" r="1.35"/><circle cx="649.2" cy="108.0" r="1.35"/><circle cx="647.3" cy="64.6" r="1.35"/><circle cx="650.9" cy="88.7" r="1.35"/><circle cx="650.0" cy="77.7" r="1.35"/><circle cx="648.9" cy="81.1" r="1.35"/><circle cx="651.4" cy="102.4" r="1.35"/><circle cx="651.3" cy="91.0" r="1.35"/><circle cx="651.3" cy="76.5" r="1.35"/><circle cx="647.3" cy="68.4" r="1.35"/><circle cx="650.1" cy="106.3" r="1.35"/><circle cx="650.2" cy="68.5" r="1.35"/><circle cx="649.7" cy="80.2" r="1.35"/><circle cx="647.0" cy="87.3" r="1.35"/><circle cx="651.1" cy="61.4" r="1.35"/><circle cx="648.9" cy="74.8" r="1.35"/><circle cx="649.6" cy="82.7" r="1.35"/><circle cx="650.6" cy="86.4" r="1.35"/><circle cx="648.2" cy="78.1" r="1.35"/><circle cx="647.0" cy="82.3" r="1.35"/><circle cx="651.1" cy="80.3" r="1.35"/><circle cx="648.1" cy="61.0" r="1.35"/><circle cx="647.1" cy="79.0" r="1.35"/><circle cx="647.5" cy="98.0" r="1.35"/><circle cx="651.5" cy="83.0" r="1.35"/><circle cx="650.3" cy="91.6" r="1.35"/><circle cx="647.9" cy="93.5" r="1.35"/><circle cx="647.6" cy="107.1" r="1.35"/><circle cx="651.0" cy="59.2" r="1.35"/></g>
<g fill="#4677BD" fill-opacity="0.45"><circle cx="665.5" cy="55.5" r="1.35"/><circle cx="664.0" cy="116.0" r="1.35"/><circle cx="661.7" cy="59.8" r="1.35"/><circle cx="663.9" cy="90.9" r="1.35"/><circle cx="663.1" cy="91.8" r="1.35"/><circle cx="662.3" cy="80.3" r="1.35"/><circle cx="665.5" cy="78.5" r="1.35"/><circle cx="664.6" cy="73.9" r="1.35"/><circle cx="661.8" cy="81.8" r="1.35"/><circle cx="662.3" cy="86.9" r="1.35"/><circle cx="662.8" cy="78.9" r="1.35"/><circle cx="663.8" cy="110.1" r="1.35"/><circle cx="662.7" cy="69.7" r="1.35"/><circle cx="663.2" cy="78.4" r="1.35"/><circle cx="664.9" cy="74.1" r="1.35"/><circle cx="662.0" cy="72.4" r="1.35"/><circle cx="664.5" cy="60.5" r="1.35"/><circle cx="662.7" cy="69.5" r="1.35"/><circle cx="665.5" cy="79.5" r="1.35"/><circle cx="665.6" cy="76.7" r="1.35"/><circle cx="662.7" cy="102.4" r="1.35"/><circle cx="664.0" cy="104.4" r="1.35"/><circle cx="661.7" cy="67.4" r="1.35"/><circle cx="663.1" cy="85.4" r="1.35"/><circle cx="664.1" cy="80.3" r="1.35"/><circle cx="664.1" cy="97.7" r="1.35"/><circle cx="662.8" cy="65.8" r="1.35"/><circle cx="661.4" cy="61.4" r="1.35"/><circle cx="661.8" cy="94.6" r="1.35"/><circle cx="663.8" cy="66.1" r="1.35"/><circle cx="662.0" cy="75.0" r="1.35"/><circle cx="662.6" cy="79.7" r="1.35"/><circle cx="664.0" cy="82.0" r="1.35"/><circle cx="665.3" cy="72.1" r="1.35"/><circle cx="663.6" cy="91.9" r="1.35"/><circle cx="662.4" cy="91.5" r="1.35"/><circle cx="663.9" cy="91.4" r="1.35"/><circle cx="662.5" cy="87.2" r="1.35"/><circle cx="664.8" cy="82.4" r="1.35"/><circle cx="661.9" cy="70.1" r="1.35"/><circle cx="662.4" cy="79.8" r="1.35"/><circle cx="663.2" cy="64.7" r="1.35"/><circle cx="665.4" cy="77.5" r="1.35"/><circle cx="662.0" cy="67.6" r="1.35"/><circle cx="662.1" cy="57.6" r="1.35"/><circle cx="661.8" cy="71.3" r="1.35"/><circle cx="662.2" cy="80.6" r="1.35"/><circle cx="662.7" cy="68.9" r="1.35"/><circle cx="663.0" cy="61.4" r="1.35"/><circle cx="664.7" cy="105.2" r="1.35"/><circle cx="663.1" cy="94.7" r="1.35"/><circle cx="663.4" cy="87.5" r="1.35"/><circle cx="663.0" cy="86.9" r="1.35"/><circle cx="664.8" cy="100.2" r="1.35"/><circle cx="665.4" cy="95.8" r="1.35"/><circle cx="663.2" cy="78.3" r="1.35"/><circle cx="665.4" cy="82.8" r="1.35"/><circle cx="662.4" cy="59.0" r="1.35"/><circle cx="665.7" cy="64.5" r="1.35"/><circle cx="663.6" cy="64.3" r="1.35"/><circle cx="664.3" cy="59.2" r="1.35"/><circle cx="663.0" cy="62.3" r="1.35"/><circle cx="662.4" cy="68.6" r="1.35"/><circle cx="661.8" cy="79.9" r="1.35"/><circle cx="665.3" cy="57.0" r="1.35"/><circle cx="662.9" cy="91.3" r="1.35"/><circle cx="664.4" cy="91.9" r="1.35"/><circle cx="663.3" cy="63.2" r="1.35"/><circle cx="663.6" cy="87.5" r="1.35"/><circle cx="662.2" cy="64.1" r="1.35"/><circle cx="662.0" cy="73.0" r="1.35"/><circle cx="662.7" cy="65.2" r="1.35"/><circle cx="664.3" cy="90.3" r="1.35"/><circle cx="663.7" cy="111.6" r="1.35"/><circle cx="661.2" cy="81.6" r="1.35"/><circle cx="664.5" cy="80.7" r="1.35"/><circle cx="663.2" cy="76.0" r="1.35"/><circle cx="661.5" cy="62.3" r="1.35"/><circle cx="662.4" cy="57.5" r="1.35"/><circle cx="662.2" cy="86.1" r="1.35"/><circle cx="665.0" cy="70.6" r="1.35"/><circle cx="663.7" cy="88.3" r="1.35"/><circle cx="662.7" cy="113.2" r="1.35"/><circle cx="662.3" cy="82.3" r="1.35"/><circle cx="662.5" cy="91.9" r="1.35"/><circle cx="662.5" cy="73.8" r="1.35"/><circle cx="662.8" cy="64.4" r="1.35"/><circle cx="664.8" cy="82.2" r="1.35"/><circle cx="664.8" cy="112.3" r="1.35"/><circle cx="664.4" cy="91.8" r="1.35"/><circle cx="665.3" cy="85.5" r="1.35"/><circle cx="664.2" cy="68.3" r="1.35"/><circle cx="661.7" cy="78.2" r="1.35"/><circle cx="661.4" cy="105.1" r="1.35"/><circle cx="662.0" cy="84.5" r="1.35"/><circle cx="662.4" cy="60.8" r="1.35"/><circle cx="663.6" cy="69.6" r="1.35"/><circle cx="665.0" cy="87.0" r="1.35"/><circle cx="663.9" cy="89.1" r="1.35"/><circle cx="663.2" cy="84.2" r="1.35"/><circle cx="662.3" cy="72.5" r="1.35"/><circle cx="665.7" cy="74.9" r="1.35"/><circle cx="664.7" cy="60.7" r="1.35"/><circle cx="662.8" cy="82.7" r="1.35"/><circle cx="661.4" cy="83.7" r="1.35"/><circle cx="665.7" cy="78.3" r="1.35"/><circle cx="662.4" cy="72.7" r="1.35"/><circle cx="665.1" cy="88.1" r="1.35"/><circle cx="661.7" cy="55.7" r="1.35"/><circle cx="664.2" cy="84.9" r="1.35"/></g>
<circle cx="601.5" cy="122.7" r="1.35" fill="#DA3328" fill-opacity="0.45"/>
<circle cx="568.6" cy="45.6" r="1.35" fill="#4677BD" fill-opacity="0.45"/>
<circle cx="648.5" cy="50.2" r="1.35" fill="#DA3328" fill-opacity="0.45"/>
<line x1="601.80" y1="50.10" x2="601.80" y2="70.00" stroke="#DA3328" stroke-width="0.9" stroke-opacity="0.9"/>
<line x1="601.80" y1="90.40" x2="601.80" y2="117.40" stroke="#DA3328" stroke-width="0.9" stroke-opacity="0.9"/>
<rect x="580.20" y="70.00" width="43.40" height="20.40" fill="#DA3328" fill-opacity="0.28" stroke="#DA3328" stroke-opacity="0.75" stroke-width="0.8"/>
<line x1="616.00" y1="45.30" x2="616.00" y2="70.00" stroke="#4677BD" stroke-width="0.9" stroke-opacity="0.9"/>
<line x1="616.00" y1="87.70" x2="616.00" y2="115.80" stroke="#4677BD" stroke-width="0.9" stroke-opacity="0.9"/>
<rect x="594.30" y="70.00" width="43.30" height="17.70" fill="#4677BD" fill-opacity="0.28" stroke="#4677BD" stroke-opacity="0.75" stroke-width="0.8"/>
<polyline points="554.0,81.6 601.8,79.9 649.2,82.7" fill="none" stroke="#DA3328" stroke-width="1.5"/>
<polyline points="568.3,77.9 616.0,79.9 663.5,79.3" fill="none" stroke="#4677BD" stroke-width="1.5"/>
<circle cx="568.3" cy="77.9" r="1.9" fill="#4677BD"/>
<circle cx="616.0" cy="79.9" r="1.9" fill="#4677BD"/>
<circle cx="663.5" cy="79.3" r="1.9" fill="#4677BD"/>
<circle cx="554.0" cy="81.6" r="1.9" fill="#DA3328"/>
<circle cx="601.8" cy="79.9" r="1.9" fill="#DA3328"/>
<circle cx="649.2" cy="82.7" r="1.9" fill="#DA3328"/>
<line x1="532.70" y1="21.40" x2="532.70" y2="133.80" stroke="#5c5c5c" stroke-width="1.0" stroke-opacity="1"/>
<line x1="532.20" y1="133.30" x2="685.00" y2="133.30" stroke="#5c5c5c" stroke-width="1.0" stroke-opacity="1"/>
<line x1="532.70" y1="27.30" x2="534.90" y2="27.30" stroke="#5c5c5c" stroke-width="0.8" stroke-opacity="1"/>
<text x="531.10" y="29.46" font-size="6.0" font-weight="normal" text-anchor="end" fill="#404040" stroke="#404040" stroke-width="0.2">200</text>
<line x1="532.70" y1="56.50" x2="534.90" y2="56.50" stroke="#5c5c5c" stroke-width="0.8" stroke-opacity="1"/>
<text x="531.10" y="58.66" font-size="6.0" font-weight="normal" text-anchor="end" fill="#404040" stroke="#404040" stroke-width="0.2">150</text>
<line x1="532.70" y1="85.80" x2="534.90" y2="85.80" stroke="#5c5c5c" stroke-width="0.8" stroke-opacity="1"/>
<text x="531.10" y="87.96" font-size="6.0" font-weight="normal" text-anchor="end" fill="#404040" stroke="#404040" stroke-width="0.2">100</text>
<line x1="532.70" y1="115.00" x2="534.90" y2="115.00" stroke="#5c5c5c" stroke-width="0.8" stroke-opacity="1"/>
<text x="531.10" y="117.16" font-size="6.0" font-weight="normal" text-anchor="end" fill="#404040" stroke="#404040" stroke-width="0.2">50</text>
<line x1="561.10" y1="133.30" x2="561.10" y2="130.70" stroke="#5c5c5c" stroke-width="1.0" stroke-opacity="1"/>
<text x="561.10" y="138.96" font-size="6.2" font-weight="normal" text-anchor="middle" fill="#404040" stroke="#404040" stroke-width="0.2">D1</text>
<line x1="609.10" y1="133.30" x2="609.10" y2="130.70" stroke="#5c5c5c" stroke-width="1.0" stroke-opacity="1"/>
<text x="609.10" y="138.96" font-size="6.2" font-weight="normal" text-anchor="middle" fill="#404040" stroke="#404040" stroke-width="0.2">D15</text>
<line x1="656.70" y1="133.30" x2="656.70" y2="130.70" stroke="#5c5c5c" stroke-width="1.0" stroke-opacity="1"/>
<text x="656.70" y="138.96" font-size="6.2" font-weight="normal" text-anchor="middle" fill="#404040" stroke="#404040" stroke-width="0.2">D85</text>
<text x="608.85" y="147.30" font-size="6.7" font-weight="bold" text-anchor="middle" fill="#000" stroke="#000" stroke-width="0.12">Timepoint</text>
<text x="561.50" y="40.20" font-size="6.75" font-weight="bold" text-anchor="middle" fill="#000" stroke="#000" stroke-width="0.12">FDR p = 0.184</text>
<text x="609.00" y="35.10" font-size="6.75" font-weight="bold" text-anchor="middle" fill="#000" stroke="#000" stroke-width="0.12">FDR p = 0.830</text>
<text x="656.50" y="30.50" font-size="6.75" font-weight="bold" text-anchor="middle" fill="#000" stroke="#000" stroke-width="0.12">FDR p = 0.191</text>
<text x="6.20" y="88.10" font-size="6.9" font-weight="bold" text-anchor="middle" fill="#000" stroke="#000" stroke-width="0.12" transform="rotate(-90 6.2 88.1)">Species Richness</text>
<rect x="584.80" y="160.00" width="7.00" height="5.00" fill="#DA3328" fill-opacity="0.6" stroke="#DA3328" stroke-opacity="0.95" stroke-width="0.7"/>
<line x1="588.30" y1="158.80" x2="588.30" y2="166.20" stroke="#DA3328" stroke-width="0.8" stroke-opacity="0.95"/>
<line x1="584.80" y1="162.50" x2="591.80" y2="162.50" stroke="#DA3328" stroke-width="0.7" stroke-opacity="0.6"/>
<circle cx="588.30" cy="162.5" r="1.1" fill="#DA3328" fill-opacity="0.8"/>
<rect x="604.50" y="160.00" width="7.00" height="5.00" fill="#4677BD" fill-opacity="0.6" stroke="#4677BD" stroke-opacity="0.95" stroke-width="0.7"/>
<line x1="608.00" y1="158.80" x2="608.00" y2="166.20" stroke="#4677BD" stroke-width="0.8" stroke-opacity="0.95"/>
<line x1="604.50" y1="162.50" x2="611.50" y2="162.50" stroke="#4677BD" stroke-width="0.7" stroke-opacity="0.6"/>
<circle cx="608.00" cy="162.5" r="1.1" fill="#4677BD" fill-opacity="0.8"/>
<text x="596.00" y="164.66" font-size="6.0" font-weight="normal" text-anchor="start" fill="#111" stroke="#111" stroke-width="0.2">Ill</text>
<text x="615.70" y="164.66" font-size="6.0" font-weight="normal" text-anchor="start" fill="#111" stroke="#111" stroke-width="0.2">Not−Ill</text>
<text x="103.30" y="209.30" font-size="7.15" font-weight="bold" text-anchor="middle" fill="#000" stroke="#000" stroke-width="0.12">Age−Adjusted</text>
<g fill="#DA3328" fill-opacity="0.6"><circle cx="60.0" cy="240.2" r="1.3"/><circle cx="63.1" cy="309.7" r="1.3"/><circle cx="60.2" cy="270.6" r="1.3"/><circle cx="60.8" cy="283.7" r="1.3"/><circle cx="61.8" cy="286.5" r="1.3"/><circle cx="64.6" cy="311.3" r="1.3"/><circle cx="61.3" cy="304.9" r="1.3"/><circle cx="61.2" cy="269.1" r="1.3"/><circle cx="62.0" cy="265.3" r="1.3"/><circle cx="60.5" cy="254.8" r="1.3"/><circle cx="61.7" cy="272.5" r="1.3"/><circle cx="63.2" cy="283.2" r="1.3"/><circle cx="61.3" cy="280.5" r="1.3"/><circle cx="63.6" cy="273.4" r="1.3"/><circle cx="60.6" cy="255.7" r="1.3"/><circle cx="60.2" cy="258.4" r="1.3"/><circle cx="62.8" cy="283.1" r="1.3"/><circle cx="61.9" cy="295.5" r="1.3"/><circle cx="64.2" cy="288.9" r="1.3"/><circle cx="60.2" cy="265.8" r="1.3"/><circle cx="63.4" cy="289.7" r="1.3"/><circle cx="63.0" cy="300.3" r="1.3"/><circle cx="61.5" cy="256.9" r="1.3"/><circle cx="60.3" cy="248.1" r="1.3"/><circle cx="62.7" cy="293.0" r="1.3"/><circle cx="63.4" cy="284.4" r="1.3"/><circle cx="62.0" cy="282.7" r="1.3"/><circle cx="62.0" cy="275.4" r="1.3"/><circle cx="63.1" cy="300.1" r="1.3"/><circle cx="62.7" cy="241.3" r="1.3"/><circle cx="61.8" cy="278.2" r="1.3"/><circle cx="60.6" cy="266.1" r="1.3"/><circle cx="62.0" cy="266.6" r="1.3"/><circle cx="62.4" cy="275.4" r="1.3"/><circle cx="64.1" cy="276.1" r="1.3"/><circle cx="64.6" cy="269.7" r="1.3"/><circle cx="62.4" cy="268.1" r="1.3"/><circle cx="61.3" cy="285.1" r="1.3"/><circle cx="60.8" cy="237.6" r="1.3"/><circle cx="62.8" cy="246.8" r="1.3"/><circle cx="63.3" cy="286.6" r="1.3"/><circle cx="60.9" cy="287.2" r="1.3"/><circle cx="63.1" cy="293.7" r="1.3"/><circle cx="64.6" cy="242.0" r="1.3"/><circle cx="61.6" cy="299.7" r="1.3"/><circle cx="64.3" cy="294.9" r="1.3"/><circle cx="61.8" cy="280.2" r="1.3"/><circle cx="62.9" cy="248.4" r="1.3"/><circle cx="64.0" cy="291.9" r="1.3"/><circle cx="60.7" cy="300.4" r="1.3"/><circle cx="61.4" cy="268.2" r="1.3"/><circle cx="64.6" cy="284.6" r="1.3"/><circle cx="60.0" cy="285.3" r="1.3"/><circle cx="61.2" cy="293.0" r="1.3"/><circle cx="62.0" cy="289.0" r="1.3"/><circle cx="63.4" cy="289.4" r="1.3"/><circle cx="62.8" cy="242.7" r="1.3"/><circle cx="64.3" cy="263.6" r="1.3"/><circle cx="63.0" cy="235.6" r="1.3"/><circle cx="59.7" cy="296.2" r="1.3"/><circle cx="60.0" cy="290.6" r="1.3"/><circle cx="59.8" cy="284.3" r="1.3"/><circle cx="61.8" cy="252.9" r="1.3"/><circle cx="59.8" cy="306.5" r="1.3"/><circle cx="62.3" cy="252.9" r="1.3"/><circle cx="62.8" cy="229.3" r="1.3"/><circle cx="60.7" cy="263.9" r="1.3"/><circle cx="63.9" cy="262.4" r="1.3"/><circle cx="61.7" cy="268.4" r="1.3"/><circle cx="64.4" cy="273.7" r="1.3"/><circle cx="61.4" cy="283.9" r="1.3"/><circle cx="62.7" cy="287.6" r="1.3"/><circle cx="62.4" cy="257.8" r="1.3"/><circle cx="61.0" cy="247.0" r="1.3"/><circle cx="63.5" cy="288.9" r="1.3"/><circle cx="59.7" cy="301.4" r="1.3"/><circle cx="60.9" cy="294.2" r="1.3"/><circle cx="61.3" cy="285.0" r="1.3"/><circle cx="64.1" cy="229.4" r="1.3"/><circle cx="62.2" cy="288.0" r="1.3"/><circle cx="59.8" cy="258.6" r="1.3"/><circle cx="61.1" cy="296.5" r="1.3"/><circle cx="62.7" cy="303.1" r="1.3"/><circle cx="63.7" cy="265.3" r="1.3"/><circle cx="60.2" cy="250.5" r="1.3"/><circle cx="63.5" cy="265.8" r="1.3"/><circle cx="61.6" cy="284.5" r="1.3"/><circle cx="62.3" cy="285.9" r="1.3"/><circle cx="61.8" cy="248.8" r="1.3"/><circle cx="61.8" cy="281.6" r="1.3"/><circle cx="64.6" cy="252.1" r="1.3"/><circle cx="64.2" cy="260.5" r="1.3"/><circle cx="64.2" cy="297.5" r="1.3"/><circle cx="63.3" cy="272.6" r="1.3"/><circle cx="63.2" cy="249.8" r="1.3"/><circle cx="60.4" cy="300.6" r="1.3"/><circle cx="59.8" cy="231.4" r="1.3"/><circle cx="63.8" cy="298.6" r="1.3"/><circle cx="63.0" cy="275.8" r="1.3"/><circle cx="62.8" cy="240.9" r="1.3"/><circle cx="61.2" cy="260.5" r="1.3"/><circle cx="61.0" cy="287.3" r="1.3"/><circle cx="64.3" cy="303.3" r="1.3"/><circle cx="62.3" cy="243.1" r="1.3"/><circle cx="59.7" cy="270.4" r="1.3"/><circle cx="61.4" cy="282.7" r="1.3"/><circle cx="61.4" cy="293.0" r="1.3"/><circle cx="60.0" cy="312.4" r="1.3"/><circle cx="64.5" cy="283.7" r="1.3"/><circle cx="64.2" cy="241.5" r="1.3"/><circle cx="63.7" cy="268.1" r="1.3"/><circle cx="59.7" cy="248.1" r="1.3"/><circle cx="61.7" cy="267.5" r="1.3"/><circle cx="60.2" cy="263.5" r="1.3"/><circle cx="63.3" cy="270.1" r="1.3"/><circle cx="63.7" cy="282.9" r="1.3"/><circle cx="63.6" cy="268.2" r="1.3"/><circle cx="63.6" cy="294.9" r="1.3"/><circle cx="60.3" cy="298.9" r="1.3"/><circle cx="59.7" cy="244.1" r="1.3"/><circle cx="60.1" cy="237.5" r="1.3"/><circle cx="63.9" cy="252.8" r="1.3"/><circle cx="63.8" cy="277.1" r="1.3"/><circle cx="62.2" cy="275.1" r="1.3"/><circle cx="60.8" cy="277.2" r="1.3"/><circle cx="63.9" cy="311.6" r="1.3"/><circle cx="60.3" cy="289.4" r="1.3"/><circle cx="61.3" cy="295.9" r="1.3"/><circle cx="59.7" cy="275.7" r="1.3"/><circle cx="64.6" cy="259.0" r="1.3"/><circle cx="61.7" cy="264.5" r="1.3"/><circle cx="63.5" cy="273.7" r="1.3"/><circle cx="63.7" cy="247.8" r="1.3"/><circle cx="62.6" cy="253.2" r="1.3"/><circle cx="64.6" cy="276.4" r="1.3"/><circle cx="63.5" cy="310.8" r="1.3"/><circle cx="64.3" cy="262.9" r="1.3"/><circle cx="64.5" cy="264.7" r="1.3"/><circle cx="60.1" cy="254.0" r="1.3"/><circle cx="63.4" cy="270.7" r="1.3"/><circle cx="60.8" cy="244.1" r="1.3"/><circle cx="61.3" cy="280.2" r="1.3"/><circle cx="61.4" cy="250.4" r="1.3"/><circle cx="64.6" cy="298.3" r="1.3"/><circle cx="60.0" cy="247.2" r="1.3"/><circle cx="61.8" cy="242.1" r="1.3"/><circle cx="60.3" cy="282.6" r="1.3"/><circle cx="64.6" cy="283.1" r="1.3"/><circle cx="62.1" cy="243.9" r="1.3"/><circle cx="63.2" cy="276.6" r="1.3"/><circle cx="62.3" cy="273.3" r="1.3"/><circle cx="63.5" cy="301.5" r="1.3"/><circle cx="61.3" cy="249.2" r="1.3"/><circle cx="61.7" cy="276.9" r="1.3"/><circle cx="63.4" cy="285.8" r="1.3"/><circle cx="63.2" cy="289.9" r="1.3"/><circle cx="64.1" cy="263.2" r="1.3"/><circle cx="61.2" cy="226.7" r="1.3"/><circle cx="63.9" cy="269.4" r="1.3"/><circle cx="63.3" cy="267.7" r="1.3"/><circle cx="62.5" cy="280.3" r="1.3"/><circle cx="61.7" cy="280.1" r="1.3"/><circle cx="62.5" cy="253.3" r="1.3"/><circle cx="60.0" cy="264.3" r="1.3"/><circle cx="60.1" cy="272.1" r="1.3"/><circle cx="61.2" cy="297.6" r="1.3"/><circle cx="60.3" cy="296.5" r="1.3"/><circle cx="59.9" cy="288.7" r="1.3"/><circle cx="63.2" cy="245.7" r="1.3"/><circle cx="63.3" cy="253.0" r="1.3"/><circle cx="62.7" cy="280.5" r="1.3"/><circle cx="60.7" cy="254.9" r="1.3"/><circle cx="63.3" cy="259.6" r="1.3"/><circle cx="63.8" cy="264.1" r="1.3"/><circle cx="62.7" cy="267.0" r="1.3"/><circle cx="60.8" cy="284.0" r="1.3"/><circle cx="62.5" cy="279.2" r="1.3"/><circle cx="61.6" cy="266.4" r="1.3"/><circle cx="61.0" cy="283.4" r="1.3"/><circle cx="60.4" cy="303.7" r="1.3"/><circle cx="64.0" cy="301.8" r="1.3"/><circle cx="62.8" cy="276.8" r="1.3"/><circle cx="64.3" cy="289.2" r="1.3"/><circle cx="60.5" cy="291.2" r="1.3"/><circle cx="61.0" cy="276.6" r="1.3"/><circle cx="62.2" cy="299.0" r="1.3"/><circle cx="59.9" cy="283.3" r="1.3"/><circle cx="61.2" cy="261.9" r="1.3"/><circle cx="62.4" cy="304.9" r="1.3"/><circle cx="62.1" cy="241.4" r="1.3"/><circle cx="64.2" cy="260.9" r="1.3"/><circle cx="62.5" cy="261.0" r="1.3"/><circle cx="62.8" cy="307.7" r="1.3"/><circle cx="62.6" cy="258.7" r="1.3"/><circle cx="63.6" cy="235.7" r="1.3"/><circle cx="61.5" cy="245.4" r="1.3"/><circle cx="59.7" cy="278.5" r="1.3"/><circle cx="64.6" cy="272.4" r="1.3"/><circle cx="63.6" cy="280.1" r="1.3"/><circle cx="60.3" cy="238.8" r="1.3"/><circle cx="60.2" cy="280.5" r="1.3"/><circle cx="60.8" cy="290.9" r="1.3"/><circle cx="62.9" cy="304.9" r="1.3"/><circle cx="60.3" cy="238.8" r="1.3"/><circle cx="59.7" cy="284.2" r="1.3"/><circle cx="62.1" cy="246.4" r="1.3"/><circle cx="59.7" cy="281.8" r="1.3"/><circle cx="60.9" cy="289.5" r="1.3"/><circle cx="61.6" cy="268.2" r="1.3"/><circle cx="60.7" cy="276.0" r="1.3"/><circle cx="59.7" cy="275.7" r="1.3"/><circle cx="60.9" cy="259.5" r="1.3"/><circle cx="60.9" cy="290.1" r="1.3"/><circle cx="61.3" cy="263.7" r="1.3"/><circle cx="61.7" cy="266.8" r="1.3"/><circle cx="61.4" cy="285.0" r="1.3"/><circle cx="61.3" cy="254.4" r="1.3"/><circle cx="59.7" cy="290.4" r="1.3"/><circle cx="63.8" cy="261.4" r="1.3"/><circle cx="63.3" cy="268.6" r="1.3"/><circle cx="62.1" cy="286.8" r="1.3"/><circle cx="59.7" cy="302.3" r="1.3"/><circle cx="60.8" cy="266.6" r="1.3"/><circle cx="64.2" cy="277.7" r="1.3"/><circle cx="61.9" cy="265.7" r="1.3"/><circle cx="60.7" cy="233.2" r="1.3"/><circle cx="63.7" cy="262.8" r="1.3"/><circle cx="64.1" cy="267.9" r="1.3"/><circle cx="60.3" cy="290.7" r="1.3"/><circle cx="62.2" cy="286.8" r="1.3"/><circle cx="62.5" cy="300.9" r="1.3"/><circle cx="60.2" cy="273.8" r="1.3"/><circle cx="61.2" cy="290.1" r="1.3"/><circle cx="62.7" cy="268.8" r="1.3"/><circle cx="63.0" cy="282.5" r="1.3"/><circle cx="62.8" cy="271.2" r="1.3"/><circle cx="62.8" cy="301.8" r="1.3"/><circle cx="61.5" cy="252.1" r="1.3"/><circle cx="60.0" cy="295.9" r="1.3"/><circle cx="59.7" cy="248.5" r="1.3"/><circle cx="63.8" cy="286.0" r="1.3"/><circle cx="64.0" cy="260.1" r="1.3"/><circle cx="64.2" cy="275.9" r="1.3"/><circle cx="60.0" cy="269.6" r="1.3"/><circle cx="63.5" cy="300.2" r="1.3"/><circle cx="60.5" cy="273.4" r="1.3"/><circle cx="61.4" cy="294.8" r="1.3"/><circle cx="60.7" cy="257.4" r="1.3"/><circle cx="63.9" cy="264.7" r="1.3"/><circle cx="63.7" cy="264.3" r="1.3"/><circle cx="63.8" cy="237.4" r="1.3"/><circle cx="61.6" cy="301.5" r="1.3"/><circle cx="64.3" cy="304.2" r="1.3"/><circle cx="61.0" cy="288.6" r="1.3"/><circle cx="62.5" cy="265.7" r="1.3"/><circle cx="63.0" cy="283.9" r="1.3"/><circle cx="60.8" cy="309.7" r="1.3"/><circle cx="61.6" cy="281.5" r="1.3"/><circle cx="60.2" cy="246.6" r="1.3"/><circle cx="63.6" cy="289.9" r="1.3"/><circle cx="60.6" cy="298.0" r="1.3"/><circle cx="60.3" cy="259.7" r="1.3"/><circle cx="61.0" cy="269.2" r="1.3"/><circle cx="62.9" cy="300.0" r="1.3"/><circle cx="62.8" cy="308.9" r="1.3"/><circle cx="62.3" cy="269.2" r="1.3"/><circle cx="63.9" cy="249.8" r="1.3"/><circle cx="63.4" cy="230.1" r="1.3"/><circle cx="60.7" cy="246.0" r="1.3"/><circle cx="62.3" cy="289.1" r="1.3"/><circle cx="60.5" cy="282.5" r="1.3"/><circle cx="60.9" cy="259.9" r="1.3"/><circle cx="60.4" cy="277.2" r="1.3"/><circle cx="60.0" cy="269.6" r="1.3"/><circle cx="61.4" cy="240.9" r="1.3"/><circle cx="64.1" cy="266.2" r="1.3"/><circle cx="62.9" cy="303.8" r="1.3"/><circle cx="60.1" cy="258.6" r="1.3"/><circle cx="60.7" cy="279.3" r="1.3"/><circle cx="62.6" cy="244.4" r="1.3"/><circle cx="62.3" cy="289.4" r="1.3"/><circle cx="59.8" cy="272.3" r="1.3"/><circle cx="60.1" cy="274.8" r="1.3"/><circle cx="62.5" cy="302.7" r="1.3"/><circle cx="62.7" cy="292.9" r="1.3"/><circle cx="60.1" cy="285.3" r="1.3"/><circle cx="63.5" cy="286.4" r="1.3"/><circle cx="60.9" cy="289.3" r="1.3"/><circle cx="62.6" cy="284.0" r="1.3"/><circle cx="62.3" cy="263.1" r="1.3"/><circle cx="61.4" cy="310.4" r="1.3"/><circle cx="64.4" cy="275.3" r="1.3"/><circle cx="61.6" cy="253.9" r="1.3"/><circle cx="61.8" cy="259.6" r="1.3"/><circle cx="62.4" cy="297.0" r="1.3"/><circle cx="63.8" cy="276.8" r="1.3"/><circle cx="64.6" cy="276.4" r="1.3"/><circle cx="63.5" cy="302.9" r="1.3"/><circle cx="62.3" cy="288.8" r="1.3"/><circle cx="63.2" cy="271.9" r="1.3"/><circle cx="62.8" cy="226.2" r="1.3"/><circle cx="64.4" cy="312.8" r="1.3"/></g>
<g fill="#4677BD" fill-opacity="0.6"><circle cx="81.0" cy="299.0" r="1.3"/><circle cx="81.2" cy="257.2" r="1.3"/><circle cx="78.2" cy="269.1" r="1.3"/><circle cx="81.2" cy="290.6" r="1.3"/><circle cx="81.2" cy="250.0" r="1.3"/><circle cx="82.0" cy="269.1" r="1.3"/><circle cx="80.7" cy="266.3" r="1.3"/><circle cx="78.7" cy="249.6" r="1.3"/><circle cx="79.3" cy="257.6" r="1.3"/><circle cx="81.4" cy="241.2" r="1.3"/><circle cx="78.5" cy="235.6" r="1.3"/><circle cx="78.7" cy="278.2" r="1.3"/><circle cx="79.4" cy="253.9" r="1.3"/><circle cx="82.1" cy="301.9" r="1.3"/><circle cx="80.9" cy="263.1" r="1.3"/><circle cx="79.9" cy="260.7" r="1.3"/><circle cx="83.0" cy="295.2" r="1.3"/><circle cx="81.1" cy="264.7" r="1.3"/><circle cx="79.3" cy="245.8" r="1.3"/><circle cx="81.0" cy="269.9" r="1.3"/><circle cx="82.4" cy="287.2" r="1.3"/><circle cx="80.0" cy="267.2" r="1.3"/><circle cx="80.3" cy="246.7" r="1.3"/><circle cx="81.0" cy="259.9" r="1.3"/><circle cx="83.1" cy="282.8" r="1.3"/><circle cx="81.3" cy="278.5" r="1.3"/><circle cx="79.1" cy="275.2" r="1.3"/><circle cx="81.1" cy="269.0" r="1.3"/><circle cx="79.8" cy="246.2" r="1.3"/><circle cx="80.5" cy="270.2" r="1.3"/><circle cx="81.7" cy="239.0" r="1.3"/><circle cx="78.3" cy="263.3" r="1.3"/><circle cx="80.7" cy="255.2" r="1.3"/><circle cx="79.7" cy="270.7" r="1.3"/><circle cx="81.1" cy="290.7" r="1.3"/><circle cx="82.3" cy="266.5" r="1.3"/><circle cx="80.5" cy="280.5" r="1.3"/><circle cx="81.3" cy="260.3" r="1.3"/><circle cx="79.6" cy="253.0" r="1.3"/><circle cx="79.4" cy="278.4" r="1.3"/><circle cx="80.7" cy="262.2" r="1.3"/><circle cx="80.8" cy="240.3" r="1.3"/><circle cx="79.3" cy="263.9" r="1.3"/><circle cx="82.0" cy="261.4" r="1.3"/><circle cx="80.6" cy="273.1" r="1.3"/><circle cx="79.9" cy="274.1" r="1.3"/><circle cx="79.4" cy="249.8" r="1.3"/><circle cx="82.3" cy="279.2" r="1.3"/><circle cx="82.7" cy="300.2" r="1.3"/><circle cx="82.8" cy="239.3" r="1.3"/><circle cx="79.4" cy="273.8" r="1.3"/><circle cx="78.5" cy="293.3" r="1.3"/><circle cx="81.3" cy="256.9" r="1.3"/><circle cx="78.3" cy="232.6" r="1.3"/><circle cx="82.4" cy="242.5" r="1.3"/><circle cx="81.5" cy="260.6" r="1.3"/><circle cx="79.8" cy="268.3" r="1.3"/><circle cx="80.4" cy="289.0" r="1.3"/><circle cx="81.6" cy="256.9" r="1.3"/><circle cx="79.0" cy="256.9" r="1.3"/><circle cx="80.0" cy="259.7" r="1.3"/><circle cx="82.1" cy="262.7" r="1.3"/><circle cx="81.6" cy="244.2" r="1.3"/><circle cx="81.1" cy="253.3" r="1.3"/><circle cx="78.7" cy="250.7" r="1.3"/><circle cx="79.2" cy="281.3" r="1.3"/><circle cx="79.4" cy="254.0" r="1.3"/><circle cx="78.3" cy="256.6" r="1.3"/><circle cx="81.3" cy="266.2" r="1.3"/><circle cx="81.0" cy="280.2" r="1.3"/><circle cx="82.8" cy="268.3" r="1.3"/><circle cx="80.9" cy="274.4" r="1.3"/><circle cx="82.7" cy="273.1" r="1.3"/><circle cx="80.5" cy="265.7" r="1.3"/><circle cx="80.7" cy="255.8" r="1.3"/><circle cx="79.6" cy="233.7" r="1.3"/><circle cx="80.5" cy="282.6" r="1.3"/><circle cx="82.8" cy="255.2" r="1.3"/><circle cx="80.6" cy="296.8" r="1.3"/><circle cx="78.2" cy="293.7" r="1.3"/><circle cx="79.9" cy="240.8" r="1.3"/><circle cx="79.1" cy="294.2" r="1.3"/><circle cx="81.3" cy="271.3" r="1.3"/><circle cx="80.7" cy="248.2" r="1.3"/><circle cx="80.5" cy="265.6" r="1.3"/><circle cx="82.8" cy="278.0" r="1.3"/><circle cx="82.0" cy="283.8" r="1.3"/><circle cx="78.6" cy="275.6" r="1.3"/><circle cx="78.3" cy="267.3" r="1.3"/><circle cx="81.7" cy="283.1" r="1.3"/><circle cx="81.1" cy="245.0" r="1.3"/><circle cx="81.4" cy="271.3" r="1.3"/><circle cx="80.7" cy="254.7" r="1.3"/><circle cx="78.3" cy="241.3" r="1.3"/><circle cx="80.4" cy="266.3" r="1.3"/><circle cx="82.3" cy="276.4" r="1.3"/><circle cx="81.2" cy="273.8" r="1.3"/><circle cx="78.4" cy="293.7" r="1.3"/><circle cx="78.8" cy="248.4" r="1.3"/><circle cx="82.7" cy="236.3" r="1.3"/><circle cx="80.9" cy="261.8" r="1.3"/><circle cx="79.0" cy="297.5" r="1.3"/><circle cx="81.7" cy="258.0" r="1.3"/><circle cx="82.8" cy="259.7" r="1.3"/><circle cx="82.5" cy="272.2" r="1.3"/><circle cx="81.4" cy="254.8" r="1.3"/><circle cx="82.2" cy="264.0" r="1.3"/><circle cx="78.6" cy="275.0" r="1.3"/><circle cx="80.5" cy="237.3" r="1.3"/><circle cx="82.2" cy="261.3" r="1.3"/><circle cx="79.9" cy="241.8" r="1.3"/><circle cx="78.9" cy="269.3" r="1.3"/><circle cx="82.5" cy="285.0" r="1.3"/><circle cx="81.7" cy="289.8" r="1.3"/><circle cx="78.2" cy="246.8" r="1.3"/><circle cx="78.5" cy="259.3" r="1.3"/><circle cx="80.9" cy="288.8" r="1.3"/><circle cx="82.9" cy="236.5" r="1.3"/><circle cx="81.2" cy="282.7" r="1.3"/><circle cx="82.5" cy="272.3" r="1.3"/><circle cx="78.7" cy="248.8" r="1.3"/><circle cx="81.0" cy="268.4" r="1.3"/><circle cx="79.1" cy="261.6" r="1.3"/><circle cx="79.8" cy="279.8" r="1.3"/><circle cx="78.9" cy="282.8" r="1.3"/><circle cx="80.5" cy="254.9" r="1.3"/><circle cx="78.4" cy="254.5" r="1.3"/><circle cx="81.4" cy="266.4" r="1.3"/><circle cx="81.4" cy="240.4" r="1.3"/><circle cx="82.7" cy="270.3" r="1.3"/><circle cx="82.0" cy="266.4" r="1.3"/><circle cx="78.5" cy="251.0" r="1.3"/><circle cx="82.5" cy="252.8" r="1.3"/><circle cx="80.9" cy="292.8" r="1.3"/><circle cx="82.8" cy="265.5" r="1.3"/><circle cx="80.6" cy="293.0" r="1.3"/><circle cx="78.6" cy="283.4" r="1.3"/><circle cx="81.7" cy="286.0" r="1.3"/><circle cx="79.0" cy="270.6" r="1.3"/><circle cx="83.1" cy="264.2" r="1.3"/><circle cx="80.8" cy="270.0" r="1.3"/><circle cx="82.7" cy="270.6" r="1.3"/><circle cx="80.6" cy="267.7" r="1.3"/><circle cx="79.8" cy="300.3" r="1.3"/><circle cx="81.5" cy="244.1" r="1.3"/><circle cx="81.7" cy="290.3" r="1.3"/><circle cx="80.5" cy="288.6" r="1.3"/><circle cx="79.5" cy="268.8" r="1.3"/><circle cx="80.3" cy="254.6" r="1.3"/><circle cx="81.7" cy="261.1" r="1.3"/><circle cx="79.3" cy="244.5" r="1.3"/><circle cx="78.9" cy="253.0" r="1.3"/><circle cx="80.6" cy="245.9" r="1.3"/><circle cx="81.4" cy="299.1" r="1.3"/><circle cx="78.5" cy="259.7" r="1.3"/><circle cx="79.5" cy="254.0" r="1.3"/><circle cx="83.0" cy="268.8" r="1.3"/><circle cx="79.5" cy="267.7" r="1.3"/><circle cx="82.0" cy="260.9" r="1.3"/><circle cx="79.7" cy="293.8" r="1.3"/><circle cx="78.6" cy="253.1" r="1.3"/><circle cx="80.6" cy="270.6" r="1.3"/><circle cx="82.5" cy="255.6" r="1.3"/><circle cx="82.0" cy="272.8" r="1.3"/><circle cx="78.4" cy="231.0" r="1.3"/><circle cx="81.7" cy="275.4" r="1.3"/><circle cx="81.3" cy="255.3" r="1.3"/><circle cx="80.6" cy="257.5" r="1.3"/><circle cx="81.5" cy="265.7" r="1.3"/><circle cx="80.8" cy="274.4" r="1.3"/><circle cx="79.1" cy="242.1" r="1.3"/><circle cx="81.6" cy="245.6" r="1.3"/><circle cx="78.8" cy="265.2" r="1.3"/><circle cx="79.7" cy="261.1" r="1.3"/><circle cx="82.4" cy="266.9" r="1.3"/><circle cx="81.0" cy="262.1" r="1.3"/><circle cx="80.7" cy="280.1" r="1.3"/><circle cx="81.7" cy="270.3" r="1.3"/><circle cx="80.6" cy="256.2" r="1.3"/><circle cx="80.1" cy="275.5" r="1.3"/><circle cx="80.9" cy="230.8" r="1.3"/><circle cx="78.3" cy="302.0" r="1.3"/></g>
<g fill="#DA3328" fill-opacity="0.6"><circle cx="123.9" cy="270.4" r="1.3"/><circle cx="127.0" cy="279.0" r="1.3"/><circle cx="126.6" cy="321.4" r="1.3"/><circle cx="125.3" cy="272.8" r="1.3"/><circle cx="126.2" cy="266.8" r="1.3"/><circle cx="126.0" cy="263.5" r="1.3"/><circle cx="127.9" cy="284.9" r="1.3"/><circle cx="125.7" cy="260.0" r="1.3"/><circle cx="125.9" cy="284.7" r="1.3"/><circle cx="125.5" cy="244.1" r="1.3"/><circle cx="125.3" cy="245.6" r="1.3"/><circle cx="126.7" cy="252.0" r="1.3"/><circle cx="123.8" cy="269.6" r="1.3"/><circle cx="126.7" cy="314.9" r="1.3"/><circle cx="127.8" cy="238.5" r="1.3"/><circle cx="127.0" cy="264.3" r="1.3"/><circle cx="125.9" cy="283.0" r="1.3"/><circle cx="125.0" cy="259.9" r="1.3"/><circle cx="123.7" cy="256.5" r="1.3"/><circle cx="123.7" cy="285.0" r="1.3"/><circle cx="125.9" cy="313.2" r="1.3"/><circle cx="127.6" cy="294.7" r="1.3"/><circle cx="127.5" cy="264.1" r="1.3"/><circle cx="124.1" cy="250.7" r="1.3"/><circle cx="126.9" cy="261.4" r="1.3"/><circle cx="127.2" cy="292.6" r="1.3"/><circle cx="125.6" cy="282.8" r="1.3"/><circle cx="127.5" cy="263.5" r="1.3"/><circle cx="124.1" cy="249.1" r="1.3"/><circle cx="124.9" cy="257.1" r="1.3"/><circle cx="125.8" cy="274.4" r="1.3"/><circle cx="126.8" cy="279.5" r="1.3"/><circle cx="125.4" cy="305.9" r="1.3"/><circle cx="124.7" cy="246.1" r="1.3"/><circle cx="127.5" cy="317.0" r="1.3"/><circle cx="125.2" cy="321.0" r="1.3"/><circle cx="125.3" cy="240.4" r="1.3"/><circle cx="124.3" cy="269.7" r="1.3"/><circle cx="125.6" cy="299.8" r="1.3"/><circle cx="126.7" cy="290.3" r="1.3"/><circle cx="125.0" cy="286.6" r="1.3"/><circle cx="126.5" cy="296.9" r="1.3"/><circle cx="125.7" cy="285.6" r="1.3"/><circle cx="123.3" cy="309.5" r="1.3"/><circle cx="128.0" cy="264.2" r="1.3"/><circle cx="124.6" cy="262.5" r="1.3"/><circle cx="125.9" cy="287.2" r="1.3"/><circle cx="128.0" cy="280.6" r="1.3"/><circle cx="124.2" cy="271.1" r="1.3"/><circle cx="123.5" cy="298.1" r="1.3"/><circle cx="124.2" cy="238.3" r="1.3"/><circle cx="124.0" cy="322.4" r="1.3"/><circle cx="127.5" cy="296.4" r="1.3"/><circle cx="125.8" cy="260.9" r="1.3"/><circle cx="123.4" cy="256.8" r="1.3"/><circle cx="124.6" cy="247.3" r="1.3"/><circle cx="125.8" cy="287.5" r="1.3"/><circle cx="124.1" cy="266.7" r="1.3"/><circle cx="124.7" cy="289.3" r="1.3"/><circle cx="127.7" cy="262.2" r="1.3"/><circle cx="125.4" cy="311.7" r="1.3"/><circle cx="124.4" cy="276.2" r="1.3"/><circle cx="126.2" cy="254.9" r="1.3"/><circle cx="123.8" cy="248.5" r="1.3"/><circle cx="125.8" cy="281.8" r="1.3"/><circle cx="126.4" cy="278.0" r="1.3"/><circle cx="123.6" cy="290.7" r="1.3"/><circle cx="125.9" cy="261.7" r="1.3"/><circle cx="124.7" cy="284.0" r="1.3"/><circle cx="126.9" cy="284.5" r="1.3"/><circle cx="126.3" cy="303.0" r="1.3"/><circle cx="127.7" cy="299.8" r="1.3"/><circle cx="126.2" cy="284.6" r="1.3"/><circle cx="124.1" cy="273.2" r="1.3"/><circle cx="124.1" cy="261.3" r="1.3"/><circle cx="126.7" cy="277.6" r="1.3"/><circle cx="127.3" cy="291.7" r="1.3"/><circle cx="123.5" cy="239.6" r="1.3"/><circle cx="125.3" cy="306.6" r="1.3"/><circle cx="124.6" cy="262.8" r="1.3"/><circle cx="125.5" cy="235.0" r="1.3"/><circle cx="127.6" cy="262.1" r="1.3"/><circle cx="126.0" cy="284.7" r="1.3"/><circle cx="126.9" cy="245.1" r="1.3"/><circle cx="127.0" cy="267.4" r="1.3"/><circle cx="124.6" cy="262.1" r="1.3"/><circle cx="126.3" cy="263.8" r="1.3"/><circle cx="125.1" cy="290.4" r="1.3"/><circle cx="125.6" cy="298.0" r="1.3"/><circle cx="125.9" cy="244.4" r="1.3"/><circle cx="126.5" cy="256.4" r="1.3"/><circle cx="124.0" cy="281.3" r="1.3"/><circle cx="127.4" cy="276.9" r="1.3"/><circle cx="124.0" cy="270.0" r="1.3"/><circle cx="124.8" cy="281.8" r="1.3"/><circle cx="127.4" cy="293.5" r="1.3"/><circle cx="128.1" cy="267.7" r="1.3"/><circle cx="125.0" cy="241.2" r="1.3"/><circle cx="128.0" cy="301.6" r="1.3"/><circle cx="123.4" cy="243.8" r="1.3"/><circle cx="128.0" cy="267.7" r="1.3"/><circle cx="124.2" cy="251.4" r="1.3"/><circle cx="123.4" cy="283.0" r="1.3"/><circle cx="127.0" cy="290.9" r="1.3"/><circle cx="124.0" cy="269.4" r="1.3"/><circle cx="127.0" cy="249.4" r="1.3"/><circle cx="123.2" cy="270.1" r="1.3"/><circle cx="123.8" cy="281.8" r="1.3"/><circle cx="125.0" cy="283.5" r="1.3"/><circle cx="123.6" cy="234.8" r="1.3"/><circle cx="125.6" cy="272.4" r="1.3"/><circle cx="124.9" cy="267.1" r="1.3"/><circle cx="126.9" cy="277.2" r="1.3"/><circle cx="125.7" cy="284.9" r="1.3"/><circle cx="128.0" cy="269.4" r="1.3"/><circle cx="127.4" cy="279.0" r="1.3"/><circle cx="124.1" cy="269.7" r="1.3"/><circle cx="127.8" cy="266.8" r="1.3"/><circle cx="127.7" cy="264.1" r="1.3"/><circle cx="126.0" cy="272.6" r="1.3"/><circle cx="125.8" cy="296.7" r="1.3"/><circle cx="124.0" cy="274.9" r="1.3"/><circle cx="124.8" cy="250.6" r="1.3"/><circle cx="124.3" cy="254.7" r="1.3"/><circle cx="124.2" cy="284.9" r="1.3"/><circle cx="126.3" cy="256.4" r="1.3"/><circle cx="124.8" cy="271.8" r="1.3"/><circle cx="127.0" cy="287.6" r="1.3"/><circle cx="126.1" cy="270.0" r="1.3"/><circle cx="127.3" cy="292.5" r="1.3"/><circle cx="123.6" cy="294.3" r="1.3"/><circle cx="127.4" cy="253.2" r="1.3"/><circle cx="125.7" cy="301.9" r="1.3"/><circle cx="126.4" cy="305.7" r="1.3"/><circle cx="124.4" cy="282.1" r="1.3"/><circle cx="126.7" cy="241.0" r="1.3"/><circle cx="125.2" cy="311.4" r="1.3"/><circle cx="126.8" cy="266.9" r="1.3"/><circle cx="126.1" cy="296.0" r="1.3"/><circle cx="123.9" cy="262.9" r="1.3"/><circle cx="124.7" cy="298.5" r="1.3"/><circle cx="127.0" cy="267.8" r="1.3"/><circle cx="123.3" cy="305.7" r="1.3"/><circle cx="126.4" cy="244.8" r="1.3"/><circle cx="125.9" cy="292.0" r="1.3"/><circle cx="126.8" cy="267.8" r="1.3"/><circle cx="124.8" cy="297.2" r="1.3"/><circle cx="125.6" cy="241.4" r="1.3"/><circle cx="125.6" cy="261.8" r="1.3"/><circle cx="126.9" cy="260.7" r="1.3"/><circle cx="123.6" cy="255.1" r="1.3"/><circle cx="125.8" cy="283.2" r="1.3"/><circle cx="124.5" cy="279.5" r="1.3"/><circle cx="126.1" cy="282.4" r="1.3"/><circle cx="124.5" cy="285.1" r="1.3"/><circle cx="124.2" cy="287.1" r="1.3"/><circle cx="124.4" cy="303.3" r="1.3"/><circle cx="127.7" cy="248.2" r="1.3"/><circle cx="125.0" cy="313.9" r="1.3"/><circle cx="127.6" cy="275.7" r="1.3"/><circle cx="126.9" cy="290.3" r="1.3"/><circle cx="124.5" cy="279.0" r="1.3"/><circle cx="126.0" cy="285.1" r="1.3"/><circle cx="123.2" cy="262.2" r="1.3"/><circle cx="127.9" cy="247.8" r="1.3"/><circle cx="126.4" cy="273.8" r="1.3"/><circle cx="123.8" cy="313.6" r="1.3"/><circle cx="125.8" cy="263.6" r="1.3"/><circle cx="125.7" cy="253.4" r="1.3"/><circle cx="126.6" cy="249.1" r="1.3"/><circle cx="124.6" cy="254.0" r="1.3"/><circle cx="127.7" cy="265.1" r="1.3"/><circle cx="126.3" cy="277.5" r="1.3"/><circle cx="123.6" cy="239.1" r="1.3"/><circle cx="127.3" cy="313.5" r="1.3"/><circle cx="127.6" cy="252.2" r="1.3"/><circle cx="124.7" cy="296.2" r="1.3"/><circle cx="126.8" cy="305.8" r="1.3"/><circle cx="127.5" cy="293.8" r="1.3"/><circle cx="127.6" cy="287.9" r="1.3"/><circle cx="123.6" cy="258.1" r="1.3"/><circle cx="127.4" cy="255.8" r="1.3"/><circle cx="124.4" cy="292.8" r="1.3"/><circle cx="127.2" cy="273.9" r="1.3"/><circle cx="126.6" cy="289.0" r="1.3"/><circle cx="125.5" cy="296.9" r="1.3"/><circle cx="127.7" cy="298.0" r="1.3"/><circle cx="127.2" cy="270.9" r="1.3"/><circle cx="128.2" cy="317.0" r="1.3"/><circle cx="128.0" cy="263.7" r="1.3"/><circle cx="126.1" cy="313.0" r="1.3"/><circle cx="126.9" cy="259.8" r="1.3"/><circle cx="126.6" cy="285.4" r="1.3"/><circle cx="125.2" cy="275.9" r="1.3"/><circle cx="125.7" cy="317.7" r="1.3"/><circle cx="125.7" cy="267.4" r="1.3"/><circle cx="124.3" cy="251.3" r="1.3"/><circle cx="124.5" cy="253.8" r="1.3"/><circle cx="127.4" cy="252.8" r="1.3"/><circle cx="127.4" cy="283.0" r="1.3"/><circle cx="126.7" cy="290.7" r="1.3"/><circle cx="126.6" cy="295.8" r="1.3"/><circle cx="125.8" cy="272.4" r="1.3"/><circle cx="126.1" cy="285.0" r="1.3"/><circle cx="126.5" cy="293.5" r="1.3"/><circle cx="123.2" cy="253.2" r="1.3"/><circle cx="125.4" cy="287.0" r="1.3"/><circle cx="128.0" cy="261.2" r="1.3"/><circle cx="124.2" cy="258.4" r="1.3"/><circle cx="125.5" cy="265.9" r="1.3"/><circle cx="123.6" cy="281.3" r="1.3"/><circle cx="124.5" cy="261.0" r="1.3"/><circle cx="127.3" cy="257.4" r="1.3"/><circle cx="123.4" cy="251.7" r="1.3"/><circle cx="127.2" cy="270.0" r="1.3"/><circle cx="127.2" cy="282.0" r="1.3"/><circle cx="127.5" cy="247.5" r="1.3"/><circle cx="124.5" cy="276.3" r="1.3"/><circle cx="127.9" cy="280.2" r="1.3"/><circle cx="125.1" cy="260.6" r="1.3"/><circle cx="125.5" cy="281.4" r="1.3"/><circle cx="128.0" cy="291.1" r="1.3"/><circle cx="125.9" cy="279.2" r="1.3"/><circle cx="126.6" cy="259.0" r="1.3"/><circle cx="123.8" cy="270.4" r="1.3"/><circle cx="123.2" cy="269.9" r="1.3"/><circle cx="124.5" cy="303.7" r="1.3"/><circle cx="123.7" cy="290.9" r="1.3"/><circle cx="127.3" cy="263.4" r="1.3"/><circle cx="124.4" cy="274.3" r="1.3"/><circle cx="128.0" cy="282.8" r="1.3"/><circle cx="126.6" cy="252.4" r="1.3"/><circle cx="124.2" cy="291.6" r="1.3"/><circle cx="126.8" cy="251.2" r="1.3"/><circle cx="124.8" cy="286.4" r="1.3"/><circle cx="125.8" cy="317.3" r="1.3"/><circle cx="123.6" cy="286.2" r="1.3"/><circle cx="127.4" cy="256.3" r="1.3"/><circle cx="127.1" cy="264.4" r="1.3"/><circle cx="126.1" cy="271.1" r="1.3"/><circle cx="126.7" cy="287.7" r="1.3"/><circle cx="124.9" cy="312.1" r="1.3"/><circle cx="123.8" cy="257.1" r="1.3"/><circle cx="124.8" cy="252.5" r="1.3"/><circle cx="126.9" cy="294.5" r="1.3"/><circle cx="126.0" cy="260.2" r="1.3"/><circle cx="123.9" cy="269.3" r="1.3"/><circle cx="124.4" cy="308.7" r="1.3"/><circle cx="125.6" cy="281.4" r="1.3"/><circle cx="123.3" cy="288.7" r="1.3"/><circle cx="123.4" cy="297.9" r="1.3"/><circle cx="125.4" cy="278.6" r="1.3"/><circle cx="123.9" cy="274.6" r="1.3"/><circle cx="127.6" cy="290.3" r="1.3"/><circle cx="123.8" cy="301.2" r="1.3"/><circle cx="126.9" cy="259.8" r="1.3"/><circle cx="127.2" cy="251.6" r="1.3"/><circle cx="124.8" cy="278.6" r="1.3"/><circle cx="125.9" cy="277.1" r="1.3"/><circle cx="128.2" cy="313.8" r="1.3"/><circle cx="126.3" cy="284.8" r="1.3"/><circle cx="125.1" cy="258.9" r="1.3"/><circle cx="128.1" cy="276.4" r="1.3"/><circle cx="124.5" cy="266.9" r="1.3"/><circle cx="128.0" cy="278.9" r="1.3"/><circle cx="124.7" cy="260.6" r="1.3"/><circle cx="125.3" cy="266.6" r="1.3"/><circle cx="124.8" cy="270.0" r="1.3"/><circle cx="126.5" cy="261.2" r="1.3"/><circle cx="127.6" cy="262.9" r="1.3"/><circle cx="126.6" cy="245.8" r="1.3"/><circle cx="124.1" cy="261.3" r="1.3"/><circle cx="128.2" cy="264.7" r="1.3"/><circle cx="126.8" cy="305.6" r="1.3"/><circle cx="125.7" cy="236.9" r="1.3"/><circle cx="127.4" cy="301.7" r="1.3"/><circle cx="123.7" cy="290.8" r="1.3"/><circle cx="126.2" cy="240.9" r="1.3"/><circle cx="127.1" cy="260.3" r="1.3"/><circle cx="127.1" cy="264.1" r="1.3"/><circle cx="126.6" cy="321.9" r="1.3"/><circle cx="123.5" cy="242.5" r="1.3"/><circle cx="125.6" cy="292.8" r="1.3"/><circle cx="124.5" cy="267.9" r="1.3"/><circle cx="126.2" cy="288.4" r="1.3"/><circle cx="125.2" cy="244.3" r="1.3"/><circle cx="125.5" cy="294.9" r="1.3"/><circle cx="125.9" cy="240.7" r="1.3"/><circle cx="126.1" cy="253.0" r="1.3"/><circle cx="127.7" cy="280.2" r="1.3"/><circle cx="124.6" cy="283.0" r="1.3"/><circle cx="124.6" cy="243.4" r="1.3"/><circle cx="124.1" cy="263.1" r="1.3"/><circle cx="123.8" cy="277.6" r="1.3"/><circle cx="127.4" cy="274.8" r="1.3"/><circle cx="127.8" cy="264.4" r="1.3"/><circle cx="123.8" cy="276.3" r="1.3"/><circle cx="125.0" cy="279.2" r="1.3"/><circle cx="127.7" cy="266.2" r="1.3"/><circle cx="127.5" cy="285.5" r="1.3"/><circle cx="128.1" cy="231.8" r="1.3"/><circle cx="128.2" cy="323.6" r="1.3"/></g>
<g fill="#4677BD" fill-opacity="0.6"><circle cx="146.1" cy="253.8" r="1.3"/><circle cx="144.1" cy="260.9" r="1.3"/><circle cx="143.0" cy="270.8" r="1.3"/><circle cx="147.0" cy="263.4" r="1.3"/><circle cx="145.2" cy="288.7" r="1.3"/><circle cx="145.5" cy="279.7" r="1.3"/><circle cx="143.9" cy="264.9" r="1.3"/><circle cx="142.8" cy="233.9" r="1.3"/><circle cx="145.1" cy="268.8" r="1.3"/><circle cx="144.2" cy="269.5" r="1.3"/><circle cx="146.7" cy="272.4" r="1.3"/><circle cx="145.5" cy="259.1" r="1.3"/><circle cx="146.0" cy="271.5" r="1.3"/><circle cx="145.0" cy="270.5" r="1.3"/><circle cx="146.0" cy="270.3" r="1.3"/><circle cx="142.9" cy="276.9" r="1.3"/><circle cx="147.2" cy="300.8" r="1.3"/><circle cx="145.1" cy="273.6" r="1.3"/><circle cx="145.2" cy="280.6" r="1.3"/><circle cx="143.1" cy="239.5" r="1.3"/><circle cx="142.7" cy="252.0" r="1.3"/><circle cx="145.7" cy="301.2" r="1.3"/><circle cx="145.8" cy="269.1" r="1.3"/><circle cx="145.5" cy="266.6" r="1.3"/><circle cx="143.5" cy="277.9" r="1.3"/><circle cx="144.6" cy="259.4" r="1.3"/><circle cx="146.0" cy="294.4" r="1.3"/><circle cx="145.4" cy="246.5" r="1.3"/><circle cx="146.7" cy="272.5" r="1.3"/><circle cx="142.6" cy="266.1" r="1.3"/><circle cx="146.1" cy="256.6" r="1.3"/><circle cx="142.3" cy="254.5" r="1.3"/><circle cx="145.3" cy="248.5" r="1.3"/><circle cx="144.9" cy="237.8" r="1.3"/><circle cx="142.6" cy="266.1" r="1.3"/><circle cx="144.3" cy="287.6" r="1.3"/><circle cx="145.5" cy="273.6" r="1.3"/><circle cx="146.5" cy="242.7" r="1.3"/><circle cx="142.6" cy="241.2" r="1.3"/><circle cx="144.7" cy="258.2" r="1.3"/><circle cx="146.2" cy="258.5" r="1.3"/><circle cx="142.8" cy="291.5" r="1.3"/><circle cx="146.7" cy="240.8" r="1.3"/><circle cx="146.9" cy="237.0" r="1.3"/><circle cx="143.9" cy="260.8" r="1.3"/><circle cx="143.2" cy="230.2" r="1.3"/><circle cx="142.9" cy="265.1" r="1.3"/><circle cx="143.3" cy="247.7" r="1.3"/><circle cx="144.3" cy="260.0" r="1.3"/><circle cx="145.7" cy="249.7" r="1.3"/><circle cx="146.9" cy="261.9" r="1.3"/><circle cx="145.0" cy="289.4" r="1.3"/><circle cx="147.0" cy="264.1" r="1.3"/><circle cx="144.3" cy="286.8" r="1.3"/><circle cx="145.5" cy="240.4" r="1.3"/><circle cx="142.2" cy="269.8" r="1.3"/><circle cx="144.3" cy="288.1" r="1.3"/><circle cx="142.3" cy="240.8" r="1.3"/><circle cx="142.9" cy="250.3" r="1.3"/><circle cx="146.2" cy="240.5" r="1.3"/><circle cx="142.8" cy="269.7" r="1.3"/><circle cx="143.7" cy="247.9" r="1.3"/><circle cx="144.8" cy="259.9" r="1.3"/><circle cx="144.8" cy="259.1" r="1.3"/><circle cx="142.4" cy="254.3" r="1.3"/><circle cx="142.8" cy="262.3" r="1.3"/><circle cx="145.6" cy="281.9" r="1.3"/><circle cx="144.2" cy="249.3" r="1.3"/><circle cx="142.7" cy="283.1" r="1.3"/><circle cx="144.6" cy="244.2" r="1.3"/><circle cx="144.1" cy="261.4" r="1.3"/><circle cx="147.2" cy="244.4" r="1.3"/><circle cx="142.4" cy="249.4" r="1.3"/><circle cx="143.1" cy="279.6" r="1.3"/><circle cx="142.6" cy="288.8" r="1.3"/><circle cx="145.0" cy="283.5" r="1.3"/><circle cx="147.0" cy="258.4" r="1.3"/><circle cx="146.1" cy="291.2" r="1.3"/><circle cx="142.8" cy="238.5" r="1.3"/><circle cx="144.9" cy="258.6" r="1.3"/><circle cx="144.0" cy="274.2" r="1.3"/><circle cx="147.1" cy="271.0" r="1.3"/><circle cx="145.7" cy="244.1" r="1.3"/><circle cx="145.2" cy="250.3" r="1.3"/><circle cx="143.5" cy="282.7" r="1.3"/><circle cx="144.4" cy="257.6" r="1.3"/><circle cx="144.8" cy="295.1" r="1.3"/><circle cx="144.1" cy="246.5" r="1.3"/><circle cx="145.0" cy="272.6" r="1.3"/><circle cx="142.7" cy="281.7" r="1.3"/><circle cx="144.3" cy="277.7" r="1.3"/><circle cx="147.1" cy="263.9" r="1.3"/><circle cx="144.2" cy="256.7" r="1.3"/><circle cx="144.7" cy="274.6" r="1.3"/><circle cx="146.0" cy="252.9" r="1.3"/><circle cx="146.3" cy="265.0" r="1.3"/><circle cx="145.9" cy="251.7" r="1.3"/><circle cx="144.1" cy="246.6" r="1.3"/><circle cx="145.8" cy="263.9" r="1.3"/><circle cx="143.2" cy="296.0" r="1.3"/><circle cx="145.3" cy="261.3" r="1.3"/><circle cx="142.3" cy="267.5" r="1.3"/><circle cx="143.2" cy="282.3" r="1.3"/><circle cx="143.1" cy="235.2" r="1.3"/><circle cx="144.0" cy="276.2" r="1.3"/><circle cx="145.9" cy="251.9" r="1.3"/><circle cx="142.3" cy="260.6" r="1.3"/><circle cx="146.6" cy="296.4" r="1.3"/><circle cx="142.7" cy="297.3" r="1.3"/><circle cx="147.0" cy="249.1" r="1.3"/><circle cx="146.9" cy="242.9" r="1.3"/><circle cx="145.3" cy="279.9" r="1.3"/><circle cx="146.4" cy="268.9" r="1.3"/><circle cx="146.9" cy="291.3" r="1.3"/><circle cx="144.4" cy="281.0" r="1.3"/><circle cx="146.5" cy="286.0" r="1.3"/><circle cx="142.4" cy="290.2" r="1.3"/><circle cx="146.1" cy="262.7" r="1.3"/><circle cx="145.4" cy="263.2" r="1.3"/><circle cx="146.1" cy="250.9" r="1.3"/><circle cx="142.9" cy="263.6" r="1.3"/><circle cx="142.6" cy="269.4" r="1.3"/><circle cx="144.8" cy="255.6" r="1.3"/><circle cx="145.2" cy="260.7" r="1.3"/><circle cx="145.6" cy="268.3" r="1.3"/><circle cx="143.1" cy="275.6" r="1.3"/><circle cx="145.0" cy="296.6" r="1.3"/><circle cx="147.0" cy="246.5" r="1.3"/><circle cx="143.5" cy="251.6" r="1.3"/><circle cx="146.3" cy="269.7" r="1.3"/><circle cx="147.0" cy="273.3" r="1.3"/><circle cx="145.6" cy="237.1" r="1.3"/><circle cx="144.4" cy="289.7" r="1.3"/><circle cx="144.3" cy="294.2" r="1.3"/><circle cx="144.5" cy="285.3" r="1.3"/><circle cx="142.8" cy="253.6" r="1.3"/><circle cx="142.6" cy="260.3" r="1.3"/><circle cx="143.6" cy="268.7" r="1.3"/><circle cx="143.1" cy="291.3" r="1.3"/><circle cx="146.7" cy="283.4" r="1.3"/><circle cx="144.0" cy="261.8" r="1.3"/><circle cx="146.6" cy="268.8" r="1.3"/><circle cx="145.0" cy="279.8" r="1.3"/><circle cx="146.7" cy="273.3" r="1.3"/><circle cx="146.7" cy="260.0" r="1.3"/><circle cx="145.8" cy="252.3" r="1.3"/><circle cx="144.4" cy="262.5" r="1.3"/><circle cx="143.4" cy="257.8" r="1.3"/><circle cx="145.0" cy="248.4" r="1.3"/><circle cx="143.8" cy="266.8" r="1.3"/><circle cx="146.3" cy="266.4" r="1.3"/><circle cx="142.4" cy="232.0" r="1.3"/><circle cx="145.4" cy="258.0" r="1.3"/><circle cx="143.9" cy="251.3" r="1.3"/><circle cx="144.3" cy="292.9" r="1.3"/><circle cx="144.9" cy="271.5" r="1.3"/><circle cx="147.1" cy="262.4" r="1.3"/><circle cx="147.2" cy="260.8" r="1.3"/><circle cx="144.0" cy="287.5" r="1.3"/><circle cx="147.0" cy="247.9" r="1.3"/><circle cx="147.0" cy="283.2" r="1.3"/><circle cx="144.8" cy="237.1" r="1.3"/><circle cx="145.0" cy="249.3" r="1.3"/><circle cx="143.2" cy="244.1" r="1.3"/><circle cx="146.1" cy="266.2" r="1.3"/><circle cx="144.6" cy="240.6" r="1.3"/><circle cx="146.0" cy="289.8" r="1.3"/><circle cx="146.8" cy="268.9" r="1.3"/><circle cx="145.3" cy="248.0" r="1.3"/><circle cx="145.7" cy="273.3" r="1.3"/><circle cx="144.9" cy="252.3" r="1.3"/><circle cx="142.9" cy="272.7" r="1.3"/><circle cx="144.5" cy="250.9" r="1.3"/><circle cx="142.5" cy="296.3" r="1.3"/><circle cx="143.1" cy="281.2" r="1.3"/><circle cx="147.1" cy="248.9" r="1.3"/><circle cx="144.1" cy="269.6" r="1.3"/><circle cx="142.9" cy="254.9" r="1.3"/><circle cx="144.4" cy="230.9" r="1.3"/><circle cx="142.5" cy="260.1" r="1.3"/><circle cx="145.2" cy="229.9" r="1.3"/><circle cx="143.3" cy="302.0" r="1.3"/></g>
<line x1="62.15" y1="226.20" x2="62.15" y2="256.50" stroke="#DA3328" stroke-width="0.8" stroke-opacity="0.8"/>
<line x1="62.15" y1="288.70" x2="62.15" y2="312.80" stroke="#DA3328" stroke-width="0.8" stroke-opacity="0.8"/>
<rect x="55.60" y="256.50" width="13.10" height="32.20" fill="#DA3328" fill-opacity="0.25" stroke="#DA3328" stroke-opacity="0.85" stroke-width="0.8"/>
<line x1="55.60" y1="274.10" x2="68.70" y2="274.10" stroke="#DA3328" stroke-width="1.2" stroke-opacity="1.0"/>
<line x1="80.65" y1="230.80" x2="80.65" y2="250.00" stroke="#4677BD" stroke-width="0.8" stroke-opacity="0.8"/>
<line x1="80.65" y1="277.80" x2="80.65" y2="302.00" stroke="#4677BD" stroke-width="0.8" stroke-opacity="0.8"/>
<rect x="73.90" y="250.00" width="13.50" height="27.80" fill="#4677BD" fill-opacity="0.25" stroke="#4677BD" stroke-opacity="0.85" stroke-width="0.8"/>
<line x1="73.90" y1="263.30" x2="87.40" y2="263.30" stroke="#4677BD" stroke-width="1.2" stroke-opacity="1.0"/>
<line x1="125.70" y1="231.80" x2="125.70" y2="259.30" stroke="#DA3328" stroke-width="0.8" stroke-opacity="0.8"/>
<line x1="125.70" y1="288.70" x2="125.70" y2="323.60" stroke="#DA3328" stroke-width="0.8" stroke-opacity="0.8"/>
<rect x="119.20" y="259.30" width="13.00" height="29.40" fill="#DA3328" fill-opacity="0.25" stroke="#DA3328" stroke-opacity="0.85" stroke-width="0.8"/>
<line x1="119.20" y1="274.10" x2="132.20" y2="274.10" stroke="#DA3328" stroke-width="1.2" stroke-opacity="1.0"/>
<line x1="144.70" y1="229.90" x2="144.70" y2="250.00" stroke="#4677BD" stroke-width="0.8" stroke-opacity="0.8"/>
<line x1="144.70" y1="277.80" x2="144.70" y2="302.00" stroke="#4677BD" stroke-width="0.8" stroke-opacity="0.8"/>
<rect x="137.80" y="250.00" width="13.80" height="27.80" fill="#4677BD" fill-opacity="0.25" stroke="#4677BD" stroke-opacity="0.85" stroke-width="0.8"/>
<line x1="137.80" y1="263.30" x2="151.60" y2="263.30" stroke="#4677BD" stroke-width="1.2" stroke-opacity="1.0"/>
<line x1="33.00" y1="214.40" x2="33.00" y2="329.90" stroke="#5c5c5c" stroke-width="1.0" stroke-opacity="1"/>
<line x1="32.50" y1="329.40" x2="173.60" y2="329.40" stroke="#5c5c5c" stroke-width="1.0" stroke-opacity="1"/>
<line x1="33.00" y1="231.80" x2="35.20" y2="231.80" stroke="#5c5c5c" stroke-width="0.8" stroke-opacity="1"/>
<text x="31.40" y="233.60" font-size="5.0" font-weight="normal" text-anchor="end" fill="#404040" stroke="#404040" stroke-width="0.2">150</text>
<line x1="33.00" y1="266.50" x2="35.20" y2="266.50" stroke="#5c5c5c" stroke-width="0.8" stroke-opacity="1"/>
<text x="31.40" y="268.30" font-size="5.0" font-weight="normal" text-anchor="end" fill="#404040" stroke="#404040" stroke-width="0.2">100</text>
<line x1="33.00" y1="301.50" x2="35.20" y2="301.50" stroke="#5c5c5c" stroke-width="0.8" stroke-opacity="1"/>
<text x="31.40" y="303.30" font-size="5.0" font-weight="normal" text-anchor="end" fill="#404040" stroke="#404040" stroke-width="0.2">50</text>
<line x1="71.20" y1="329.40" x2="71.20" y2="326.80" stroke="#5c5c5c" stroke-width="1.0" stroke-opacity="1"/>
<line x1="135.30" y1="329.40" x2="135.30" y2="326.80" stroke="#5c5c5c" stroke-width="1.0" stroke-opacity="1"/>
<text x="72.60" y="334.00" font-size="5.5" font-weight="normal" text-anchor="end" fill="#333" stroke="#333" stroke-width="0.2" transform="rotate(-25 72.60000000000001 334.0)">D1 Ill vs D85 Not−Ill</text>
<text x="136.70" y="334.00" font-size="5.5" font-weight="normal" text-anchor="end" fill="#333" stroke="#333" stroke-width="0.2" transform="rotate(-25 136.70000000000002 334.0)">D15 Ill vs D85 Not−Ill</text>
<text x="71.30" y="221.40" font-size="6.4" font-weight="bold" text-anchor="middle" fill="#000" stroke="#000" stroke-width="0.12">FDR p = 4.26e−07</text>
<text x="135.40" y="225.70" font-size="6.4" font-weight="bold" text-anchor="middle" fill="#000" stroke="#000" stroke-width="0.12">FDR p = 1.66e−07</text>
<text x="266.70" y="209.30" font-size="7.15" font-weight="bold" text-anchor="middle" fill="#000" stroke="#000" stroke-width="0.12">7−12 months</text>
<g fill="#DA3328" fill-opacity="0.6"><circle cx="223.6" cy="294.4" r="1.3"/><circle cx="224.7" cy="307.2" r="1.3"/><circle cx="225.1" cy="292.8" r="1.3"/><circle cx="224.3" cy="290.2" r="1.3"/><circle cx="220.5" cy="287.8" r="1.3"/><circle cx="222.7" cy="276.4" r="1.3"/><circle cx="221.3" cy="279.2" r="1.3"/><circle cx="220.9" cy="292.1" r="1.3"/><circle cx="221.5" cy="301.8" r="1.3"/><circle cx="223.9" cy="291.9" r="1.3"/><circle cx="223.1" cy="280.9" r="1.3"/><circle cx="220.9" cy="289.6" r="1.3"/><circle cx="221.7" cy="301.6" r="1.3"/><circle cx="220.6" cy="290.7" r="1.3"/><circle cx="224.9" cy="303.0" r="1.3"/><circle cx="224.0" cy="273.9" r="1.3"/><circle cx="222.6" cy="294.8" r="1.3"/><circle cx="225.1" cy="278.3" r="1.3"/><circle cx="225.1" cy="291.2" r="1.3"/><circle cx="221.3" cy="297.2" r="1.3"/><circle cx="221.5" cy="296.7" r="1.3"/><circle cx="221.2" cy="304.5" r="1.3"/><circle cx="223.4" cy="292.2" r="1.3"/><circle cx="223.2" cy="299.4" r="1.3"/><circle cx="222.8" cy="301.8" r="1.3"/><circle cx="224.1" cy="286.2" r="1.3"/><circle cx="222.9" cy="285.7" r="1.3"/><circle cx="221.8" cy="291.2" r="1.3"/><circle cx="223.6" cy="291.4" r="1.3"/><circle cx="225.0" cy="277.3" r="1.3"/><circle cx="220.5" cy="302.8" r="1.3"/><circle cx="222.7" cy="311.7" r="1.3"/><circle cx="220.9" cy="298.4" r="1.3"/><circle cx="224.0" cy="293.1" r="1.3"/><circle cx="222.4" cy="296.7" r="1.3"/><circle cx="224.4" cy="297.0" r="1.3"/><circle cx="223.6" cy="298.1" r="1.3"/><circle cx="225.0" cy="293.8" r="1.3"/><circle cx="223.1" cy="281.1" r="1.3"/><circle cx="223.2" cy="293.1" r="1.3"/><circle cx="225.1" cy="290.1" r="1.3"/><circle cx="224.3" cy="291.9" r="1.3"/><circle cx="221.9" cy="301.0" r="1.3"/><circle cx="220.8" cy="294.2" r="1.3"/><circle cx="224.9" cy="269.5" r="1.3"/><circle cx="220.6" cy="312.8" r="1.3"/><circle cx="221.0" cy="226.8" r="1.3"/><circle cx="223.0" cy="247.4" r="1.3"/><circle cx="220.8" cy="258.1" r="1.3"/><circle cx="224.1" cy="258.1" r="1.3"/></g>
<g fill="#4677BD" fill-opacity="0.6"><circle cx="242.0" cy="281.2" r="1.3"/><circle cx="245.1" cy="275.5" r="1.3"/><circle cx="243.8" cy="273.8" r="1.3"/><circle cx="244.4" cy="273.7" r="1.3"/><circle cx="244.8" cy="275.9" r="1.3"/><circle cx="242.9" cy="279.5" r="1.3"/><circle cx="243.0" cy="281.0" r="1.3"/><circle cx="242.9" cy="297.6" r="1.3"/><circle cx="242.5" cy="291.5" r="1.3"/><circle cx="244.6" cy="280.3" r="1.3"/><circle cx="245.1" cy="285.7" r="1.3"/><circle cx="242.2" cy="278.3" r="1.3"/><circle cx="244.3" cy="272.6" r="1.3"/><circle cx="241.8" cy="302.0" r="1.3"/><circle cx="242.0" cy="244.4" r="1.3"/></g>
<g fill="#DA3328" fill-opacity="0.6"><circle cx="292.8" cy="285.9" r="1.3"/><circle cx="291.5" cy="315.3" r="1.3"/><circle cx="292.6" cy="290.9" r="1.3"/><circle cx="288.6" cy="292.1" r="1.3"/><circle cx="292.2" cy="278.2" r="1.3"/><circle cx="289.6" cy="316.5" r="1.3"/><circle cx="292.7" cy="289.0" r="1.3"/><circle cx="292.0" cy="280.2" r="1.3"/><circle cx="292.9" cy="315.4" r="1.3"/><circle cx="291.8" cy="294.8" r="1.3"/><circle cx="290.0" cy="283.7" r="1.3"/><circle cx="290.7" cy="305.0" r="1.3"/><circle cx="292.0" cy="282.3" r="1.3"/><circle cx="288.3" cy="287.7" r="1.3"/><circle cx="290.7" cy="305.9" r="1.3"/><circle cx="290.9" cy="274.1" r="1.3"/><circle cx="291.6" cy="286.8" r="1.3"/><circle cx="289.8" cy="288.4" r="1.3"/><circle cx="291.1" cy="295.3" r="1.3"/><circle cx="291.7" cy="275.6" r="1.3"/><circle cx="290.0" cy="274.6" r="1.3"/><circle cx="291.5" cy="285.2" r="1.3"/><circle cx="292.6" cy="277.4" r="1.3"/><circle cx="289.9" cy="291.6" r="1.3"/><circle cx="290.7" cy="287.7" r="1.3"/><circle cx="290.5" cy="291.8" r="1.3"/><circle cx="292.2" cy="292.0" r="1.3"/><circle cx="289.4" cy="274.8" r="1.3"/><circle cx="289.5" cy="284.3" r="1.3"/><circle cx="290.0" cy="292.5" r="1.3"/><circle cx="291.3" cy="310.0" r="1.3"/><circle cx="288.8" cy="294.2" r="1.3"/><circle cx="292.9" cy="289.7" r="1.3"/><circle cx="290.6" cy="283.3" r="1.3"/><circle cx="291.7" cy="312.0" r="1.3"/><circle cx="290.1" cy="300.0" r="1.3"/><circle cx="288.2" cy="273.6" r="1.3"/><circle cx="290.0" cy="288.8" r="1.3"/><circle cx="290.9" cy="302.6" r="1.3"/><circle cx="288.5" cy="274.0" r="1.3"/><circle cx="293.0" cy="269.5" r="1.3"/><circle cx="291.0" cy="322.7" r="1.3"/><circle cx="289.1" cy="246.3" r="1.3"/></g>
<g fill="#4677BD" fill-opacity="0.6"><circle cx="311.7" cy="282.4" r="1.3"/><circle cx="310.9" cy="284.9" r="1.3"/><circle cx="312.2" cy="284.5" r="1.3"/><circle cx="313.1" cy="292.6" r="1.3"/><circle cx="310.2" cy="281.3" r="1.3"/><circle cx="312.7" cy="280.2" r="1.3"/><circle cx="309.6" cy="277.8" r="1.3"/><circle cx="311.7" cy="285.0" r="1.3"/><circle cx="308.5" cy="279.4" r="1.3"/><circle cx="312.6" cy="282.8" r="1.3"/><circle cx="310.7" cy="281.9" r="1.3"/><circle cx="310.7" cy="281.9" r="1.3"/><circle cx="310.9" cy="275.7" r="1.3"/><circle cx="310.3" cy="302.0" r="1.3"/><circle cx="311.1" cy="244.1" r="1.3"/></g>
<line x1="222.75" y1="269.50" x2="222.75" y2="283.40" stroke="#DA3328" stroke-width="0.8" stroke-opacity="0.8"/>
<line x1="222.75" y1="298.90" x2="222.75" y2="312.80" stroke="#DA3328" stroke-width="0.8" stroke-opacity="0.8"/>
<rect x="215.80" y="283.40" width="13.90" height="15.50" fill="#DA3328" fill-opacity="0.25" stroke="#DA3328" stroke-opacity="0.85" stroke-width="0.8"/>
<line x1="215.80" y1="291.10" x2="229.70" y2="291.10" stroke="#DA3328" stroke-width="1.2" stroke-opacity="1.0"/>
<line x1="243.20" y1="272.60" x2="243.20" y2="278.80" stroke="#4677BD" stroke-width="0.8" stroke-opacity="0.8"/>
<line x1="243.20" y1="290.50" x2="243.20" y2="302.00" stroke="#4677BD" stroke-width="0.8" stroke-opacity="0.8"/>
<rect x="235.90" y="278.80" width="14.60" height="11.70" fill="#4677BD" fill-opacity="0.25" stroke="#4677BD" stroke-opacity="0.85" stroke-width="0.8"/>
<line x1="235.90" y1="284.30" x2="250.50" y2="284.30" stroke="#4677BD" stroke-width="1.2" stroke-opacity="1.0"/>
<line x1="290.55" y1="269.50" x2="290.55" y2="280.90" stroke="#DA3328" stroke-width="0.8" stroke-opacity="0.8"/>
<line x1="290.55" y1="301.00" x2="290.55" y2="322.70" stroke="#DA3328" stroke-width="0.8" stroke-opacity="0.8"/>
<rect x="283.30" y="280.90" width="14.50" height="20.10" fill="#DA3328" fill-opacity="0.25" stroke="#DA3328" stroke-opacity="0.85" stroke-width="0.8"/>
<line x1="283.30" y1="289.60" x2="297.80" y2="289.60" stroke="#DA3328" stroke-width="1.2" stroke-opacity="1.0"/>
<line x1="310.95" y1="275.70" x2="310.95" y2="278.80" stroke="#4677BD" stroke-width="0.8" stroke-opacity="0.8"/>
<line x1="310.95" y1="290.50" x2="310.95" y2="302.00" stroke="#4677BD" stroke-width="0.8" stroke-opacity="0.8"/>
<rect x="304.00" y="278.80" width="13.90" height="11.70" fill="#4677BD" fill-opacity="0.25" stroke="#4677BD" stroke-opacity="0.85" stroke-width="0.8"/>
<line x1="304.00" y1="284.30" x2="317.90" y2="284.30" stroke="#4677BD" stroke-width="1.2" stroke-opacity="1.0"/>
<line x1="192.70" y1="214.40" x2="192.70" y2="329.80" stroke="#5c5c5c" stroke-width="1.0" stroke-opacity="1"/>
<line x1="192.20" y1="329.30" x2="340.70" y2="329.30" stroke="#5c5c5c" stroke-width="1.0" stroke-opacity="1"/>
<line x1="192.70" y1="220.30" x2="194.90" y2="220.30" stroke="#5c5c5c" stroke-width="0.8" stroke-opacity="1"/>
<text x="191.10" y="221.99" font-size="4.7" font-weight="normal" text-anchor="end" fill="#404040" stroke="#404040" stroke-width="0.2">160</text>
<line x1="192.70" y1="249.60" x2="194.90" y2="249.60" stroke="#5c5c5c" stroke-width="0.8" stroke-opacity="1"/>
<text x="191.10" y="251.29" font-size="4.7" font-weight="normal" text-anchor="end" fill="#404040" stroke="#404040" stroke-width="0.2">120</text>
<line x1="192.70" y1="278.50" x2="194.90" y2="278.50" stroke="#5c5c5c" stroke-width="0.8" stroke-opacity="1"/>
<text x="191.10" y="280.19" font-size="4.7" font-weight="normal" text-anchor="end" fill="#404040" stroke="#404040" stroke-width="0.2">80</text>
<line x1="192.70" y1="307.90" x2="194.90" y2="307.90" stroke="#5c5c5c" stroke-width="0.8" stroke-opacity="1"/>
<text x="191.10" y="309.59" font-size="4.7" font-weight="normal" text-anchor="end" fill="#404040" stroke="#404040" stroke-width="0.2">40</text>
<line x1="233.10" y1="329.30" x2="233.10" y2="326.70" stroke="#5c5c5c" stroke-width="1.0" stroke-opacity="1"/>
<line x1="300.30" y1="329.30" x2="300.30" y2="326.70" stroke="#5c5c5c" stroke-width="1.0" stroke-opacity="1"/>
<text x="234.50" y="333.90" font-size="5.5" font-weight="normal" text-anchor="end" fill="#333" stroke="#333" stroke-width="0.2" transform="rotate(-25 234.5 333.90000000000003)">D1 Ill vs D85 Not−Ill</text>
<text x="301.70" y="333.90" font-size="5.5" font-weight="normal" text-anchor="end" fill="#333" stroke="#333" stroke-width="0.2" transform="rotate(-25 301.7 333.90000000000003)">D15 Ill vs D85 Not−Ill</text>
<text x="233.20" y="221.40" font-size="6.4" font-weight="bold" text-anchor="middle" fill="#000" stroke="#000" stroke-width="0.12">FDR p = 0.224</text>
<text x="300.70" y="239.80" font-size="6.4" font-weight="bold" text-anchor="middle" fill="#000" stroke="#000" stroke-width="0.12">FDR p = 0.075</text>
<text x="434.05" y="209.30" font-size="7.15" font-weight="bold" text-anchor="middle" fill="#000" stroke="#000" stroke-width="0.12">1−2 years</text>
<g fill="#DA3328" fill-opacity="0.6"><circle cx="389.9" cy="281.4" r="1.3"/><circle cx="391.6" cy="301.0" r="1.3"/><circle cx="392.1" cy="273.6" r="1.3"/><circle cx="389.8" cy="273.5" r="1.3"/><circle cx="390.0" cy="272.3" r="1.3"/><circle cx="389.8" cy="312.3" r="1.3"/><circle cx="389.7" cy="274.9" r="1.3"/><circle cx="390.0" cy="290.6" r="1.3"/><circle cx="392.2" cy="260.4" r="1.3"/><circle cx="388.3" cy="268.9" r="1.3"/><circle cx="392.9" cy="258.9" r="1.3"/><circle cx="391.9" cy="285.8" r="1.3"/><circle cx="390.7" cy="286.2" r="1.3"/><circle cx="391.2" cy="286.2" r="1.3"/><circle cx="389.4" cy="292.6" r="1.3"/><circle cx="391.8" cy="271.8" r="1.3"/><circle cx="392.3" cy="300.1" r="1.3"/><circle cx="389.9" cy="282.9" r="1.3"/><circle cx="390.4" cy="273.2" r="1.3"/><circle cx="389.0" cy="285.7" r="1.3"/><circle cx="389.2" cy="279.8" r="1.3"/><circle cx="392.2" cy="274.4" r="1.3"/><circle cx="391.2" cy="285.9" r="1.3"/><circle cx="390.2" cy="260.1" r="1.3"/><circle cx="391.2" cy="284.4" r="1.3"/><circle cx="388.9" cy="270.7" r="1.3"/><circle cx="388.0" cy="293.8" r="1.3"/><circle cx="389.7" cy="275.5" r="1.3"/><circle cx="390.8" cy="271.5" r="1.3"/><circle cx="388.9" cy="269.7" r="1.3"/><circle cx="390.7" cy="244.5" r="1.3"/><circle cx="389.6" cy="250.3" r="1.3"/><circle cx="389.3" cy="284.7" r="1.3"/><circle cx="391.7" cy="270.8" r="1.3"/><circle cx="389.8" cy="294.5" r="1.3"/><circle cx="391.7" cy="305.9" r="1.3"/><circle cx="391.7" cy="266.8" r="1.3"/><circle cx="389.8" cy="244.3" r="1.3"/><circle cx="388.1" cy="297.2" r="1.3"/><circle cx="392.2" cy="287.0" r="1.3"/><circle cx="390.7" cy="302.4" r="1.3"/><circle cx="390.9" cy="282.0" r="1.3"/><circle cx="391.4" cy="282.2" r="1.3"/><circle cx="390.7" cy="260.5" r="1.3"/><circle cx="392.5" cy="302.5" r="1.3"/><circle cx="388.0" cy="279.0" r="1.3"/><circle cx="392.8" cy="299.0" r="1.3"/><circle cx="391.0" cy="278.3" r="1.3"/><circle cx="390.0" cy="265.9" r="1.3"/><circle cx="392.5" cy="288.4" r="1.3"/><circle cx="392.4" cy="293.3" r="1.3"/><circle cx="390.9" cy="268.6" r="1.3"/><circle cx="388.0" cy="286.4" r="1.3"/><circle cx="391.1" cy="294.1" r="1.3"/><circle cx="390.0" cy="278.1" r="1.3"/><circle cx="390.8" cy="261.4" r="1.3"/><circle cx="392.1" cy="283.1" r="1.3"/><circle cx="388.6" cy="269.0" r="1.3"/><circle cx="392.2" cy="237.4" r="1.3"/><circle cx="389.5" cy="284.1" r="1.3"/><circle cx="389.2" cy="260.5" r="1.3"/><circle cx="388.1" cy="287.6" r="1.3"/><circle cx="388.5" cy="291.2" r="1.3"/><circle cx="389.3" cy="279.3" r="1.3"/><circle cx="390.6" cy="245.2" r="1.3"/><circle cx="392.6" cy="294.0" r="1.3"/><circle cx="388.8" cy="236.2" r="1.3"/><circle cx="389.4" cy="295.9" r="1.3"/><circle cx="389.8" cy="271.0" r="1.3"/><circle cx="391.2" cy="276.7" r="1.3"/><circle cx="389.7" cy="279.7" r="1.3"/><circle cx="391.3" cy="258.9" r="1.3"/><circle cx="388.7" cy="275.2" r="1.3"/><circle cx="388.2" cy="278.7" r="1.3"/><circle cx="390.8" cy="261.1" r="1.3"/><circle cx="391.6" cy="310.5" r="1.3"/><circle cx="388.6" cy="292.4" r="1.3"/><circle cx="388.2" cy="280.0" r="1.3"/><circle cx="391.3" cy="283.2" r="1.3"/><circle cx="388.3" cy="247.4" r="1.3"/><circle cx="392.6" cy="267.1" r="1.3"/><circle cx="391.4" cy="256.7" r="1.3"/><circle cx="388.8" cy="301.9" r="1.3"/><circle cx="390.0" cy="293.6" r="1.3"/><circle cx="388.2" cy="279.8" r="1.3"/><circle cx="388.4" cy="254.3" r="1.3"/><circle cx="389.7" cy="242.9" r="1.3"/><circle cx="392.3" cy="263.9" r="1.3"/><circle cx="392.5" cy="254.3" r="1.3"/><circle cx="391.7" cy="279.2" r="1.3"/><circle cx="391.1" cy="243.9" r="1.3"/><circle cx="390.9" cy="280.9" r="1.3"/><circle cx="390.5" cy="276.8" r="1.3"/><circle cx="391.2" cy="259.4" r="1.3"/><circle cx="390.4" cy="281.0" r="1.3"/><circle cx="389.9" cy="258.1" r="1.3"/><circle cx="392.1" cy="269.0" r="1.3"/><circle cx="389.5" cy="260.1" r="1.3"/><circle cx="390.0" cy="306.7" r="1.3"/><circle cx="391.3" cy="248.6" r="1.3"/><circle cx="392.8" cy="281.1" r="1.3"/><circle cx="389.7" cy="258.0" r="1.3"/><circle cx="390.1" cy="265.1" r="1.3"/><circle cx="390.0" cy="291.2" r="1.3"/><circle cx="389.0" cy="274.2" r="1.3"/><circle cx="389.7" cy="275.2" r="1.3"/><circle cx="391.9" cy="231.5" r="1.3"/><circle cx="388.9" cy="264.8" r="1.3"/><circle cx="390.3" cy="307.1" r="1.3"/><circle cx="389.4" cy="290.7" r="1.3"/><circle cx="390.8" cy="246.0" r="1.3"/><circle cx="391.8" cy="272.8" r="1.3"/><circle cx="388.5" cy="245.1" r="1.3"/><circle cx="390.4" cy="278.9" r="1.3"/><circle cx="388.9" cy="256.3" r="1.3"/><circle cx="391.2" cy="299.9" r="1.3"/><circle cx="391.3" cy="298.1" r="1.3"/><circle cx="389.1" cy="295.4" r="1.3"/><circle cx="389.1" cy="254.8" r="1.3"/><circle cx="389.5" cy="282.1" r="1.3"/><circle cx="389.6" cy="295.5" r="1.3"/><circle cx="392.4" cy="258.4" r="1.3"/><circle cx="392.3" cy="276.8" r="1.3"/><circle cx="391.9" cy="255.0" r="1.3"/><circle cx="389.9" cy="279.7" r="1.3"/><circle cx="390.2" cy="299.1" r="1.3"/><circle cx="389.0" cy="274.9" r="1.3"/><circle cx="390.3" cy="310.4" r="1.3"/><circle cx="392.7" cy="271.7" r="1.3"/><circle cx="388.4" cy="289.7" r="1.3"/><circle cx="389.9" cy="301.3" r="1.3"/><circle cx="388.9" cy="257.5" r="1.3"/><circle cx="392.2" cy="292.1" r="1.3"/><circle cx="389.5" cy="246.3" r="1.3"/><circle cx="390.4" cy="265.1" r="1.3"/><circle cx="388.2" cy="268.5" r="1.3"/><circle cx="391.4" cy="299.6" r="1.3"/><circle cx="390.5" cy="253.1" r="1.3"/><circle cx="392.0" cy="297.3" r="1.3"/><circle cx="391.6" cy="247.9" r="1.3"/><circle cx="391.7" cy="279.4" r="1.3"/><circle cx="389.3" cy="290.5" r="1.3"/><circle cx="389.2" cy="278.2" r="1.3"/><circle cx="390.9" cy="309.8" r="1.3"/><circle cx="388.2" cy="279.5" r="1.3"/><circle cx="392.6" cy="248.2" r="1.3"/><circle cx="391.6" cy="273.8" r="1.3"/><circle cx="390.4" cy="293.6" r="1.3"/><circle cx="389.8" cy="239.3" r="1.3"/><circle cx="388.3" cy="231.0" r="1.3"/><circle cx="390.7" cy="229.3" r="1.3"/><circle cx="391.8" cy="314.3" r="1.3"/></g>
<g fill="#4677BD" fill-opacity="0.6"><circle cx="409.9" cy="271.8" r="1.3"/><circle cx="408.7" cy="271.1" r="1.3"/><circle cx="410.2" cy="254.6" r="1.3"/><circle cx="408.7" cy="243.0" r="1.3"/><circle cx="411.6" cy="270.0" r="1.3"/><circle cx="412.3" cy="243.8" r="1.3"/><circle cx="409.5" cy="258.9" r="1.3"/><circle cx="408.3" cy="252.8" r="1.3"/><circle cx="412.7" cy="291.5" r="1.3"/><circle cx="408.3" cy="245.0" r="1.3"/><circle cx="411.1" cy="252.2" r="1.3"/><circle cx="411.7" cy="279.6" r="1.3"/><circle cx="410.3" cy="235.4" r="1.3"/><circle cx="412.4" cy="271.3" r="1.3"/><circle cx="408.6" cy="249.7" r="1.3"/><circle cx="411.5" cy="238.8" r="1.3"/><circle cx="412.4" cy="262.6" r="1.3"/><circle cx="412.4" cy="260.2" r="1.3"/><circle cx="412.1" cy="261.5" r="1.3"/><circle cx="410.1" cy="273.8" r="1.3"/><circle cx="410.5" cy="243.6" r="1.3"/><circle cx="412.1" cy="290.1" r="1.3"/><circle cx="409.8" cy="305.0" r="1.3"/><circle cx="409.2" cy="233.1" r="1.3"/><circle cx="408.1" cy="252.1" r="1.3"/><circle cx="408.9" cy="261.6" r="1.3"/><circle cx="408.6" cy="236.0" r="1.3"/><circle cx="412.5" cy="270.6" r="1.3"/><circle cx="409.4" cy="259.9" r="1.3"/><circle cx="409.7" cy="257.5" r="1.3"/><circle cx="412.8" cy="276.4" r="1.3"/><circle cx="411.4" cy="254.3" r="1.3"/><circle cx="410.1" cy="252.9" r="1.3"/><circle cx="408.4" cy="276.7" r="1.3"/><circle cx="409.7" cy="265.7" r="1.3"/><circle cx="409.4" cy="277.7" r="1.3"/><circle cx="412.6" cy="291.3" r="1.3"/><circle cx="410.0" cy="242.3" r="1.3"/><circle cx="412.8" cy="271.1" r="1.3"/><circle cx="409.3" cy="294.1" r="1.3"/><circle cx="408.1" cy="265.7" r="1.3"/><circle cx="412.4" cy="263.1" r="1.3"/><circle cx="408.3" cy="274.3" r="1.3"/><circle cx="411.8" cy="276.8" r="1.3"/><circle cx="410.9" cy="268.3" r="1.3"/><circle cx="409.3" cy="227.5" r="1.3"/><circle cx="412.1" cy="305.0" r="1.3"/></g>
<g fill="#DA3328" fill-opacity="0.6"><circle cx="459.5" cy="234.1" r="1.3"/><circle cx="459.0" cy="301.1" r="1.3"/><circle cx="456.5" cy="239.9" r="1.3"/><circle cx="457.9" cy="263.2" r="1.3"/><circle cx="460.1" cy="294.4" r="1.3"/><circle cx="456.4" cy="270.6" r="1.3"/><circle cx="457.3" cy="267.8" r="1.3"/><circle cx="458.6" cy="252.3" r="1.3"/><circle cx="460.5" cy="275.5" r="1.3"/><circle cx="455.7" cy="274.5" r="1.3"/><circle cx="459.0" cy="266.7" r="1.3"/><circle cx="457.9" cy="251.2" r="1.3"/><circle cx="458.2" cy="280.5" r="1.3"/><circle cx="459.8" cy="285.5" r="1.3"/><circle cx="456.0" cy="299.4" r="1.3"/><circle cx="458.5" cy="287.4" r="1.3"/><circle cx="457.1" cy="306.7" r="1.3"/><circle cx="459.3" cy="300.5" r="1.3"/><circle cx="459.1" cy="309.4" r="1.3"/><circle cx="457.6" cy="275.7" r="1.3"/><circle cx="456.3" cy="259.9" r="1.3"/><circle cx="459.4" cy="285.8" r="1.3"/><circle cx="459.1" cy="295.9" r="1.3"/><circle cx="458.4" cy="251.4" r="1.3"/><circle cx="459.3" cy="256.7" r="1.3"/><circle cx="460.3" cy="290.7" r="1.3"/><circle cx="456.8" cy="268.2" r="1.3"/><circle cx="459.0" cy="305.5" r="1.3"/><circle cx="459.6" cy="281.6" r="1.3"/><circle cx="456.9" cy="268.2" r="1.3"/><circle cx="460.1" cy="255.1" r="1.3"/><circle cx="457.1" cy="289.0" r="1.3"/><circle cx="460.3" cy="248.5" r="1.3"/><circle cx="458.5" cy="255.6" r="1.3"/><circle cx="460.4" cy="255.4" r="1.3"/><circle cx="460.0" cy="310.2" r="1.3"/><circle cx="459.5" cy="310.2" r="1.3"/><circle cx="457.4" cy="273.8" r="1.3"/><circle cx="457.8" cy="271.0" r="1.3"/><circle cx="458.5" cy="290.9" r="1.3"/><circle cx="459.6" cy="301.4" r="1.3"/><circle cx="457.6" cy="263.9" r="1.3"/><circle cx="460.0" cy="319.8" r="1.3"/><circle cx="456.6" cy="274.0" r="1.3"/><circle cx="458.2" cy="299.2" r="1.3"/><circle cx="456.3" cy="237.7" r="1.3"/><circle cx="456.4" cy="276.6" r="1.3"/><circle cx="457.0" cy="265.8" r="1.3"/><circle cx="455.8" cy="315.6" r="1.3"/><circle cx="458.4" cy="273.9" r="1.3"/><circle cx="458.7" cy="256.0" r="1.3"/><circle cx="457.5" cy="314.9" r="1.3"/><circle cx="459.5" cy="266.0" r="1.3"/><circle cx="458.3" cy="277.4" r="1.3"/><circle cx="459.0" cy="256.4" r="1.3"/><circle cx="456.0" cy="290.5" r="1.3"/><circle cx="457.2" cy="281.2" r="1.3"/><circle cx="455.7" cy="272.6" r="1.3"/><circle cx="456.3" cy="270.7" r="1.3"/><circle cx="459.8" cy="267.9" r="1.3"/><circle cx="456.2" cy="265.4" r="1.3"/><circle cx="458.5" cy="253.8" r="1.3"/><circle cx="457.4" cy="300.6" r="1.3"/><circle cx="458.9" cy="294.6" r="1.3"/><circle cx="459.9" cy="254.1" r="1.3"/><circle cx="459.7" cy="257.9" r="1.3"/><circle cx="460.4" cy="285.3" r="1.3"/><circle cx="460.4" cy="321.0" r="1.3"/><circle cx="457.5" cy="274.0" r="1.3"/><circle cx="460.5" cy="272.2" r="1.3"/><circle cx="459.4" cy="273.2" r="1.3"/><circle cx="456.9" cy="282.3" r="1.3"/><circle cx="457.2" cy="274.5" r="1.3"/><circle cx="458.2" cy="298.3" r="1.3"/><circle cx="459.8" cy="296.4" r="1.3"/><circle cx="456.0" cy="288.1" r="1.3"/><circle cx="460.0" cy="307.7" r="1.3"/><circle cx="458.9" cy="273.6" r="1.3"/><circle cx="458.5" cy="268.2" r="1.3"/><circle cx="457.6" cy="245.0" r="1.3"/><circle cx="457.5" cy="251.2" r="1.3"/><circle cx="457.6" cy="237.8" r="1.3"/><circle cx="459.1" cy="284.3" r="1.3"/><circle cx="457.8" cy="259.5" r="1.3"/><circle cx="459.1" cy="297.9" r="1.3"/><circle cx="459.9" cy="242.2" r="1.3"/><circle cx="456.0" cy="275.2" r="1.3"/><circle cx="455.6" cy="270.9" r="1.3"/><circle cx="460.3" cy="259.3" r="1.3"/><circle cx="456.5" cy="298.9" r="1.3"/><circle cx="459.6" cy="270.8" r="1.3"/><circle cx="457.6" cy="286.1" r="1.3"/><circle cx="456.7" cy="268.6" r="1.3"/><circle cx="455.6" cy="280.4" r="1.3"/><circle cx="457.7" cy="269.9" r="1.3"/><circle cx="458.5" cy="278.9" r="1.3"/><circle cx="455.8" cy="275.8" r="1.3"/><circle cx="455.6" cy="266.0" r="1.3"/><circle cx="457.0" cy="285.9" r="1.3"/><circle cx="460.0" cy="274.4" r="1.3"/><circle cx="459.3" cy="261.2" r="1.3"/><circle cx="456.8" cy="259.8" r="1.3"/><circle cx="457.6" cy="286.0" r="1.3"/><circle cx="457.6" cy="303.0" r="1.3"/><circle cx="459.1" cy="255.4" r="1.3"/><circle cx="457.0" cy="270.4" r="1.3"/><circle cx="457.3" cy="286.1" r="1.3"/><circle cx="458.1" cy="297.5" r="1.3"/><circle cx="456.7" cy="291.2" r="1.3"/><circle cx="457.7" cy="257.5" r="1.3"/><circle cx="459.3" cy="278.2" r="1.3"/><circle cx="458.1" cy="294.7" r="1.3"/><circle cx="455.8" cy="282.1" r="1.3"/><circle cx="457.3" cy="273.7" r="1.3"/><circle cx="458.4" cy="257.6" r="1.3"/><circle cx="456.7" cy="280.7" r="1.3"/><circle cx="457.5" cy="276.4" r="1.3"/><circle cx="458.3" cy="278.1" r="1.3"/><circle cx="457.4" cy="306.4" r="1.3"/><circle cx="456.5" cy="300.3" r="1.3"/><circle cx="459.9" cy="264.1" r="1.3"/><circle cx="455.9" cy="281.9" r="1.3"/><circle cx="460.1" cy="272.3" r="1.3"/><circle cx="456.0" cy="279.4" r="1.3"/><circle cx="458.3" cy="308.9" r="1.3"/><circle cx="458.3" cy="295.1" r="1.3"/><circle cx="457.6" cy="278.3" r="1.3"/><circle cx="458.7" cy="266.4" r="1.3"/><circle cx="460.0" cy="274.7" r="1.3"/><circle cx="457.1" cy="284.5" r="1.3"/><circle cx="455.9" cy="269.1" r="1.3"/><circle cx="456.5" cy="298.6" r="1.3"/><circle cx="459.9" cy="277.9" r="1.3"/><circle cx="458.5" cy="257.6" r="1.3"/><circle cx="459.3" cy="316.8" r="1.3"/><circle cx="457.5" cy="272.9" r="1.3"/><circle cx="457.2" cy="275.4" r="1.3"/><circle cx="459.0" cy="296.5" r="1.3"/><circle cx="458.4" cy="298.9" r="1.3"/><circle cx="460.1" cy="305.5" r="1.3"/><circle cx="456.4" cy="307.4" r="1.3"/><circle cx="457.3" cy="283.6" r="1.3"/><circle cx="459.0" cy="279.7" r="1.3"/><circle cx="460.1" cy="297.0" r="1.3"/><circle cx="457.9" cy="277.0" r="1.3"/><circle cx="459.5" cy="256.3" r="1.3"/><circle cx="456.1" cy="269.8" r="1.3"/><circle cx="458.7" cy="290.2" r="1.3"/><circle cx="457.2" cy="289.2" r="1.3"/><circle cx="459.0" cy="258.9" r="1.3"/><circle cx="457.0" cy="233.0" r="1.3"/><circle cx="456.5" cy="323.0" r="1.3"/></g>
<g fill="#4677BD" fill-opacity="0.6"><circle cx="479.5" cy="293.2" r="1.3"/><circle cx="478.0" cy="259.5" r="1.3"/><circle cx="475.9" cy="303.0" r="1.3"/><circle cx="477.4" cy="253.2" r="1.3"/><circle cx="479.7" cy="257.1" r="1.3"/><circle cx="477.8" cy="268.0" r="1.3"/><circle cx="477.6" cy="270.2" r="1.3"/><circle cx="478.8" cy="249.2" r="1.3"/><circle cx="475.8" cy="258.8" r="1.3"/><circle cx="478.8" cy="241.1" r="1.3"/><circle cx="479.0" cy="258.7" r="1.3"/><circle cx="476.2" cy="265.4" r="1.3"/><circle cx="477.7" cy="269.3" r="1.3"/><circle cx="479.9" cy="304.3" r="1.3"/><circle cx="476.9" cy="276.2" r="1.3"/><circle cx="478.3" cy="274.1" r="1.3"/><circle cx="477.3" cy="240.6" r="1.3"/><circle cx="478.4" cy="265.0" r="1.3"/><circle cx="477.6" cy="263.2" r="1.3"/><circle cx="477.3" cy="243.7" r="1.3"/><circle cx="480.2" cy="281.3" r="1.3"/><circle cx="479.1" cy="280.1" r="1.3"/><circle cx="480.6" cy="282.6" r="1.3"/><circle cx="477.3" cy="289.8" r="1.3"/><circle cx="477.9" cy="260.8" r="1.3"/><circle cx="477.4" cy="287.5" r="1.3"/><circle cx="479.9" cy="247.5" r="1.3"/><circle cx="477.4" cy="267.7" r="1.3"/><circle cx="479.0" cy="280.9" r="1.3"/><circle cx="476.5" cy="295.8" r="1.3"/><circle cx="478.3" cy="257.7" r="1.3"/><circle cx="476.9" cy="257.6" r="1.3"/><circle cx="480.2" cy="275.0" r="1.3"/><circle cx="477.4" cy="261.7" r="1.3"/><circle cx="480.4" cy="266.7" r="1.3"/><circle cx="478.4" cy="283.3" r="1.3"/><circle cx="477.3" cy="248.3" r="1.3"/><circle cx="478.4" cy="285.1" r="1.3"/><circle cx="480.3" cy="272.7" r="1.3"/><circle cx="479.1" cy="258.1" r="1.3"/><circle cx="479.7" cy="238.8" r="1.3"/><circle cx="478.4" cy="251.0" r="1.3"/><circle cx="478.7" cy="262.4" r="1.3"/><circle cx="476.3" cy="286.6" r="1.3"/><circle cx="479.8" cy="281.0" r="1.3"/><circle cx="478.8" cy="227.5" r="1.3"/><circle cx="478.8" cy="305.0" r="1.3"/></g>
<line x1="390.45" y1="229.30" x2="390.45" y2="264.20" stroke="#DA3328" stroke-width="0.8" stroke-opacity="0.8"/>
<line x1="390.45" y1="288.50" x2="390.45" y2="314.30" stroke="#DA3328" stroke-width="0.8" stroke-opacity="0.8"/>
<rect x="383.40" y="264.20" width="14.10" height="24.30" fill="#DA3328" fill-opacity="0.25" stroke="#DA3328" stroke-opacity="0.85" stroke-width="0.8"/>
<line x1="383.40" y1="278.60" x2="397.50" y2="278.60" stroke="#DA3328" stroke-width="1.2" stroke-opacity="1.0"/>
<line x1="410.40" y1="227.50" x2="410.40" y2="250.10" stroke="#4677BD" stroke-width="0.8" stroke-opacity="0.8"/>
<line x1="410.40" y1="280.30" x2="410.40" y2="305.00" stroke="#4677BD" stroke-width="0.8" stroke-opacity="0.8"/>
<rect x="403.40" y="250.10" width="14.00" height="30.20" fill="#4677BD" fill-opacity="0.25" stroke="#4677BD" stroke-opacity="0.85" stroke-width="0.8"/>
<line x1="403.40" y1="263.30" x2="417.40" y2="263.30" stroke="#4677BD" stroke-width="1.2" stroke-opacity="1.0"/>
<line x1="458.05" y1="233.00" x2="458.05" y2="266.20" stroke="#DA3328" stroke-width="0.8" stroke-opacity="0.8"/>
<line x1="458.05" y1="290.40" x2="458.05" y2="323.00" stroke="#DA3328" stroke-width="0.8" stroke-opacity="0.8"/>
<rect x="451.10" y="266.20" width="13.90" height="24.20" fill="#DA3328" fill-opacity="0.25" stroke="#DA3328" stroke-opacity="0.85" stroke-width="0.8"/>
<line x1="451.10" y1="277.50" x2="465.00" y2="277.50" stroke="#DA3328" stroke-width="1.2" stroke-opacity="1.0"/>
<line x1="478.10" y1="227.50" x2="478.10" y2="250.10" stroke="#4677BD" stroke-width="0.8" stroke-opacity="0.8"/>
<line x1="478.10" y1="280.10" x2="478.10" y2="305.00" stroke="#4677BD" stroke-width="0.8" stroke-opacity="0.8"/>
<rect x="471.20" y="250.10" width="13.80" height="30.00" fill="#4677BD" fill-opacity="0.25" stroke="#4677BD" stroke-opacity="0.85" stroke-width="0.8"/>
<line x1="471.20" y1="263.30" x2="485.00" y2="263.30" stroke="#4677BD" stroke-width="1.2" stroke-opacity="1.0"/>
<line x1="360.00" y1="214.40" x2="360.00" y2="329.90" stroke="#5c5c5c" stroke-width="1.0" stroke-opacity="1"/>
<line x1="359.50" y1="329.40" x2="508.10" y2="329.40" stroke="#5c5c5c" stroke-width="1.0" stroke-opacity="1"/>
<line x1="360.00" y1="216.40" x2="362.20" y2="216.40" stroke="#5c5c5c" stroke-width="0.8" stroke-opacity="1"/>
<text x="358.40" y="218.09" font-size="4.7" font-weight="normal" text-anchor="end" fill="#404040" stroke="#404040" stroke-width="0.2">160</text>
<line x1="360.00" y1="248.40" x2="362.20" y2="248.40" stroke="#5c5c5c" stroke-width="0.8" stroke-opacity="1"/>
<text x="358.40" y="250.09" font-size="4.7" font-weight="normal" text-anchor="end" fill="#404040" stroke="#404040" stroke-width="0.2">120</text>
<line x1="360.00" y1="280.30" x2="362.20" y2="280.30" stroke="#5c5c5c" stroke-width="0.8" stroke-opacity="1"/>
<text x="358.40" y="281.99" font-size="4.7" font-weight="normal" text-anchor="end" fill="#404040" stroke="#404040" stroke-width="0.2">80</text>
<line x1="360.00" y1="312.30" x2="362.20" y2="312.30" stroke="#5c5c5c" stroke-width="0.8" stroke-opacity="1"/>
<text x="358.40" y="313.99" font-size="4.7" font-weight="normal" text-anchor="end" fill="#404040" stroke="#404040" stroke-width="0.2">40</text>
<line x1="400.60" y1="329.40" x2="400.60" y2="326.80" stroke="#5c5c5c" stroke-width="1.0" stroke-opacity="1"/>
<line x1="467.70" y1="329.40" x2="467.70" y2="326.80" stroke="#5c5c5c" stroke-width="1.0" stroke-opacity="1"/>
<text x="402.00" y="334.00" font-size="5.5" font-weight="normal" text-anchor="end" fill="#333" stroke="#333" stroke-width="0.2" transform="rotate(-25 402.0 334.0)">D1 Ill vs D85 Not−Ill</text>
<text x="469.10" y="334.00" font-size="5.5" font-weight="normal" text-anchor="end" fill="#333" stroke="#333" stroke-width="0.2" transform="rotate(-25 469.09999999999997 334.0)">D15 Ill vs D85 Not−Ill</text>
<text x="400.60" y="221.40" font-size="6.4" font-weight="bold" text-anchor="middle" fill="#000" stroke="#000" stroke-width="0.12">FDR p = 3.28e−04</text>
<text x="467.70" y="221.40" font-size="6.4" font-weight="bold" text-anchor="middle" fill="#000" stroke="#000" stroke-width="0.12">FDR p = 1.38e−04</text>
<text x="601.60" y="209.30" font-size="7.15" font-weight="bold" text-anchor="middle" fill="#000" stroke="#000" stroke-width="0.12">>2 years</text>
<g fill="#DA3328" fill-opacity="0.6"><circle cx="559.8" cy="245.4" r="1.3"/><circle cx="559.7" cy="286.8" r="1.3"/><circle cx="555.9" cy="241.2" r="1.3"/><circle cx="555.2" cy="251.2" r="1.3"/><circle cx="557.3" cy="289.2" r="1.3"/><circle cx="558.8" cy="252.1" r="1.3"/><circle cx="557.8" cy="241.8" r="1.3"/><circle cx="559.9" cy="229.2" r="1.3"/><circle cx="560.0" cy="248.7" r="1.3"/><circle cx="558.5" cy="240.3" r="1.3"/><circle cx="556.4" cy="297.0" r="1.3"/><circle cx="557.1" cy="244.9" r="1.3"/><circle cx="555.4" cy="246.2" r="1.3"/><circle cx="557.1" cy="240.2" r="1.3"/><circle cx="558.9" cy="249.0" r="1.3"/><circle cx="556.7" cy="253.3" r="1.3"/><circle cx="556.0" cy="283.5" r="1.3"/><circle cx="557.8" cy="236.4" r="1.3"/><circle cx="559.6" cy="240.4" r="1.3"/><circle cx="558.3" cy="244.5" r="1.3"/><circle cx="555.7" cy="254.7" r="1.3"/><circle cx="557.3" cy="250.6" r="1.3"/><circle cx="556.2" cy="244.7" r="1.3"/><circle cx="559.2" cy="262.6" r="1.3"/><circle cx="557.2" cy="243.1" r="1.3"/><circle cx="557.3" cy="245.1" r="1.3"/><circle cx="559.5" cy="230.0" r="1.3"/><circle cx="556.6" cy="234.8" r="1.3"/><circle cx="557.3" cy="247.5" r="1.3"/><circle cx="560.0" cy="258.8" r="1.3"/><circle cx="556.6" cy="292.9" r="1.3"/><circle cx="557.8" cy="256.6" r="1.3"/><circle cx="558.3" cy="238.5" r="1.3"/><circle cx="556.8" cy="257.7" r="1.3"/><circle cx="558.2" cy="262.9" r="1.3"/><circle cx="557.2" cy="255.1" r="1.3"/><circle cx="559.3" cy="297.8" r="1.3"/><circle cx="557.9" cy="253.5" r="1.3"/><circle cx="558.7" cy="270.9" r="1.3"/><circle cx="558.0" cy="258.7" r="1.3"/><circle cx="558.6" cy="235.4" r="1.3"/><circle cx="557.0" cy="257.9" r="1.3"/><circle cx="555.8" cy="258.5" r="1.3"/><circle cx="556.9" cy="283.0" r="1.3"/><circle cx="556.7" cy="227.4" r="1.3"/><circle cx="555.2" cy="267.9" r="1.3"/><circle cx="558.9" cy="263.0" r="1.3"/><circle cx="557.7" cy="267.1" r="1.3"/><circle cx="557.5" cy="263.7" r="1.3"/><circle cx="558.6" cy="254.5" r="1.3"/><circle cx="555.4" cy="258.4" r="1.3"/><circle cx="555.7" cy="259.2" r="1.3"/><circle cx="558.7" cy="242.8" r="1.3"/><circle cx="555.3" cy="252.5" r="1.3"/><circle cx="559.4" cy="227.7" r="1.3"/><circle cx="557.6" cy="254.6" r="1.3"/><circle cx="559.9" cy="250.3" r="1.3"/><circle cx="559.4" cy="230.0" r="1.3"/><circle cx="557.1" cy="239.2" r="1.3"/><circle cx="556.8" cy="240.5" r="1.3"/><circle cx="557.3" cy="239.3" r="1.3"/><circle cx="558.9" cy="230.2" r="1.3"/><circle cx="557.4" cy="270.9" r="1.3"/><circle cx="558.7" cy="240.6" r="1.3"/><circle cx="560.1" cy="250.6" r="1.3"/><circle cx="558.8" cy="237.6" r="1.3"/><circle cx="557.7" cy="253.9" r="1.3"/><circle cx="558.8" cy="265.3" r="1.3"/><circle cx="557.6" cy="282.2" r="1.3"/><circle cx="558.0" cy="268.7" r="1.3"/><circle cx="557.2" cy="235.8" r="1.3"/><circle cx="559.8" cy="274.6" r="1.3"/><circle cx="560.0" cy="254.7" r="1.3"/><circle cx="557.9" cy="254.4" r="1.3"/><circle cx="557.9" cy="245.9" r="1.3"/><circle cx="555.6" cy="232.2" r="1.3"/><circle cx="557.9" cy="252.6" r="1.3"/><circle cx="559.7" cy="241.1" r="1.3"/><circle cx="556.3" cy="250.6" r="1.3"/><circle cx="559.0" cy="285.8" r="1.3"/><circle cx="556.4" cy="256.8" r="1.3"/><circle cx="558.7" cy="267.5" r="1.3"/><circle cx="556.5" cy="277.8" r="1.3"/><circle cx="558.1" cy="231.2" r="1.3"/><circle cx="559.0" cy="249.9" r="1.3"/><circle cx="555.3" cy="296.4" r="1.3"/><circle cx="559.3" cy="289.8" r="1.3"/><circle cx="557.7" cy="252.9" r="1.3"/><circle cx="556.3" cy="266.6" r="1.3"/><circle cx="556.6" cy="283.9" r="1.3"/><circle cx="557.9" cy="237.7" r="1.3"/><circle cx="558.8" cy="275.8" r="1.3"/><circle cx="556.0" cy="248.7" r="1.3"/><circle cx="555.5" cy="239.7" r="1.3"/><circle cx="556.3" cy="274.6" r="1.3"/><circle cx="558.3" cy="248.5" r="1.3"/><circle cx="557.1" cy="231.7" r="1.3"/><circle cx="558.9" cy="260.1" r="1.3"/><circle cx="558.7" cy="279.1" r="1.3"/><circle cx="556.9" cy="289.5" r="1.3"/><circle cx="558.0" cy="238.9" r="1.3"/><circle cx="555.8" cy="291.3" r="1.3"/><circle cx="558.1" cy="259.9" r="1.3"/><circle cx="558.3" cy="261.8" r="1.3"/><circle cx="556.3" cy="244.6" r="1.3"/><circle cx="558.4" cy="247.7" r="1.3"/><circle cx="555.8" cy="244.6" r="1.3"/><circle cx="560.0" cy="258.5" r="1.3"/><circle cx="557.8" cy="249.6" r="1.3"/><circle cx="559.7" cy="230.8" r="1.3"/><circle cx="558.4" cy="250.4" r="1.3"/><circle cx="556.2" cy="246.4" r="1.3"/><circle cx="558.8" cy="279.8" r="1.3"/><circle cx="558.2" cy="261.4" r="1.3"/><circle cx="557.0" cy="282.2" r="1.3"/><circle cx="558.6" cy="269.6" r="1.3"/><circle cx="558.9" cy="243.9" r="1.3"/><circle cx="558.5" cy="266.0" r="1.3"/><circle cx="556.2" cy="234.8" r="1.3"/><circle cx="559.9" cy="264.9" r="1.3"/><circle cx="559.6" cy="238.6" r="1.3"/><circle cx="557.3" cy="252.0" r="1.3"/><circle cx="559.7" cy="260.5" r="1.3"/><circle cx="560.1" cy="247.4" r="1.3"/><circle cx="556.8" cy="233.5" r="1.3"/><circle cx="556.1" cy="242.1" r="1.3"/><circle cx="556.3" cy="240.9" r="1.3"/><circle cx="557.5" cy="266.4" r="1.3"/><circle cx="555.8" cy="247.8" r="1.3"/><circle cx="556.3" cy="261.3" r="1.3"/><circle cx="558.8" cy="287.1" r="1.3"/><circle cx="555.2" cy="246.2" r="1.3"/><circle cx="558.2" cy="301.7" r="1.3"/><circle cx="557.1" cy="228.7" r="1.3"/><circle cx="558.7" cy="245.8" r="1.3"/><circle cx="556.4" cy="258.0" r="1.3"/><circle cx="557.5" cy="237.1" r="1.3"/><circle cx="556.2" cy="254.4" r="1.3"/><circle cx="555.2" cy="234.7" r="1.3"/><circle cx="559.4" cy="277.2" r="1.3"/><circle cx="556.9" cy="253.3" r="1.3"/><circle cx="556.6" cy="257.3" r="1.3"/><circle cx="559.8" cy="269.9" r="1.3"/><circle cx="557.0" cy="260.6" r="1.3"/><circle cx="557.8" cy="244.4" r="1.3"/><circle cx="555.8" cy="251.5" r="1.3"/><circle cx="557.2" cy="242.3" r="1.3"/><circle cx="559.5" cy="240.1" r="1.3"/><circle cx="559.2" cy="266.0" r="1.3"/><circle cx="559.2" cy="254.1" r="1.3"/><circle cx="559.7" cy="225.5" r="1.3"/><circle cx="556.3" cy="303.3" r="1.3"/></g>
<g fill="#4677BD" fill-opacity="0.6"><circle cx="579.4" cy="284.4" r="1.3"/><circle cx="576.7" cy="261.8" r="1.3"/><circle cx="580.3" cy="256.3" r="1.3"/><circle cx="575.8" cy="241.2" r="1.3"/><circle cx="576.3" cy="236.4" r="1.3"/><circle cx="578.5" cy="235.5" r="1.3"/><circle cx="578.9" cy="272.7" r="1.3"/><circle cx="578.6" cy="257.8" r="1.3"/><circle cx="580.2" cy="275.8" r="1.3"/><circle cx="576.6" cy="245.5" r="1.3"/><circle cx="575.8" cy="258.0" r="1.3"/><circle cx="578.2" cy="255.2" r="1.3"/><circle cx="577.3" cy="242.9" r="1.3"/><circle cx="577.5" cy="262.2" r="1.3"/><circle cx="577.5" cy="236.5" r="1.3"/><circle cx="580.0" cy="260.6" r="1.3"/><circle cx="577.0" cy="256.0" r="1.3"/><circle cx="579.0" cy="262.2" r="1.3"/><circle cx="578.4" cy="248.2" r="1.3"/><circle cx="577.0" cy="238.3" r="1.3"/><circle cx="580.1" cy="238.7" r="1.3"/><circle cx="576.8" cy="247.3" r="1.3"/><circle cx="577.1" cy="252.5" r="1.3"/><circle cx="576.5" cy="263.4" r="1.3"/><circle cx="579.1" cy="254.9" r="1.3"/><circle cx="579.0" cy="235.7" r="1.3"/><circle cx="577.4" cy="272.9" r="1.3"/><circle cx="576.1" cy="281.1" r="1.3"/><circle cx="578.5" cy="260.3" r="1.3"/><circle cx="577.2" cy="263.4" r="1.3"/><circle cx="578.3" cy="265.2" r="1.3"/><circle cx="578.8" cy="271.3" r="1.3"/><circle cx="575.6" cy="254.2" r="1.3"/><circle cx="575.8" cy="249.4" r="1.3"/><circle cx="579.6" cy="276.5" r="1.3"/><circle cx="579.9" cy="241.6" r="1.3"/><circle cx="576.0" cy="262.0" r="1.3"/><circle cx="576.7" cy="238.2" r="1.3"/><circle cx="577.7" cy="246.6" r="1.3"/><circle cx="579.7" cy="256.4" r="1.3"/><circle cx="577.1" cy="250.8" r="1.3"/><circle cx="580.3" cy="287.0" r="1.3"/><circle cx="576.0" cy="245.6" r="1.3"/><circle cx="580.1" cy="288.4" r="1.3"/><circle cx="575.8" cy="272.2" r="1.3"/><circle cx="578.6" cy="264.6" r="1.3"/><circle cx="580.4" cy="267.0" r="1.3"/><circle cx="579.2" cy="260.7" r="1.3"/><circle cx="580.1" cy="241.0" r="1.3"/><circle cx="577.3" cy="253.6" r="1.3"/><circle cx="580.3" cy="256.9" r="1.3"/><circle cx="580.1" cy="232.8" r="1.3"/><circle cx="576.9" cy="249.1" r="1.3"/><circle cx="579.4" cy="256.6" r="1.3"/><circle cx="580.1" cy="266.0" r="1.3"/><circle cx="576.6" cy="246.6" r="1.3"/><circle cx="577.5" cy="245.8" r="1.3"/><circle cx="579.4" cy="261.1" r="1.3"/><circle cx="578.4" cy="245.7" r="1.3"/><circle cx="580.1" cy="257.7" r="1.3"/><circle cx="577.7" cy="240.8" r="1.3"/><circle cx="577.8" cy="247.5" r="1.3"/><circle cx="576.4" cy="274.1" r="1.3"/><circle cx="576.9" cy="269.5" r="1.3"/><circle cx="579.9" cy="241.1" r="1.3"/><circle cx="576.9" cy="248.6" r="1.3"/><circle cx="580.0" cy="254.0" r="1.3"/><circle cx="579.6" cy="280.2" r="1.3"/><circle cx="578.4" cy="266.9" r="1.3"/><circle cx="577.1" cy="245.7" r="1.3"/><circle cx="575.6" cy="243.3" r="1.3"/><circle cx="576.1" cy="247.4" r="1.3"/><circle cx="579.7" cy="231.9" r="1.3"/><circle cx="580.3" cy="258.3" r="1.3"/><circle cx="580.4" cy="245.7" r="1.3"/><circle cx="577.0" cy="274.8" r="1.3"/><circle cx="580.2" cy="248.7" r="1.3"/><circle cx="577.8" cy="252.2" r="1.3"/><circle cx="577.4" cy="266.1" r="1.3"/><circle cx="580.1" cy="265.2" r="1.3"/><circle cx="579.6" cy="266.0" r="1.3"/><circle cx="578.9" cy="270.2" r="1.3"/><circle cx="577.0" cy="233.9" r="1.3"/><circle cx="576.1" cy="240.5" r="1.3"/><circle cx="576.5" cy="270.6" r="1.3"/><circle cx="576.9" cy="238.4" r="1.3"/><circle cx="576.5" cy="254.6" r="1.3"/><circle cx="578.4" cy="245.3" r="1.3"/><circle cx="577.1" cy="280.2" r="1.3"/><circle cx="576.6" cy="236.4" r="1.3"/><circle cx="579.9" cy="236.5" r="1.3"/><circle cx="577.4" cy="248.0" r="1.3"/><circle cx="575.6" cy="263.7" r="1.3"/><circle cx="575.6" cy="269.6" r="1.3"/><circle cx="578.3" cy="246.7" r="1.3"/><circle cx="575.7" cy="269.3" r="1.3"/><circle cx="578.3" cy="241.0" r="1.3"/><circle cx="575.7" cy="268.6" r="1.3"/><circle cx="577.9" cy="248.0" r="1.3"/><circle cx="578.6" cy="270.9" r="1.3"/><circle cx="578.2" cy="255.6" r="1.3"/><circle cx="576.6" cy="246.2" r="1.3"/><circle cx="579.7" cy="253.9" r="1.3"/><circle cx="580.4" cy="257.2" r="1.3"/><circle cx="579.6" cy="251.6" r="1.3"/><circle cx="580.2" cy="242.7" r="1.3"/><circle cx="580.4" cy="266.3" r="1.3"/><circle cx="577.4" cy="236.1" r="1.3"/><circle cx="578.3" cy="266.8" r="1.3"/><circle cx="577.6" cy="268.7" r="1.3"/><circle cx="579.5" cy="228.8" r="1.3"/><circle cx="576.4" cy="294.5" r="1.3"/></g>
<g fill="#DA3328" fill-opacity="0.6"><circle cx="623.2" cy="255.7" r="1.3"/><circle cx="624.1" cy="269.5" r="1.3"/><circle cx="626.3" cy="241.5" r="1.3"/><circle cx="626.6" cy="252.7" r="1.3"/><circle cx="624.8" cy="254.4" r="1.3"/><circle cx="627.2" cy="231.6" r="1.3"/><circle cx="624.7" cy="273.2" r="1.3"/><circle cx="622.9" cy="268.2" r="1.3"/><circle cx="623.8" cy="263.6" r="1.3"/><circle cx="627.2" cy="231.7" r="1.3"/><circle cx="626.3" cy="237.7" r="1.3"/><circle cx="623.2" cy="244.4" r="1.3"/><circle cx="624.2" cy="271.4" r="1.3"/><circle cx="624.7" cy="291.7" r="1.3"/><circle cx="625.2" cy="242.3" r="1.3"/><circle cx="622.9" cy="241.7" r="1.3"/><circle cx="627.4" cy="248.3" r="1.3"/><circle cx="625.4" cy="240.1" r="1.3"/><circle cx="624.1" cy="235.0" r="1.3"/><circle cx="622.9" cy="244.4" r="1.3"/><circle cx="625.6" cy="234.4" r="1.3"/><circle cx="627.4" cy="236.7" r="1.3"/><circle cx="626.3" cy="269.1" r="1.3"/><circle cx="627.0" cy="247.2" r="1.3"/><circle cx="627.1" cy="262.1" r="1.3"/><circle cx="626.1" cy="268.7" r="1.3"/><circle cx="623.0" cy="264.5" r="1.3"/><circle cx="624.3" cy="259.2" r="1.3"/><circle cx="625.7" cy="264.0" r="1.3"/><circle cx="624.8" cy="249.3" r="1.3"/><circle cx="623.8" cy="267.1" r="1.3"/><circle cx="623.1" cy="273.7" r="1.3"/><circle cx="627.1" cy="235.9" r="1.3"/><circle cx="626.1" cy="250.4" r="1.3"/><circle cx="624.2" cy="239.1" r="1.3"/><circle cx="625.1" cy="264.3" r="1.3"/><circle cx="627.1" cy="260.4" r="1.3"/><circle cx="623.5" cy="237.7" r="1.3"/><circle cx="625.9" cy="240.4" r="1.3"/><circle cx="623.9" cy="252.3" r="1.3"/><circle cx="627.3" cy="257.4" r="1.3"/><circle cx="626.8" cy="262.8" r="1.3"/><circle cx="627.5" cy="263.7" r="1.3"/><circle cx="624.7" cy="259.8" r="1.3"/><circle cx="625.3" cy="268.3" r="1.3"/><circle cx="624.4" cy="257.2" r="1.3"/><circle cx="624.5" cy="247.1" r="1.3"/><circle cx="627.5" cy="250.3" r="1.3"/><circle cx="627.6" cy="253.9" r="1.3"/><circle cx="627.7" cy="238.0" r="1.3"/><circle cx="627.3" cy="242.8" r="1.3"/><circle cx="625.2" cy="242.9" r="1.3"/><circle cx="626.1" cy="259.5" r="1.3"/><circle cx="627.3" cy="233.1" r="1.3"/><circle cx="624.9" cy="267.0" r="1.3"/><circle cx="627.3" cy="266.3" r="1.3"/><circle cx="626.7" cy="251.2" r="1.3"/><circle cx="624.2" cy="278.0" r="1.3"/><circle cx="624.5" cy="246.5" r="1.3"/><circle cx="626.2" cy="261.1" r="1.3"/><circle cx="623.6" cy="262.5" r="1.3"/><circle cx="624.0" cy="261.7" r="1.3"/><circle cx="623.7" cy="261.1" r="1.3"/><circle cx="623.3" cy="257.7" r="1.3"/><circle cx="627.3" cy="251.4" r="1.3"/><circle cx="627.7" cy="240.7" r="1.3"/><circle cx="626.9" cy="261.8" r="1.3"/><circle cx="625.3" cy="243.0" r="1.3"/><circle cx="626.5" cy="231.2" r="1.3"/><circle cx="626.2" cy="266.3" r="1.3"/><circle cx="625.0" cy="251.4" r="1.3"/><circle cx="625.4" cy="262.3" r="1.3"/><circle cx="623.4" cy="258.6" r="1.3"/><circle cx="624.0" cy="265.2" r="1.3"/><circle cx="624.5" cy="253.7" r="1.3"/><circle cx="624.5" cy="231.8" r="1.3"/><circle cx="626.0" cy="233.0" r="1.3"/><circle cx="624.0" cy="262.9" r="1.3"/><circle cx="623.9" cy="260.2" r="1.3"/><circle cx="627.1" cy="268.6" r="1.3"/><circle cx="626.7" cy="241.4" r="1.3"/><circle cx="627.4" cy="248.9" r="1.3"/><circle cx="626.6" cy="256.7" r="1.3"/><circle cx="623.7" cy="263.1" r="1.3"/><circle cx="625.2" cy="256.9" r="1.3"/><circle cx="626.9" cy="249.7" r="1.3"/><circle cx="626.8" cy="250.1" r="1.3"/><circle cx="623.9" cy="252.9" r="1.3"/><circle cx="625.2" cy="265.6" r="1.3"/><circle cx="625.7" cy="253.5" r="1.3"/><circle cx="622.8" cy="236.9" r="1.3"/><circle cx="624.0" cy="263.9" r="1.3"/><circle cx="626.5" cy="251.4" r="1.3"/><circle cx="626.1" cy="232.4" r="1.3"/><circle cx="625.0" cy="241.7" r="1.3"/><circle cx="625.6" cy="258.8" r="1.3"/><circle cx="625.4" cy="242.4" r="1.3"/><circle cx="624.5" cy="242.3" r="1.3"/><circle cx="623.2" cy="269.9" r="1.3"/><circle cx="626.5" cy="245.9" r="1.3"/><circle cx="626.6" cy="235.6" r="1.3"/><circle cx="624.9" cy="242.7" r="1.3"/><circle cx="626.6" cy="237.2" r="1.3"/><circle cx="626.9" cy="255.2" r="1.3"/><circle cx="626.2" cy="243.6" r="1.3"/><circle cx="626.8" cy="237.1" r="1.3"/><circle cx="627.6" cy="266.1" r="1.3"/><circle cx="622.9" cy="253.2" r="1.3"/><circle cx="627.5" cy="254.7" r="1.3"/><circle cx="625.0" cy="260.8" r="1.3"/><circle cx="626.6" cy="237.0" r="1.3"/><circle cx="626.4" cy="250.4" r="1.3"/><circle cx="623.2" cy="262.2" r="1.3"/><circle cx="625.7" cy="240.6" r="1.3"/><circle cx="623.2" cy="261.3" r="1.3"/><circle cx="626.4" cy="243.5" r="1.3"/><circle cx="624.4" cy="258.1" r="1.3"/><circle cx="624.6" cy="235.2" r="1.3"/><circle cx="624.1" cy="255.7" r="1.3"/><circle cx="626.8" cy="270.9" r="1.3"/><circle cx="626.0" cy="266.4" r="1.3"/><circle cx="624.2" cy="251.0" r="1.3"/><circle cx="626.5" cy="244.4" r="1.3"/><circle cx="623.7" cy="253.3" r="1.3"/><circle cx="626.8" cy="257.5" r="1.3"/><circle cx="625.8" cy="232.7" r="1.3"/><circle cx="626.6" cy="257.3" r="1.3"/><circle cx="625.8" cy="237.5" r="1.3"/><circle cx="627.7" cy="263.8" r="1.3"/><circle cx="626.2" cy="250.0" r="1.3"/><circle cx="625.1" cy="250.7" r="1.3"/><circle cx="625.7" cy="270.1" r="1.3"/><circle cx="625.6" cy="259.2" r="1.3"/><circle cx="624.2" cy="274.2" r="1.3"/><circle cx="624.3" cy="243.4" r="1.3"/><circle cx="626.7" cy="243.1" r="1.3"/><circle cx="626.8" cy="257.2" r="1.3"/><circle cx="627.6" cy="267.9" r="1.3"/><circle cx="626.2" cy="269.2" r="1.3"/><circle cx="625.3" cy="254.7" r="1.3"/><circle cx="624.7" cy="230.0" r="1.3"/><circle cx="626.3" cy="292.7" r="1.3"/><circle cx="623.5" cy="302.0" r="1.3"/></g>
<g fill="#4677BD" fill-opacity="0.6"><circle cx="646.4" cy="236.8" r="1.3"/><circle cx="643.8" cy="229.7" r="1.3"/><circle cx="646.5" cy="253.3" r="1.3"/><circle cx="643.2" cy="237.0" r="1.3"/><circle cx="643.4" cy="252.6" r="1.3"/><circle cx="647.3" cy="258.5" r="1.3"/><circle cx="645.5" cy="256.8" r="1.3"/><circle cx="645.2" cy="236.1" r="1.3"/><circle cx="647.8" cy="249.1" r="1.3"/><circle cx="646.9" cy="256.9" r="1.3"/><circle cx="644.1" cy="254.6" r="1.3"/><circle cx="646.5" cy="248.8" r="1.3"/><circle cx="644.9" cy="280.5" r="1.3"/><circle cx="645.3" cy="254.9" r="1.3"/><circle cx="644.5" cy="228.9" r="1.3"/><circle cx="644.1" cy="243.0" r="1.3"/><circle cx="644.5" cy="246.3" r="1.3"/><circle cx="644.3" cy="243.3" r="1.3"/><circle cx="643.9" cy="233.7" r="1.3"/><circle cx="647.3" cy="273.1" r="1.3"/><circle cx="644.8" cy="249.3" r="1.3"/><circle cx="645.8" cy="231.2" r="1.3"/><circle cx="647.0" cy="282.1" r="1.3"/><circle cx="646.3" cy="242.6" r="1.3"/><circle cx="643.7" cy="242.7" r="1.3"/><circle cx="647.7" cy="247.8" r="1.3"/><circle cx="647.6" cy="245.7" r="1.3"/><circle cx="647.1" cy="266.5" r="1.3"/><circle cx="644.6" cy="285.5" r="1.3"/><circle cx="647.1" cy="260.3" r="1.3"/><circle cx="646.2" cy="257.6" r="1.3"/><circle cx="643.1" cy="271.8" r="1.3"/><circle cx="644.8" cy="255.9" r="1.3"/><circle cx="646.4" cy="283.3" r="1.3"/><circle cx="645.7" cy="239.8" r="1.3"/><circle cx="647.7" cy="243.9" r="1.3"/><circle cx="646.9" cy="244.9" r="1.3"/><circle cx="647.1" cy="261.1" r="1.3"/><circle cx="647.9" cy="259.8" r="1.3"/><circle cx="644.7" cy="278.2" r="1.3"/><circle cx="647.5" cy="250.5" r="1.3"/><circle cx="643.0" cy="260.7" r="1.3"/><circle cx="646.9" cy="239.6" r="1.3"/><circle cx="643.4" cy="265.5" r="1.3"/><circle cx="645.4" cy="269.8" r="1.3"/><circle cx="645.2" cy="252.3" r="1.3"/><circle cx="643.3" cy="278.9" r="1.3"/><circle cx="646.1" cy="250.1" r="1.3"/><circle cx="646.9" cy="235.2" r="1.3"/><circle cx="644.1" cy="243.9" r="1.3"/><circle cx="644.2" cy="260.6" r="1.3"/><circle cx="646.8" cy="264.3" r="1.3"/><circle cx="645.6" cy="268.9" r="1.3"/><circle cx="643.0" cy="248.5" r="1.3"/><circle cx="644.5" cy="247.4" r="1.3"/><circle cx="647.7" cy="243.3" r="1.3"/><circle cx="644.3" cy="255.0" r="1.3"/><circle cx="644.4" cy="241.1" r="1.3"/><circle cx="645.2" cy="244.3" r="1.3"/><circle cx="647.4" cy="238.7" r="1.3"/><circle cx="647.0" cy="239.9" r="1.3"/><circle cx="644.9" cy="262.7" r="1.3"/><circle cx="646.3" cy="263.6" r="1.3"/><circle cx="643.1" cy="258.9" r="1.3"/><circle cx="643.3" cy="231.5" r="1.3"/><circle cx="644.8" cy="232.5" r="1.3"/><circle cx="646.1" cy="282.8" r="1.3"/><circle cx="643.7" cy="288.2" r="1.3"/><circle cx="643.2" cy="267.1" r="1.3"/><circle cx="647.2" cy="245.3" r="1.3"/><circle cx="643.9" cy="229.2" r="1.3"/><circle cx="643.2" cy="247.4" r="1.3"/><circle cx="643.4" cy="245.9" r="1.3"/><circle cx="643.3" cy="267.4" r="1.3"/><circle cx="644.4" cy="250.1" r="1.3"/><circle cx="645.8" cy="234.5" r="1.3"/><circle cx="646.2" cy="233.6" r="1.3"/><circle cx="644.4" cy="261.7" r="1.3"/><circle cx="645.5" cy="267.5" r="1.3"/><circle cx="644.6" cy="266.0" r="1.3"/><circle cx="645.8" cy="250.7" r="1.3"/><circle cx="643.5" cy="263.2" r="1.3"/><circle cx="646.1" cy="249.5" r="1.3"/><circle cx="643.0" cy="234.0" r="1.3"/><circle cx="647.6" cy="250.3" r="1.3"/><circle cx="644.0" cy="245.0" r="1.3"/><circle cx="645.7" cy="238.1" r="1.3"/><circle cx="643.9" cy="265.0" r="1.3"/><circle cx="645.2" cy="252.2" r="1.3"/><circle cx="644.3" cy="275.0" r="1.3"/><circle cx="646.2" cy="254.6" r="1.3"/><circle cx="646.8" cy="248.0" r="1.3"/><circle cx="647.2" cy="238.0" r="1.3"/><circle cx="647.8" cy="241.1" r="1.3"/><circle cx="645.2" cy="262.5" r="1.3"/><circle cx="645.7" cy="254.8" r="1.3"/><circle cx="644.7" cy="282.9" r="1.3"/><circle cx="644.4" cy="262.3" r="1.3"/><circle cx="645.5" cy="243.2" r="1.3"/><circle cx="647.8" cy="236.4" r="1.3"/><circle cx="643.2" cy="246.2" r="1.3"/><circle cx="646.7" cy="271.8" r="1.3"/><circle cx="644.6" cy="273.4" r="1.3"/><circle cx="645.9" cy="243.3" r="1.3"/><circle cx="644.3" cy="283.8" r="1.3"/><circle cx="646.5" cy="234.0" r="1.3"/><circle cx="645.4" cy="252.9" r="1.3"/><circle cx="644.5" cy="261.5" r="1.3"/><circle cx="645.2" cy="256.4" r="1.3"/><circle cx="643.0" cy="246.0" r="1.3"/><circle cx="643.4" cy="228.8" r="1.3"/><circle cx="647.5" cy="294.5" r="1.3"/></g>
<line x1="557.60" y1="225.50" x2="557.60" y2="243.90" stroke="#DA3328" stroke-width="0.8" stroke-opacity="0.8"/>
<line x1="557.60" y1="267.40" x2="557.60" y2="303.30" stroke="#DA3328" stroke-width="0.8" stroke-opacity="0.8"/>
<rect x="550.70" y="243.90" width="13.80" height="23.50" fill="#DA3328" fill-opacity="0.25" stroke="#DA3328" stroke-opacity="0.85" stroke-width="0.8"/>
<line x1="550.70" y1="253.30" x2="564.50" y2="253.30" stroke="#DA3328" stroke-width="1.2" stroke-opacity="1.0"/>
<line x1="578.05" y1="228.80" x2="578.05" y2="242.20" stroke="#4677BD" stroke-width="0.8" stroke-opacity="0.8"/>
<line x1="578.05" y1="264.70" x2="578.05" y2="294.50" stroke="#4677BD" stroke-width="0.8" stroke-opacity="0.8"/>
<rect x="571.10" y="242.20" width="13.90" height="22.50" fill="#4677BD" fill-opacity="0.25" stroke="#4677BD" stroke-opacity="0.85" stroke-width="0.8"/>
<line x1="571.10" y1="253.50" x2="585.00" y2="253.50" stroke="#4677BD" stroke-width="1.2" stroke-opacity="1.0"/>
<line x1="625.25" y1="230.00" x2="625.25" y2="243.90" stroke="#DA3328" stroke-width="0.8" stroke-opacity="0.8"/>
<line x1="625.25" y1="263.40" x2="625.25" y2="292.70" stroke="#DA3328" stroke-width="0.8" stroke-opacity="0.8"/>
<rect x="618.30" y="243.90" width="13.90" height="19.50" fill="#DA3328" fill-opacity="0.25" stroke="#DA3328" stroke-opacity="0.85" stroke-width="0.8"/>
<line x1="618.30" y1="253.30" x2="632.20" y2="253.30" stroke="#DA3328" stroke-width="1.2" stroke-opacity="1.0"/>
<line x1="645.45" y1="228.80" x2="645.45" y2="242.20" stroke="#4677BD" stroke-width="0.8" stroke-opacity="0.8"/>
<line x1="645.45" y1="264.70" x2="645.45" y2="294.50" stroke="#4677BD" stroke-width="0.8" stroke-opacity="0.8"/>
<rect x="638.50" y="242.20" width="13.90" height="22.50" fill="#4677BD" fill-opacity="0.25" stroke="#4677BD" stroke-opacity="0.85" stroke-width="0.8"/>
<line x1="638.50" y1="253.50" x2="652.40" y2="253.50" stroke="#4677BD" stroke-width="1.2" stroke-opacity="1.0"/>
<line x1="527.60" y1="214.40" x2="527.60" y2="308.70" stroke="#5c5c5c" stroke-width="1.0" stroke-opacity="1"/>
<line x1="527.10" y1="308.20" x2="675.60" y2="308.20" stroke="#5c5c5c" stroke-width="1.0" stroke-opacity="1"/>
<line x1="527.60" y1="236.10" x2="529.80" y2="236.10" stroke="#5c5c5c" stroke-width="0.8" stroke-opacity="1"/>
<text x="526.00" y="237.79" font-size="4.7" font-weight="normal" text-anchor="end" fill="#404040" stroke="#404040" stroke-width="0.2">140</text>
<line x1="527.60" y1="261.60" x2="529.80" y2="261.60" stroke="#5c5c5c" stroke-width="0.8" stroke-opacity="1"/>
<text x="526.00" y="263.29" font-size="4.7" font-weight="normal" text-anchor="end" fill="#404040" stroke="#404040" stroke-width="0.2">100</text>
<line x1="527.60" y1="287.30" x2="529.80" y2="287.30" stroke="#5c5c5c" stroke-width="0.8" stroke-opacity="1"/>
<text x="526.00" y="288.99" font-size="4.7" font-weight="normal" text-anchor="end" fill="#404040" stroke="#404040" stroke-width="0.2">60</text>
<line x1="567.80" y1="308.20" x2="567.80" y2="305.60" stroke="#5c5c5c" stroke-width="1.0" stroke-opacity="1"/>
<line x1="635.40" y1="308.20" x2="635.40" y2="305.60" stroke="#5c5c5c" stroke-width="1.0" stroke-opacity="1"/>
<text x="569.20" y="312.80" font-size="5.5" font-weight="normal" text-anchor="end" fill="#333" stroke="#333" stroke-width="0.2" transform="rotate(-25 569.1999999999999 312.8)">D1 Ill vs D85 Not−Ill</text>
<text x="636.80" y="312.80" font-size="5.5" font-weight="normal" text-anchor="end" fill="#333" stroke="#333" stroke-width="0.2" transform="rotate(-25 636.8 312.8)">D15 Ill vs D85 Not−Ill</text>
<text x="567.90" y="220.60" font-size="6.4" font-weight="bold" text-anchor="middle" fill="#000" stroke="#000" stroke-width="0.12">FDR p = 0.353</text>
<text x="635.40" y="224.40" font-size="6.4" font-weight="bold" text-anchor="middle" fill="#000" stroke="#000" stroke-width="0.12">FDR p = 0.779</text>
<text x="19.60" y="271.50" font-size="6.4" font-weight="bold" text-anchor="middle" fill="#000" stroke="#000" stroke-width="0.12" transform="rotate(-90 19.6 271.5)">Species Richness</text>
<rect x="578.40" y="347.20" width="6.50" height="5.20" fill="#DA3328" fill-opacity="0.38" stroke="#DA3328" stroke-opacity="0.7" stroke-width="0.7"/>
<line x1="581.65" y1="346.10" x2="581.65" y2="353.50" stroke="#DA3328" stroke-width="0.8" stroke-opacity="0.7"/>
<line x1="578.40" y1="349.80" x2="584.90" y2="349.80" stroke="#DA3328" stroke-width="0.7" stroke-opacity="0.6"/>
<circle cx="581.65" cy="349.8" r="1.1" fill="#DA3328" fill-opacity="0.8"/>
<rect x="597.20" y="347.20" width="6.50" height="5.20" fill="#4677BD" fill-opacity="0.38" stroke="#4677BD" stroke-opacity="0.7" stroke-width="0.7"/>
<line x1="600.45" y1="346.10" x2="600.45" y2="353.50" stroke="#4677BD" stroke-width="0.8" stroke-opacity="0.7"/>
<line x1="597.20" y1="349.80" x2="603.70" y2="349.80" stroke="#4677BD" stroke-width="0.7" stroke-opacity="0.6"/>
<circle cx="600.45" cy="349.8" r="1.1" fill="#4677BD" fill-opacity="0.8"/>
<text x="589.30" y="351.96" font-size="6.0" font-weight="normal" text-anchor="start" fill="#111" stroke="#111" stroke-width="0.2">Ill</text>
<text x="608.00" y="351.96" font-size="6.0" font-weight="normal" text-anchor="start" fill="#111" stroke="#111" stroke-width="0.2">Not−Ill</text></svg></body></html>
